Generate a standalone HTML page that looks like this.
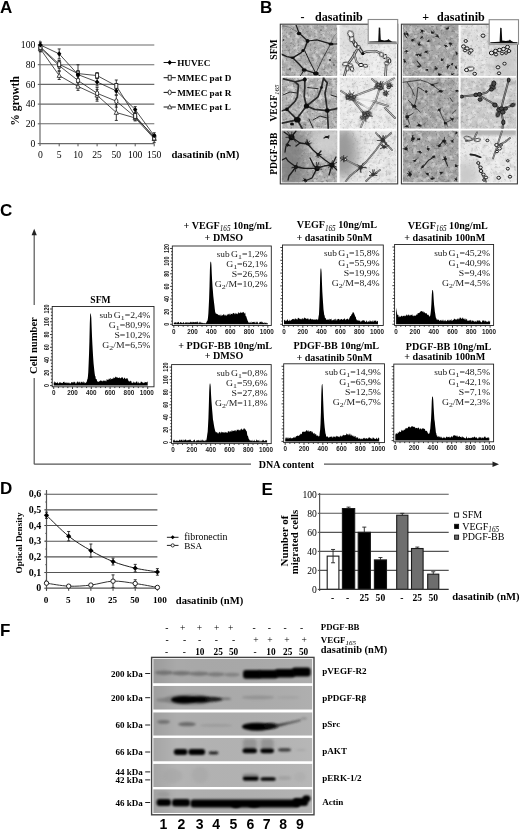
<!DOCTYPE html>
<html><head><meta charset="utf-8"><style>
html,body{margin:0;padding:0;background:#fff;}
body{width:520px;height:830px;overflow:hidden;font-family:"Liberation Serif",serif;}
svg{display:block;filter:blur(0.3px);}
</style></head><body>
<svg width="520" height="830" viewBox="0 0 520 830">
<rect width="520" height="830" fill="#fff"/>
<text x="0.00" y="12.50" font-family="Liberation Sans" font-size="17" font-weight="bold" text-anchor="start" fill="#000">A</text>
<line x1="40.00" y1="45.00" x2="154.30" y2="45.00" stroke="#6a6a6a" stroke-width="1.1"/>
<line x1="37.80" y1="45.00" x2="40.00" y2="45.00" stroke="#555" stroke-width="1"/>
<text x="35.40" y="48.30" font-family="Liberation Serif" font-size="9.7" text-anchor="end" fill="#000">100</text>
<line x1="40.00" y1="64.70" x2="154.30" y2="64.70" stroke="#6a6a6a" stroke-width="1.1"/>
<line x1="37.80" y1="64.70" x2="40.00" y2="64.70" stroke="#555" stroke-width="1"/>
<text x="35.40" y="68.00" font-family="Liberation Serif" font-size="9.7" text-anchor="end" fill="#000">80</text>
<line x1="40.00" y1="84.40" x2="154.30" y2="84.40" stroke="#6a6a6a" stroke-width="1.1"/>
<line x1="37.80" y1="84.40" x2="40.00" y2="84.40" stroke="#555" stroke-width="1"/>
<text x="35.40" y="87.70" font-family="Liberation Serif" font-size="9.7" text-anchor="end" fill="#000">60</text>
<line x1="40.00" y1="104.10" x2="154.30" y2="104.10" stroke="#6a6a6a" stroke-width="1.1"/>
<line x1="37.80" y1="104.10" x2="40.00" y2="104.10" stroke="#555" stroke-width="1"/>
<text x="35.40" y="107.40" font-family="Liberation Serif" font-size="9.7" text-anchor="end" fill="#000">40</text>
<line x1="40.00" y1="123.80" x2="154.30" y2="123.80" stroke="#6a6a6a" stroke-width="1.1"/>
<line x1="37.80" y1="123.80" x2="40.00" y2="123.80" stroke="#555" stroke-width="1"/>
<text x="35.40" y="127.10" font-family="Liberation Serif" font-size="9.7" text-anchor="end" fill="#000">20</text>
<line x1="37.80" y1="143.60" x2="40.00" y2="143.60" stroke="#555" stroke-width="1"/>
<text x="35.40" y="146.90" font-family="Liberation Serif" font-size="9.7" text-anchor="end" fill="#000">0</text>
<line x1="40.00" y1="40.50" x2="40.00" y2="146.00" stroke="#6a6a6a" stroke-width="1.2"/>
<line x1="40.00" y1="143.60" x2="154.30" y2="143.60" stroke="#6a6a6a" stroke-width="1.2"/>
<line x1="59.20" y1="143.60" x2="59.20" y2="146.30" stroke="#555" stroke-width="1"/>
<line x1="78.00" y1="143.60" x2="78.00" y2="146.30" stroke="#555" stroke-width="1"/>
<line x1="97.10" y1="143.60" x2="97.10" y2="146.30" stroke="#555" stroke-width="1"/>
<line x1="116.30" y1="143.60" x2="116.30" y2="146.30" stroke="#555" stroke-width="1"/>
<line x1="135.20" y1="143.60" x2="135.20" y2="146.30" stroke="#555" stroke-width="1"/>
<line x1="154.20" y1="143.60" x2="154.20" y2="146.30" stroke="#555" stroke-width="1"/>
<text x="40.40" y="158.40" font-family="Liberation Serif" font-size="9.7" text-anchor="middle" fill="#000">0</text>
<text x="59.20" y="158.40" font-family="Liberation Serif" font-size="9.7" text-anchor="middle" fill="#000">5</text>
<text x="78.00" y="158.40" font-family="Liberation Serif" font-size="9.7" text-anchor="middle" fill="#000">10</text>
<text x="97.10" y="158.40" font-family="Liberation Serif" font-size="9.7" text-anchor="middle" fill="#000">25</text>
<text x="116.30" y="158.40" font-family="Liberation Serif" font-size="9.7" text-anchor="middle" fill="#000">50</text>
<text x="135.20" y="158.40" font-family="Liberation Serif" font-size="9.7" text-anchor="middle" fill="#000">100</text>
<text x="154.20" y="158.40" font-family="Liberation Serif" font-size="9.7" text-anchor="middle" fill="#000">150</text>
<text x="171.40" y="158.30" font-family="Liberation Serif" font-size="10.7" font-weight="bold" text-anchor="start" fill="#000">dasatinib (nM)</text>
<text x="19.30" y="101.00" font-family="Liberation Serif" font-size="11.6" font-weight="bold" text-anchor="middle" fill="#000" transform="rotate(-90 19.3 101)">% growth</text>
<polyline points="40.40,48.94 59.20,75.57 78.00,86.41 97.10,95.29 116.30,112.54 135.20,117.96 154.20,138.67" fill="none" stroke="#222" stroke-width="0.8"/>
<polyline points="40.40,47.96 59.20,65.71 78.00,80.50 97.10,93.31 116.30,101.20 135.20,116.98 154.20,136.70" fill="none" stroke="#222" stroke-width="0.8"/>
<polyline points="40.40,46.97 59.20,64.23 78.00,73.59 97.10,75.57 116.30,85.92 135.20,115.99 154.20,137.68" fill="none" stroke="#222" stroke-width="0.8"/>
<polyline points="40.40,45.00 59.20,53.87 78.00,74.58 97.10,81.97 116.30,90.85 135.20,109.58 154.20,135.71" fill="none" stroke="#222" stroke-width="0.8"/>
<line x1="40.40" y1="45.99" x2="40.40" y2="51.90" stroke="#222" stroke-width="0.9"/>
<line x1="38.90" y1="45.99" x2="41.90" y2="45.99" stroke="#222" stroke-width="0.9"/>
<line x1="38.90" y1="51.90" x2="41.90" y2="51.90" stroke="#222" stroke-width="0.9"/>
<line x1="59.20" y1="71.62" x2="59.20" y2="79.51" stroke="#222" stroke-width="0.9"/>
<line x1="57.70" y1="71.62" x2="60.70" y2="71.62" stroke="#222" stroke-width="0.9"/>
<line x1="57.70" y1="79.51" x2="60.70" y2="79.51" stroke="#222" stroke-width="0.9"/>
<line x1="78.00" y1="82.47" x2="78.00" y2="90.36" stroke="#222" stroke-width="0.9"/>
<line x1="76.50" y1="82.47" x2="79.50" y2="82.47" stroke="#222" stroke-width="0.9"/>
<line x1="76.50" y1="90.36" x2="79.50" y2="90.36" stroke="#222" stroke-width="0.9"/>
<line x1="97.10" y1="89.37" x2="97.10" y2="101.20" stroke="#222" stroke-width="0.9"/>
<line x1="95.60" y1="89.37" x2="98.60" y2="89.37" stroke="#222" stroke-width="0.9"/>
<line x1="95.60" y1="101.20" x2="98.60" y2="101.20" stroke="#222" stroke-width="0.9"/>
<line x1="116.30" y1="104.65" x2="116.30" y2="120.43" stroke="#222" stroke-width="0.9"/>
<line x1="114.80" y1="104.65" x2="117.80" y2="104.65" stroke="#222" stroke-width="0.9"/>
<line x1="114.80" y1="120.43" x2="117.80" y2="120.43" stroke="#222" stroke-width="0.9"/>
<line x1="135.20" y1="115.01" x2="135.20" y2="120.92" stroke="#222" stroke-width="0.9"/>
<line x1="133.70" y1="115.01" x2="136.70" y2="115.01" stroke="#222" stroke-width="0.9"/>
<line x1="133.70" y1="120.92" x2="136.70" y2="120.92" stroke="#222" stroke-width="0.9"/>
<line x1="154.20" y1="134.73" x2="154.20" y2="142.61" stroke="#222" stroke-width="0.9"/>
<line x1="152.70" y1="134.73" x2="155.70" y2="134.73" stroke="#222" stroke-width="0.9"/>
<line x1="152.70" y1="142.61" x2="155.70" y2="142.61" stroke="#222" stroke-width="0.9"/>
<line x1="40.40" y1="45.00" x2="40.40" y2="50.92" stroke="#222" stroke-width="0.9"/>
<line x1="38.90" y1="45.00" x2="41.90" y2="45.00" stroke="#222" stroke-width="0.9"/>
<line x1="38.90" y1="50.92" x2="41.90" y2="50.92" stroke="#222" stroke-width="0.9"/>
<line x1="59.20" y1="60.78" x2="59.20" y2="70.64" stroke="#222" stroke-width="0.9"/>
<line x1="57.70" y1="60.78" x2="60.70" y2="60.78" stroke="#222" stroke-width="0.9"/>
<line x1="57.70" y1="70.64" x2="60.70" y2="70.64" stroke="#222" stroke-width="0.9"/>
<line x1="78.00" y1="74.58" x2="78.00" y2="86.41" stroke="#222" stroke-width="0.9"/>
<line x1="76.50" y1="74.58" x2="79.50" y2="74.58" stroke="#222" stroke-width="0.9"/>
<line x1="76.50" y1="86.41" x2="79.50" y2="86.41" stroke="#222" stroke-width="0.9"/>
<line x1="97.10" y1="87.40" x2="97.10" y2="99.23" stroke="#222" stroke-width="0.9"/>
<line x1="95.60" y1="87.40" x2="98.60" y2="87.40" stroke="#222" stroke-width="0.9"/>
<line x1="95.60" y1="99.23" x2="98.60" y2="99.23" stroke="#222" stroke-width="0.9"/>
<line x1="116.30" y1="95.29" x2="116.30" y2="107.12" stroke="#222" stroke-width="0.9"/>
<line x1="114.80" y1="95.29" x2="117.80" y2="95.29" stroke="#222" stroke-width="0.9"/>
<line x1="114.80" y1="107.12" x2="117.80" y2="107.12" stroke="#222" stroke-width="0.9"/>
<line x1="135.20" y1="114.02" x2="135.20" y2="119.94" stroke="#222" stroke-width="0.9"/>
<line x1="133.70" y1="114.02" x2="136.70" y2="114.02" stroke="#222" stroke-width="0.9"/>
<line x1="133.70" y1="119.94" x2="136.70" y2="119.94" stroke="#222" stroke-width="0.9"/>
<line x1="154.20" y1="134.73" x2="154.20" y2="138.67" stroke="#222" stroke-width="0.9"/>
<line x1="152.70" y1="134.73" x2="155.70" y2="134.73" stroke="#222" stroke-width="0.9"/>
<line x1="152.70" y1="138.67" x2="155.70" y2="138.67" stroke="#222" stroke-width="0.9"/>
<line x1="40.40" y1="43.03" x2="40.40" y2="50.92" stroke="#222" stroke-width="0.9"/>
<line x1="38.90" y1="43.03" x2="41.90" y2="43.03" stroke="#222" stroke-width="0.9"/>
<line x1="38.90" y1="50.92" x2="41.90" y2="50.92" stroke="#222" stroke-width="0.9"/>
<line x1="59.20" y1="60.28" x2="59.20" y2="68.17" stroke="#222" stroke-width="0.9"/>
<line x1="57.70" y1="60.28" x2="60.70" y2="60.28" stroke="#222" stroke-width="0.9"/>
<line x1="57.70" y1="68.17" x2="60.70" y2="68.17" stroke="#222" stroke-width="0.9"/>
<line x1="78.00" y1="64.72" x2="78.00" y2="82.47" stroke="#222" stroke-width="0.9"/>
<line x1="76.50" y1="64.72" x2="79.50" y2="64.72" stroke="#222" stroke-width="0.9"/>
<line x1="76.50" y1="82.47" x2="79.50" y2="82.47" stroke="#222" stroke-width="0.9"/>
<line x1="97.10" y1="72.61" x2="97.10" y2="78.52" stroke="#222" stroke-width="0.9"/>
<line x1="95.60" y1="72.61" x2="98.60" y2="72.61" stroke="#222" stroke-width="0.9"/>
<line x1="95.60" y1="78.52" x2="98.60" y2="78.52" stroke="#222" stroke-width="0.9"/>
<line x1="116.30" y1="80.00" x2="116.30" y2="91.83" stroke="#222" stroke-width="0.9"/>
<line x1="114.80" y1="80.00" x2="117.80" y2="80.00" stroke="#222" stroke-width="0.9"/>
<line x1="114.80" y1="91.83" x2="117.80" y2="91.83" stroke="#222" stroke-width="0.9"/>
<line x1="135.20" y1="113.03" x2="135.20" y2="118.95" stroke="#222" stroke-width="0.9"/>
<line x1="133.70" y1="113.03" x2="136.70" y2="113.03" stroke="#222" stroke-width="0.9"/>
<line x1="133.70" y1="118.95" x2="136.70" y2="118.95" stroke="#222" stroke-width="0.9"/>
<line x1="154.20" y1="134.73" x2="154.20" y2="140.64" stroke="#222" stroke-width="0.9"/>
<line x1="152.70" y1="134.73" x2="155.70" y2="134.73" stroke="#222" stroke-width="0.9"/>
<line x1="152.70" y1="140.64" x2="155.70" y2="140.64" stroke="#222" stroke-width="0.9"/>
<line x1="40.40" y1="42.04" x2="40.40" y2="47.96" stroke="#222" stroke-width="0.9"/>
<line x1="38.90" y1="42.04" x2="41.90" y2="42.04" stroke="#222" stroke-width="0.9"/>
<line x1="38.90" y1="47.96" x2="41.90" y2="47.96" stroke="#222" stroke-width="0.9"/>
<line x1="59.20" y1="48.94" x2="59.20" y2="58.80" stroke="#222" stroke-width="0.9"/>
<line x1="57.70" y1="48.94" x2="60.70" y2="48.94" stroke="#222" stroke-width="0.9"/>
<line x1="57.70" y1="58.80" x2="60.70" y2="58.80" stroke="#222" stroke-width="0.9"/>
<line x1="78.00" y1="70.64" x2="78.00" y2="78.52" stroke="#222" stroke-width="0.9"/>
<line x1="76.50" y1="70.64" x2="79.50" y2="70.64" stroke="#222" stroke-width="0.9"/>
<line x1="76.50" y1="78.52" x2="79.50" y2="78.52" stroke="#222" stroke-width="0.9"/>
<line x1="97.10" y1="78.03" x2="97.10" y2="85.92" stroke="#222" stroke-width="0.9"/>
<line x1="95.60" y1="78.03" x2="98.60" y2="78.03" stroke="#222" stroke-width="0.9"/>
<line x1="95.60" y1="85.92" x2="98.60" y2="85.92" stroke="#222" stroke-width="0.9"/>
<line x1="116.30" y1="86.90" x2="116.30" y2="94.79" stroke="#222" stroke-width="0.9"/>
<line x1="114.80" y1="86.90" x2="117.80" y2="86.90" stroke="#222" stroke-width="0.9"/>
<line x1="114.80" y1="94.79" x2="117.80" y2="94.79" stroke="#222" stroke-width="0.9"/>
<line x1="135.20" y1="106.62" x2="135.20" y2="112.54" stroke="#222" stroke-width="0.9"/>
<line x1="133.70" y1="106.62" x2="136.70" y2="106.62" stroke="#222" stroke-width="0.9"/>
<line x1="133.70" y1="112.54" x2="136.70" y2="112.54" stroke="#222" stroke-width="0.9"/>
<line x1="154.20" y1="132.75" x2="154.20" y2="138.67" stroke="#222" stroke-width="0.9"/>
<line x1="152.70" y1="132.75" x2="155.70" y2="132.75" stroke="#222" stroke-width="0.9"/>
<line x1="152.70" y1="138.67" x2="155.70" y2="138.67" stroke="#222" stroke-width="0.9"/>
<path d="M40.40 46.64 L42.50 50.74 L38.30 50.74Z" fill="#fff" stroke="#222" stroke-width="0.8"/>
<path d="M59.20 73.27 L61.30 77.37 L57.10 77.37Z" fill="#fff" stroke="#222" stroke-width="0.8"/>
<path d="M78.00 84.11 L80.10 88.21 L75.90 88.21Z" fill="#fff" stroke="#222" stroke-width="0.8"/>
<path d="M97.10 92.99 L99.20 97.09 L95.00 97.09Z" fill="#fff" stroke="#222" stroke-width="0.8"/>
<path d="M116.30 110.24 L118.40 114.34 L114.20 114.34Z" fill="#fff" stroke="#222" stroke-width="0.8"/>
<path d="M135.20 115.66 L137.30 119.76 L133.10 119.76Z" fill="#fff" stroke="#222" stroke-width="0.8"/>
<path d="M154.20 136.37 L156.30 140.47 L152.10 140.47Z" fill="#fff" stroke="#222" stroke-width="0.8"/>
<ellipse cx="40.40" cy="47.96" rx="1.6" ry="2.4" fill="#fff" stroke="#222" stroke-width="0.9"/>
<ellipse cx="59.20" cy="65.71" rx="1.6" ry="2.4" fill="#fff" stroke="#222" stroke-width="0.9"/>
<ellipse cx="78.00" cy="80.50" rx="1.6" ry="2.4" fill="#fff" stroke="#222" stroke-width="0.9"/>
<ellipse cx="97.10" cy="93.31" rx="1.6" ry="2.4" fill="#fff" stroke="#222" stroke-width="0.9"/>
<ellipse cx="116.30" cy="101.20" rx="1.6" ry="2.4" fill="#fff" stroke="#222" stroke-width="0.9"/>
<ellipse cx="135.20" cy="116.98" rx="1.6" ry="2.4" fill="#fff" stroke="#222" stroke-width="0.9"/>
<ellipse cx="154.20" cy="136.70" rx="1.6" ry="2.4" fill="#fff" stroke="#222" stroke-width="0.9"/>
<rect x="38.90" y="44.57" width="3.00" height="4.80" fill="#fff" stroke="#222" stroke-width="0.9"/>
<rect x="57.70" y="61.83" width="3.00" height="4.80" fill="#fff" stroke="#222" stroke-width="0.9"/>
<rect x="76.50" y="71.19" width="3.00" height="4.80" fill="#fff" stroke="#222" stroke-width="0.9"/>
<rect x="95.60" y="73.17" width="3.00" height="4.80" fill="#fff" stroke="#222" stroke-width="0.9"/>
<rect x="114.80" y="83.52" width="3.00" height="4.80" fill="#fff" stroke="#222" stroke-width="0.9"/>
<rect x="133.70" y="113.59" width="3.00" height="4.80" fill="#fff" stroke="#222" stroke-width="0.9"/>
<rect x="152.70" y="135.28" width="3.00" height="4.80" fill="#fff" stroke="#222" stroke-width="0.9"/>
<path d="M40.40 42.40 L42.60 45.00 L40.40 47.60 L38.20 45.00Z" fill="#000"/>
<path d="M59.20 51.27 L61.40 53.87 L59.20 56.47 L57.00 53.87Z" fill="#000"/>
<path d="M78.00 71.98 L80.20 74.58 L78.00 77.18 L75.80 74.58Z" fill="#000"/>
<path d="M97.10 79.38 L99.30 81.97 L97.10 84.57 L94.90 81.97Z" fill="#000"/>
<path d="M116.30 88.25 L118.50 90.85 L116.30 93.45 L114.10 90.85Z" fill="#000"/>
<path d="M135.20 106.98 L137.40 109.58 L135.20 112.18 L133.00 109.58Z" fill="#000"/>
<path d="M154.20 133.11 L156.40 135.71 L154.20 138.31 L152.00 135.71Z" fill="#000"/>
<line x1="163.60" y1="62.50" x2="175.80" y2="62.50" stroke="#111" stroke-width="1"/>
<path d="M169.70 59.90 L171.90 62.50 L169.70 65.10 L167.50 62.50Z" fill="#000"/>
<text x="177.20" y="65.60" font-family="Liberation Serif" font-size="9.2" font-weight="bold" text-anchor="start" fill="#000">HUVEC</text>
<line x1="163.60" y1="77.70" x2="175.80" y2="77.70" stroke="#111" stroke-width="1"/>
<rect x="168.20" y="75.30" width="3.00" height="4.80" fill="#fff" stroke="#222" stroke-width="0.9"/>
<text x="177.20" y="80.80" font-family="Liberation Serif" font-size="9.2" font-weight="bold" text-anchor="start" fill="#000">MMEC pat D</text>
<line x1="163.60" y1="92.40" x2="175.80" y2="92.40" stroke="#111" stroke-width="1"/>
<ellipse cx="169.70" cy="92.40" rx="1.6" ry="2.4" fill="#fff" stroke="#222" stroke-width="0.9"/>
<text x="177.20" y="95.50" font-family="Liberation Serif" font-size="9.2" font-weight="bold" text-anchor="start" fill="#000">MMEC pat R</text>
<line x1="163.60" y1="107.00" x2="175.80" y2="107.00" stroke="#111" stroke-width="1"/>
<path d="M169.70 104.70 L171.80 108.80 L167.60 108.80Z" fill="#fff" stroke="#222" stroke-width="0.8"/>
<text x="177.20" y="110.10" font-family="Liberation Serif" font-size="9.2" font-weight="bold" text-anchor="start" fill="#000">MMEC pat L</text>
<text x="260.00" y="12.70" font-family="Liberation Sans" font-size="17" font-weight="bold" text-anchor="start" fill="#000">B</text>
<text x="302.60" y="21.40" font-family="Liberation Serif" font-size="12" font-weight="bold" text-anchor="middle" fill="#000">-</text>
<text x="315.00" y="21.40" font-family="Liberation Serif" font-size="12.1" font-weight="bold" text-anchor="start" fill="#000">dasatinib</text>
<text x="425.60" y="21.40" font-family="Liberation Serif" font-size="12" font-weight="bold" text-anchor="middle" fill="#000">+</text>
<text x="437.00" y="21.40" font-family="Liberation Serif" font-size="12.1" font-weight="bold" text-anchor="start" fill="#000">dasatinib</text>
<text x="276.80" y="49.50" font-family="Liberation Serif" font-size="9.6" font-weight="bold" text-anchor="middle" fill="#000" transform="rotate(-90 276.8 49.5)">SFM</text>
<text x="276.80" y="103.00" font-family="Liberation Serif" font-size="9.6" font-weight="bold" text-anchor="middle" fill="#000" transform="rotate(-90 276.8 103)">VEGF<tspan font-size="7" dy="2" font-style="italic" font-weight="normal">165</tspan></text>
<text x="276.80" y="153.70" font-family="Liberation Serif" font-size="9.6" font-weight="bold" text-anchor="middle" fill="#000" transform="rotate(-90 276.8 153.7)">PDGF-BB</text>
<defs><filter id="bl1" x="-20%" y="-20%" width="140%" height="140%"><feGaussianBlur stdDeviation="0.6"/></filter><filter id="bl05" x="-20%" y="-20%" width="140%" height="140%"><feGaussianBlur stdDeviation="0.35"/></filter><filter id="bl2" x="-50%" y="-50%" width="200%" height="200%"><feGaussianBlur stdDeviation="1.2"/></filter><filter id="bl4" x="-50%" y="-50%" width="200%" height="200%"><feGaussianBlur stdDeviation="3"/></filter><filter id="bl6" x="-50%" y="-50%" width="200%" height="200%"><feGaussianBlur stdDeviation="6"/></filter><filter id="tdk0" x="0" y="0" width="100%" height="100%" color-interpolation-filters="sRGB"><feTurbulence type="fractalNoise" baseFrequency="0.42" numOctaves="2" seed="11"/><feColorMatrix type="matrix" values="0 0 0 0 0.15  0 0 0 0 0.15  0 0 0 0 0.15  -7 0 0 0 2.95"/></filter><filter id="tmd0" x="0" y="0" width="100%" height="100%" color-interpolation-filters="sRGB"><feTurbulence type="fractalNoise" baseFrequency="0.14" numOctaves="3" seed="31"/><feColorMatrix type="matrix" values="0 0 0 0 0.25  0 0 0 0 0.25  0 0 0 0 0.25  -3.2 0 0 0 1.55"/></filter><filter id="tlt0" x="0" y="0" width="100%" height="100%" color-interpolation-filters="sRGB"><feTurbulence type="fractalNoise" baseFrequency="0.22" numOctaves="3" seed="51"/><feColorMatrix type="matrix" values="0 0 0 0 1  0 0 0 0 1  0 0 0 0 1  3.2 0 0 0 -1.45"/></filter><filter id="tdk1" x="0" y="0" width="100%" height="100%" color-interpolation-filters="sRGB"><feTurbulence type="fractalNoise" baseFrequency="0.42" numOctaves="2" seed="12"/><feColorMatrix type="matrix" values="0 0 0 0 0.15  0 0 0 0 0.15  0 0 0 0 0.15  -7 0 0 0 2.95"/></filter><filter id="tmd1" x="0" y="0" width="100%" height="100%" color-interpolation-filters="sRGB"><feTurbulence type="fractalNoise" baseFrequency="0.14" numOctaves="3" seed="32"/><feColorMatrix type="matrix" values="0 0 0 0 0.25  0 0 0 0 0.25  0 0 0 0 0.25  -3.2 0 0 0 1.55"/></filter><filter id="tlt1" x="0" y="0" width="100%" height="100%" color-interpolation-filters="sRGB"><feTurbulence type="fractalNoise" baseFrequency="0.22" numOctaves="3" seed="52"/><feColorMatrix type="matrix" values="0 0 0 0 1  0 0 0 0 1  0 0 0 0 1  3.2 0 0 0 -1.45"/></filter><filter id="tdk2" x="0" y="0" width="100%" height="100%" color-interpolation-filters="sRGB"><feTurbulence type="fractalNoise" baseFrequency="0.42" numOctaves="2" seed="13"/><feColorMatrix type="matrix" values="0 0 0 0 0.15  0 0 0 0 0.15  0 0 0 0 0.15  -7 0 0 0 2.95"/></filter><filter id="tmd2" x="0" y="0" width="100%" height="100%" color-interpolation-filters="sRGB"><feTurbulence type="fractalNoise" baseFrequency="0.14" numOctaves="3" seed="33"/><feColorMatrix type="matrix" values="0 0 0 0 0.25  0 0 0 0 0.25  0 0 0 0 0.25  -3.2 0 0 0 1.55"/></filter><filter id="tlt2" x="0" y="0" width="100%" height="100%" color-interpolation-filters="sRGB"><feTurbulence type="fractalNoise" baseFrequency="0.22" numOctaves="3" seed="53"/><feColorMatrix type="matrix" values="0 0 0 0 1  0 0 0 0 1  0 0 0 0 1  3.2 0 0 0 -1.45"/></filter><filter id="tdk3" x="0" y="0" width="100%" height="100%" color-interpolation-filters="sRGB"><feTurbulence type="fractalNoise" baseFrequency="0.42" numOctaves="2" seed="14"/><feColorMatrix type="matrix" values="0 0 0 0 0.15  0 0 0 0 0.15  0 0 0 0 0.15  -7 0 0 0 2.95"/></filter><filter id="tmd3" x="0" y="0" width="100%" height="100%" color-interpolation-filters="sRGB"><feTurbulence type="fractalNoise" baseFrequency="0.14" numOctaves="3" seed="34"/><feColorMatrix type="matrix" values="0 0 0 0 0.25  0 0 0 0 0.25  0 0 0 0 0.25  -3.2 0 0 0 1.55"/></filter><filter id="tlt3" x="0" y="0" width="100%" height="100%" color-interpolation-filters="sRGB"><feTurbulence type="fractalNoise" baseFrequency="0.22" numOctaves="3" seed="54"/><feColorMatrix type="matrix" values="0 0 0 0 1  0 0 0 0 1  0 0 0 0 1  3.2 0 0 0 -1.45"/></filter><filter id="tdk4" x="0" y="0" width="100%" height="100%" color-interpolation-filters="sRGB"><feTurbulence type="fractalNoise" baseFrequency="0.42" numOctaves="2" seed="15"/><feColorMatrix type="matrix" values="0 0 0 0 0.15  0 0 0 0 0.15  0 0 0 0 0.15  -7 0 0 0 2.95"/></filter><filter id="tmd4" x="0" y="0" width="100%" height="100%" color-interpolation-filters="sRGB"><feTurbulence type="fractalNoise" baseFrequency="0.14" numOctaves="3" seed="35"/><feColorMatrix type="matrix" values="0 0 0 0 0.25  0 0 0 0 0.25  0 0 0 0 0.25  -3.2 0 0 0 1.55"/></filter><filter id="tlt4" x="0" y="0" width="100%" height="100%" color-interpolation-filters="sRGB"><feTurbulence type="fractalNoise" baseFrequency="0.22" numOctaves="3" seed="55"/><feColorMatrix type="matrix" values="0 0 0 0 1  0 0 0 0 1  0 0 0 0 1  3.2 0 0 0 -1.45"/></filter><filter id="tdk5" x="0" y="0" width="100%" height="100%" color-interpolation-filters="sRGB"><feTurbulence type="fractalNoise" baseFrequency="0.42" numOctaves="2" seed="16"/><feColorMatrix type="matrix" values="0 0 0 0 0.15  0 0 0 0 0.15  0 0 0 0 0.15  -7 0 0 0 2.95"/></filter><filter id="tmd5" x="0" y="0" width="100%" height="100%" color-interpolation-filters="sRGB"><feTurbulence type="fractalNoise" baseFrequency="0.14" numOctaves="3" seed="36"/><feColorMatrix type="matrix" values="0 0 0 0 0.25  0 0 0 0 0.25  0 0 0 0 0.25  -3.2 0 0 0 1.55"/></filter><filter id="tlt5" x="0" y="0" width="100%" height="100%" color-interpolation-filters="sRGB"><feTurbulence type="fractalNoise" baseFrequency="0.22" numOctaves="3" seed="56"/><feColorMatrix type="matrix" values="0 0 0 0 1  0 0 0 0 1  0 0 0 0 1  3.2 0 0 0 -1.45"/></filter><filter id="tdk6" x="0" y="0" width="100%" height="100%" color-interpolation-filters="sRGB"><feTurbulence type="fractalNoise" baseFrequency="0.42" numOctaves="2" seed="17"/><feColorMatrix type="matrix" values="0 0 0 0 0.15  0 0 0 0 0.15  0 0 0 0 0.15  -7 0 0 0 2.95"/></filter><filter id="tmd6" x="0" y="0" width="100%" height="100%" color-interpolation-filters="sRGB"><feTurbulence type="fractalNoise" baseFrequency="0.14" numOctaves="3" seed="37"/><feColorMatrix type="matrix" values="0 0 0 0 0.25  0 0 0 0 0.25  0 0 0 0 0.25  -3.2 0 0 0 1.55"/></filter><filter id="tlt6" x="0" y="0" width="100%" height="100%" color-interpolation-filters="sRGB"><feTurbulence type="fractalNoise" baseFrequency="0.22" numOctaves="3" seed="57"/><feColorMatrix type="matrix" values="0 0 0 0 1  0 0 0 0 1  0 0 0 0 1  3.2 0 0 0 -1.45"/></filter><filter id="tdk7" x="0" y="0" width="100%" height="100%" color-interpolation-filters="sRGB"><feTurbulence type="fractalNoise" baseFrequency="0.42" numOctaves="2" seed="18"/><feColorMatrix type="matrix" values="0 0 0 0 0.15  0 0 0 0 0.15  0 0 0 0 0.15  -7 0 0 0 2.95"/></filter><filter id="tmd7" x="0" y="0" width="100%" height="100%" color-interpolation-filters="sRGB"><feTurbulence type="fractalNoise" baseFrequency="0.14" numOctaves="3" seed="38"/><feColorMatrix type="matrix" values="0 0 0 0 0.25  0 0 0 0 0.25  0 0 0 0 0.25  -3.2 0 0 0 1.55"/></filter><filter id="tlt7" x="0" y="0" width="100%" height="100%" color-interpolation-filters="sRGB"><feTurbulence type="fractalNoise" baseFrequency="0.22" numOctaves="3" seed="58"/><feColorMatrix type="matrix" values="0 0 0 0 1  0 0 0 0 1  0 0 0 0 1  3.2 0 0 0 -1.45"/></filter><filter id="tdk8" x="0" y="0" width="100%" height="100%" color-interpolation-filters="sRGB"><feTurbulence type="fractalNoise" baseFrequency="0.42" numOctaves="2" seed="19"/><feColorMatrix type="matrix" values="0 0 0 0 0.15  0 0 0 0 0.15  0 0 0 0 0.15  -7 0 0 0 2.95"/></filter><filter id="tmd8" x="0" y="0" width="100%" height="100%" color-interpolation-filters="sRGB"><feTurbulence type="fractalNoise" baseFrequency="0.14" numOctaves="3" seed="39"/><feColorMatrix type="matrix" values="0 0 0 0 0.25  0 0 0 0 0.25  0 0 0 0 0.25  -3.2 0 0 0 1.55"/></filter><filter id="tlt8" x="0" y="0" width="100%" height="100%" color-interpolation-filters="sRGB"><feTurbulence type="fractalNoise" baseFrequency="0.22" numOctaves="3" seed="59"/><feColorMatrix type="matrix" values="0 0 0 0 1  0 0 0 0 1  0 0 0 0 1  3.2 0 0 0 -1.45"/></filter><filter id="tdk9" x="0" y="0" width="100%" height="100%" color-interpolation-filters="sRGB"><feTurbulence type="fractalNoise" baseFrequency="0.42" numOctaves="2" seed="20"/><feColorMatrix type="matrix" values="0 0 0 0 0.15  0 0 0 0 0.15  0 0 0 0 0.15  -7 0 0 0 2.95"/></filter><filter id="tmd9" x="0" y="0" width="100%" height="100%" color-interpolation-filters="sRGB"><feTurbulence type="fractalNoise" baseFrequency="0.14" numOctaves="3" seed="40"/><feColorMatrix type="matrix" values="0 0 0 0 0.25  0 0 0 0 0.25  0 0 0 0 0.25  -3.2 0 0 0 1.55"/></filter><filter id="tlt9" x="0" y="0" width="100%" height="100%" color-interpolation-filters="sRGB"><feTurbulence type="fractalNoise" baseFrequency="0.22" numOctaves="3" seed="60"/><feColorMatrix type="matrix" values="0 0 0 0 1  0 0 0 0 1  0 0 0 0 1  3.2 0 0 0 -1.45"/></filter><filter id="tdk10" x="0" y="0" width="100%" height="100%" color-interpolation-filters="sRGB"><feTurbulence type="fractalNoise" baseFrequency="0.42" numOctaves="2" seed="21"/><feColorMatrix type="matrix" values="0 0 0 0 0.15  0 0 0 0 0.15  0 0 0 0 0.15  -7 0 0 0 2.95"/></filter><filter id="tmd10" x="0" y="0" width="100%" height="100%" color-interpolation-filters="sRGB"><feTurbulence type="fractalNoise" baseFrequency="0.14" numOctaves="3" seed="41"/><feColorMatrix type="matrix" values="0 0 0 0 0.25  0 0 0 0 0.25  0 0 0 0 0.25  -3.2 0 0 0 1.55"/></filter><filter id="tlt10" x="0" y="0" width="100%" height="100%" color-interpolation-filters="sRGB"><feTurbulence type="fractalNoise" baseFrequency="0.22" numOctaves="3" seed="61"/><feColorMatrix type="matrix" values="0 0 0 0 1  0 0 0 0 1  0 0 0 0 1  3.2 0 0 0 -1.45"/></filter><filter id="tdk11" x="0" y="0" width="100%" height="100%" color-interpolation-filters="sRGB"><feTurbulence type="fractalNoise" baseFrequency="0.42" numOctaves="2" seed="22"/><feColorMatrix type="matrix" values="0 0 0 0 0.15  0 0 0 0 0.15  0 0 0 0 0.15  -7 0 0 0 2.95"/></filter><filter id="tmd11" x="0" y="0" width="100%" height="100%" color-interpolation-filters="sRGB"><feTurbulence type="fractalNoise" baseFrequency="0.14" numOctaves="3" seed="42"/><feColorMatrix type="matrix" values="0 0 0 0 0.25  0 0 0 0 0.25  0 0 0 0 0.25  -3.2 0 0 0 1.55"/></filter><filter id="tlt11" x="0" y="0" width="100%" height="100%" color-interpolation-filters="sRGB"><feTurbulence type="fractalNoise" baseFrequency="0.22" numOctaves="3" seed="62"/><feColorMatrix type="matrix" values="0 0 0 0 1  0 0 0 0 1  0 0 0 0 1  3.2 0 0 0 -1.45"/></filter></defs>
<rect x="280.30" y="24.20" width="117.40" height="159.70" fill="#fff" stroke="#3a3a3a" stroke-width="1.1"/>
<rect x="401.40" y="24.20" width="116.00" height="159.70" fill="#fff" stroke="#3a3a3a" stroke-width="1.1"/>
<clipPath id="c0"><rect x="281.7" y="25.0" width="55.60" height="51.00"/></clipPath>
<g clip-path="url(#c0)"><rect x="281.7" y="25.0" width="55.60" height="51.00" fill="#acacac"/><rect x="281.7" y="25.0" width="55.60" height="51.00" fill="#000" filter="url(#tmd0)" opacity="0.25"/><rect x="281.7" y="25.0" width="55.60" height="51.00" fill="#fff" filter="url(#tlt0)" opacity="0.45"/><rect x="281.7" y="25.0" width="55.60" height="51.00" fill="#000" filter="url(#tdk0)" opacity="0.2"/><path d="M296.1 25.0 L299.0 33.0 L307.7 41.0 L316.9 39.9 L330.7 43.9 L337.0 44.0" fill="none" stroke="#1e1e1e" stroke-width="1.2" stroke-linecap="round" stroke-linejoin="round" filter="url(#bl1)" opacity="1"/><path d="M307.7 41.0 L304.2 49.7 L301.3 52.6 L292.7 57.8 L286.9 56.6 L281.0 54.0" fill="none" stroke="#1e1e1e" stroke-width="1.4" stroke-linecap="round" stroke-linejoin="round" filter="url(#bl1)" opacity="1"/><path d="M292.7 57.8 L299.0 64.0 L304.2 69.9 L315.8 73.3" fill="none" stroke="#1e1e1e" stroke-width="1.4" stroke-linecap="round" stroke-linejoin="round" filter="url(#bl1)" opacity="1"/><path d="M304.8 50.8 L310.0 62.0 L315.8 73.3" fill="none" stroke="#1e1e1e" stroke-width="1.0" stroke-linecap="round" stroke-linejoin="round" filter="url(#bl1)" opacity="1"/><path d="M330.7 43.9 L323.0 58.0 L315.8 73.3" fill="none" stroke="#1e1e1e" stroke-width="0.7" stroke-linecap="round" stroke-linejoin="round" filter="url(#bl1)" opacity="1"/><path d="M304.2 69.9 L299.6 77.0" fill="none" stroke="#1e1e1e" stroke-width="0.9" stroke-linecap="round" stroke-linejoin="round" filter="url(#bl1)" opacity="1"/><path d="M299.0 33.0 L289.0 27.0 L283.0 26.0" fill="none" stroke="#1e1e1e" stroke-width="0.5" stroke-linecap="round" stroke-linejoin="round" filter="url(#bl1)" opacity="0.6"/><path d="M315.8 73.3 L322.0 77.0" fill="none" stroke="#1e1e1e" stroke-width="0.8" stroke-linecap="round" stroke-linejoin="round" filter="url(#bl1)" opacity="1"/><path d="M330.7 43.9 L334.0 36.0 L337.0 33.0" fill="none" stroke="#1e1e1e" stroke-width="0.5" stroke-linecap="round" stroke-linejoin="round" filter="url(#bl1)" opacity="0.5"/><ellipse cx="299.0" cy="33.5" rx="2.3" ry="1.7" fill="#111" filter="url(#bl1)" opacity="1"/><ellipse cx="307.5" cy="41.0" rx="2.0" ry="2.0" fill="#111" filter="url(#bl1)" opacity="1"/><ellipse cx="331.0" cy="44.0" rx="2.5" ry="1.6" fill="#111" filter="url(#bl1)" opacity="1"/><ellipse cx="292.7" cy="57.8" rx="1.8" ry="1.2" fill="#111" filter="url(#bl1)" opacity="1"/><ellipse cx="304.2" cy="70.0" rx="2.5" ry="1.8" fill="#111" filter="url(#bl1)" opacity="1"/><ellipse cx="315.8" cy="73.5" rx="2.8" ry="1.9" fill="#111" filter="url(#bl1)" opacity="1"/><ellipse cx="303.0" cy="50.5" rx="1.6" ry="1.6" fill="#111" filter="url(#bl1)" opacity="1"/><ellipse cx="283.5" cy="40.0" rx="0.8" ry="0.8" fill="#111" filter="url(#bl1)" opacity="1"/><ellipse cx="330.0" cy="60.0" rx="0.9" ry="0.9" fill="#111" filter="url(#bl1)" opacity="1"/><ellipse cx="290.0" cy="69.0" rx="0.7" ry="0.7" fill="#111" filter="url(#bl1)" opacity="1"/><ellipse cx="321.0" cy="30.0" rx="0.6" ry="0.6" fill="#111" filter="url(#bl1)" opacity="1"/><ellipse cx="334.0" cy="65.0" rx="0.7" ry="0.7" fill="#111" filter="url(#bl1)" opacity="1"/></g>
<clipPath id="c1"><rect x="339.6" y="25.0" width="56.80" height="51.00"/></clipPath>
<g clip-path="url(#c1)"><rect x="339.6" y="25.0" width="56.80" height="51.00" fill="#ececec"/><rect x="339.6" y="25.0" width="56.80" height="51.00" fill="#000" filter="url(#tmd1)" opacity="0.15"/><rect x="339.6" y="25.0" width="56.80" height="51.00" fill="#fff" filter="url(#tlt1)" opacity="0.45"/><rect x="339.6" y="25.0" width="56.80" height="51.00" fill="#000" filter="url(#tdk1)" opacity="0.12"/><rect x="339.6" y="25.0" width="30" height="30" fill="#c8c8c8" filter="url(#bl6)" opacity="0.5"/><path d="M350.7 34.0 L352.0 39.0 L355.3 44.8 L358.8 47.5 L362.8 53.4" fill="none" stroke="#2a2a2a" stroke-width="3.4" stroke-linecap="round" stroke-linejoin="round" opacity="0.9"/><path d="M350.7 34.0 L352.0 39.0 L355.3 44.8 L358.8 47.5 L362.8 53.4" fill="none" stroke="#dcdcdc" stroke-width="1.3" stroke-linecap="round" stroke-linejoin="round" opacity="0.85"/><path d="M362.8 53.4 L366.3 51.7 L376.0 51.1 L381.8 54.0" fill="none" stroke="#3a3a3a" stroke-width="2.4" stroke-linecap="round" stroke-linejoin="round" opacity="0.9"/><path d="M362.8 53.4 L366.3 51.7 L376.0 51.1 L381.8 54.0" fill="none" stroke="#e0e0e0" stroke-width="1.0" stroke-linecap="round" stroke-linejoin="round" opacity="0.85"/><path d="M386.4 62.0 L386.0 68.0 L385.3 77.0" fill="none" stroke="#3a3a3a" stroke-width="2.6" stroke-linecap="round" stroke-linejoin="round" opacity="0.9"/><path d="M386.4 62.0 L386.0 68.0 L385.3 77.0" fill="none" stroke="#e0e0e0" stroke-width="1.1" stroke-linecap="round" stroke-linejoin="round" opacity="0.85"/><path d="M356.5 50.5 L351.8 58.6 L348.4 63.2 L346.0 70.0 L344.0 77.0" fill="none" stroke="#3a3a3a" stroke-width="2.6" stroke-linecap="round" stroke-linejoin="round" opacity="0.9"/><path d="M356.5 50.5 L351.8 58.6 L348.4 63.2 L346.0 70.0 L344.0 77.0" fill="none" stroke="#d8d8d8" stroke-width="1.0" stroke-linecap="round" stroke-linejoin="round" opacity="0.85"/><path d="M354.0 53.0 L356.5 62.0 L360.0 65.0" fill="none" stroke="#444" stroke-width="2.2" stroke-linecap="round" stroke-linejoin="round" opacity="0.9"/><path d="M354.0 53.0 L356.5 62.0 L360.0 65.0" fill="none" stroke="#e0e0e0" stroke-width="0.9" stroke-linecap="round" stroke-linejoin="round" opacity="0.85"/><ellipse cx="350.7" cy="34.2" rx="2.6" ry="3.6" transform="rotate(-30 350.7 34.2)" fill="#f2f2f2" stroke="#1e1e1e" stroke-width="1.0" filter="url(#bl05)"/><ellipse cx="351.8" cy="39.2" rx="2.2" ry="2.6" transform="rotate(20 351.8 39.2)" fill="#f2f2f2" stroke="#1e1e1e" stroke-width="1.0" filter="url(#bl05)"/><ellipse cx="355.5" cy="44.5" rx="1.6" ry="2.4" transform="rotate(0 355.5 44.5)" fill="#f2f2f2" stroke="#1e1e1e" stroke-width="1.0" filter="url(#bl05)"/><ellipse cx="358.5" cy="47.5" rx="1.5" ry="2" transform="rotate(30 358.5 47.5)" fill="#f2f2f2" stroke="#1e1e1e" stroke-width="1.0" filter="url(#bl05)"/><ellipse cx="345.5" cy="64.0" rx="3" ry="1.8" transform="rotate(-10 345.5 64.0)" fill="#f2f2f2" stroke="#1e1e1e" stroke-width="1.0" filter="url(#bl05)"/><ellipse cx="350.5" cy="65.5" rx="2.6" ry="1.6" transform="rotate(30 350.5 65.5)" fill="#f2f2f2" stroke="#1e1e1e" stroke-width="1.0" filter="url(#bl05)"/><ellipse cx="347.5" cy="68.5" rx="1.6" ry="2.6" transform="rotate(10 347.5 68.5)" fill="#f2f2f2" stroke="#1e1e1e" stroke-width="1.0" filter="url(#bl05)"/><ellipse cx="352.0" cy="69.0" rx="1.6" ry="2.4" transform="rotate(-20 352.0 69.0)" fill="#f2f2f2" stroke="#1e1e1e" stroke-width="1.0" filter="url(#bl05)"/><ellipse cx="361.0" cy="65.0" rx="2.4" ry="1.6" transform="rotate(0 361.0 65.0)" fill="#f2f2f2" stroke="#1e1e1e" stroke-width="1.0" filter="url(#bl05)"/><ellipse cx="365.5" cy="65.8" rx="2.2" ry="1.5" transform="rotate(10 365.5 65.8)" fill="#f2f2f2" stroke="#1e1e1e" stroke-width="1.0" filter="url(#bl05)"/><ellipse cx="381.5" cy="54.5" rx="1.8" ry="2.4" transform="rotate(-20 381.5 54.5)" fill="#f2f2f2" stroke="#1e1e1e" stroke-width="1.0" filter="url(#bl05)"/><ellipse cx="385.0" cy="56.5" rx="1.6" ry="2.2" transform="rotate(20 385.0 56.5)" fill="#f2f2f2" stroke="#1e1e1e" stroke-width="1.0" filter="url(#bl05)"/><ellipse cx="388.5" cy="59.5" rx="1.5" ry="2.2" transform="rotate(-30 388.5 59.5)" fill="#f2f2f2" stroke="#1e1e1e" stroke-width="1.0" filter="url(#bl05)"/><ellipse cx="386.5" cy="63.5" rx="2.2" ry="1.4" transform="rotate(20 386.5 63.5)" fill="#f2f2f2" stroke="#1e1e1e" stroke-width="1.0" filter="url(#bl05)"/><ellipse cx="389.5" cy="61.0" rx="1.4" ry="2" transform="rotate(0 389.5 61.0)" fill="#f2f2f2" stroke="#1e1e1e" stroke-width="1.0" filter="url(#bl05)"/><ellipse cx="362.8" cy="53.4" rx="1.5" ry="1.5" fill="#111" filter="url(#bl1)" opacity="1"/></g>
<clipPath id="c2"><rect x="281.7" y="77.4" width="55.60" height="51.40"/></clipPath>
<g clip-path="url(#c2)"><rect x="281.7" y="77.4" width="55.60" height="51.40" fill="#b0b0b0"/><rect x="281.7" y="77.4" width="55.60" height="51.40" fill="#000" filter="url(#tmd2)" opacity="0.25"/><rect x="281.7" y="77.4" width="55.60" height="51.40" fill="#fff" filter="url(#tlt2)" opacity="0.5"/><rect x="281.7" y="77.4" width="55.60" height="51.40" fill="#000" filter="url(#tdk2)" opacity="0.22"/><path d="M283.5 78.9 L295.0 81.8 L304.8 79.5" fill="none" stroke="#2a2a2a" stroke-width="1.7" stroke-linecap="round" stroke-linejoin="round" filter="url(#bl1)" opacity="1"/><path d="M304.8 77.0 L304.8 87.5 L304.2 96.8 L306.5 106.0" fill="none" stroke="#2a2a2a" stroke-width="1.7" stroke-linecap="round" stroke-linejoin="round" filter="url(#bl1)" opacity="1"/><path d="M295.0 81.8 L298.5 85.2 L297.3 96.8 L295.0 101.4 L286.9 109.4 L281.0 111.0" fill="none" stroke="#2a2a2a" stroke-width="1.7" stroke-linecap="round" stroke-linejoin="round" filter="url(#bl1)" opacity="1"/><path d="M306.5 106.0 L298.5 116.4 L297.3 119.8" fill="none" stroke="#2a2a2a" stroke-width="1.7" stroke-linecap="round" stroke-linejoin="round" filter="url(#bl1)" opacity="1"/><path d="M306.5 106.0 L318.0 96.8 L321.5 87.5 L323.8 77.0" fill="none" stroke="#2a2a2a" stroke-width="1.7" stroke-linecap="round" stroke-linejoin="round" filter="url(#bl1)" opacity="1"/><path d="M323.8 78.9 L327.3 82.9 L325.0 93.3 L327.3 110.6" fill="none" stroke="#2a2a2a" stroke-width="1.7" stroke-linecap="round" stroke-linejoin="round" filter="url(#bl1)" opacity="1"/><path d="M327.3 110.6 L338.0 108.3" fill="none" stroke="#2a2a2a" stroke-width="1.7" stroke-linecap="round" stroke-linejoin="round" filter="url(#bl1)" opacity="1"/><path d="M327.3 110.6 L328.4 130.0" fill="none" stroke="#2a2a2a" stroke-width="1.7" stroke-linecap="round" stroke-linejoin="round" filter="url(#bl1)" opacity="1"/><path d="M306.5 106.0 L314.6 109.4 L327.3 110.6" fill="none" stroke="#2a2a2a" stroke-width="1.7" stroke-linecap="round" stroke-linejoin="round" filter="url(#bl1)" opacity="1"/><path d="M286.9 109.4 L297.3 119.8" fill="none" stroke="#2a2a2a" stroke-width="1.7" stroke-linecap="round" stroke-linejoin="round" filter="url(#bl1)" opacity="1"/><path d="M297.3 119.8 L281.0 123.3" fill="none" stroke="#2a2a2a" stroke-width="1.7" stroke-linecap="round" stroke-linejoin="round" filter="url(#bl1)" opacity="1"/><path d="M297.3 119.8 L303.0 130.0" fill="none" stroke="#2a2a2a" stroke-width="1.7" stroke-linecap="round" stroke-linejoin="round" filter="url(#bl1)" opacity="1"/><path d="M307.7 87.5 L318.0 88.7" fill="none" stroke="#2a2a2a" stroke-width="1.0" stroke-linecap="round" stroke-linejoin="round" filter="url(#bl1)" opacity="1"/><path d="M283.0 95.0 L290.0 92.0 L297.0 93.0" fill="none" stroke="#2a2a2a" stroke-width="1.0" stroke-linecap="round" stroke-linejoin="round" filter="url(#bl1)" opacity="1"/><path d="M313.0 120.0 L320.0 116.0 L327.0 118.0" fill="none" stroke="#2a2a2a" stroke-width="1.0" stroke-linecap="round" stroke-linejoin="round" filter="url(#bl1)" opacity="1"/><path d="M331.0 95.0 L337.0 97.0" fill="none" stroke="#2a2a2a" stroke-width="1.0" stroke-linecap="round" stroke-linejoin="round" filter="url(#bl1)" opacity="1"/><path d="M309.0 119.0 L313.0 128.0" fill="none" stroke="#2a2a2a" stroke-width="1.0" stroke-linecap="round" stroke-linejoin="round" filter="url(#bl1)" opacity="1"/><ellipse cx="304.8" cy="79.5" rx="2" ry="2" fill="#111" filter="url(#bl1)" opacity="1"/><ellipse cx="306.5" cy="106.0" rx="2.6" ry="2.6" fill="#111" filter="url(#bl1)" opacity="1"/><ellipse cx="297.3" cy="119.8" rx="3.4" ry="2.8" fill="#111" filter="url(#bl1)" opacity="1"/><ellipse cx="327.3" cy="110.6" rx="2.4" ry="2.4" fill="#111" filter="url(#bl1)" opacity="1"/><ellipse cx="286.9" cy="109.4" rx="1.8" ry="1.8" fill="#111" filter="url(#bl1)" opacity="1"/><ellipse cx="321.5" cy="87.5" rx="1.3" ry="1.3" fill="#111" filter="url(#bl1)" opacity="1"/><ellipse cx="292.0" cy="124.0" rx="2" ry="1.5" fill="#111" filter="url(#bl1)" opacity="1"/></g>
<clipPath id="c3"><rect x="339.6" y="77.4" width="56.80" height="51.40"/></clipPath>
<g clip-path="url(#c3)"><rect x="339.6" y="77.4" width="56.80" height="51.40" fill="#e8e8e8"/><rect x="339.6" y="77.4" width="56.80" height="51.40" fill="#000" filter="url(#tmd3)" opacity="0.15"/><rect x="339.6" y="77.4" width="56.80" height="51.40" fill="#fff" filter="url(#tlt3)" opacity="0.45"/><rect x="339.6" y="77.4" width="56.80" height="51.40" fill="#000" filter="url(#tdk3)" opacity="0.12"/><path d="M341.0 91.0 L350.8 97.4 L365.0 92.0 L380.3 86.3" fill="none" stroke="#555" stroke-width="2.0" stroke-linecap="round" stroke-linejoin="round" opacity="0.9"/><path d="M341.0 91.0 L350.8 97.4 L365.0 92.0 L380.3 86.3" fill="none" stroke="#d8d8d8" stroke-width="0.8" stroke-linecap="round" stroke-linejoin="round" opacity="0.85"/><path d="M350.8 97.4 L358.0 106.0 L365.5 115.8" fill="none" stroke="#555" stroke-width="2.0" stroke-linecap="round" stroke-linejoin="round" opacity="0.9"/><path d="M350.8 97.4 L358.0 106.0 L365.5 115.8" fill="none" stroke="#d8d8d8" stroke-width="0.8" stroke-linecap="round" stroke-linejoin="round" opacity="0.85"/><path d="M380.3 86.3 L376.0 100.0 L365.5 115.8" fill="none" stroke="#555" stroke-width="2.0" stroke-linecap="round" stroke-linejoin="round" opacity="0.9"/><path d="M380.3 86.3 L376.0 100.0 L365.5 115.8" fill="none" stroke="#d8d8d8" stroke-width="0.8" stroke-linecap="round" stroke-linejoin="round" opacity="0.85"/><path d="M350.8 97.4 L372.0 101.0 L388.0 106.0" fill="none" stroke="#555" stroke-width="2.0" stroke-linecap="round" stroke-linejoin="round" opacity="0.9"/><path d="M350.8 97.4 L372.0 101.0 L388.0 106.0" fill="none" stroke="#d8d8d8" stroke-width="0.8" stroke-linecap="round" stroke-linejoin="round" opacity="0.85"/><path d="M380.3 86.3 L372.0 79.0" fill="none" stroke="#555" stroke-width="2.0" stroke-linecap="round" stroke-linejoin="round" opacity="0.9"/><path d="M380.3 86.3 L372.0 79.0" fill="none" stroke="#d8d8d8" stroke-width="0.8" stroke-linecap="round" stroke-linejoin="round" opacity="0.85"/><path d="M380.3 86.3 L394.0 78.0" fill="none" stroke="#555" stroke-width="2.0" stroke-linecap="round" stroke-linejoin="round" opacity="0.9"/><path d="M380.3 86.3 L394.0 78.0" fill="none" stroke="#d8d8d8" stroke-width="0.8" stroke-linecap="round" stroke-linejoin="round" opacity="0.85"/><path d="M365.5 115.8 L361.0 127.0" fill="none" stroke="#555" stroke-width="2.0" stroke-linecap="round" stroke-linejoin="round" opacity="0.9"/><path d="M365.5 115.8 L361.0 127.0" fill="none" stroke="#d8d8d8" stroke-width="0.8" stroke-linecap="round" stroke-linejoin="round" opacity="0.85"/><path d="M385.0 108.0 L395.0 118.0" fill="none" stroke="#555" stroke-width="2.0" stroke-linecap="round" stroke-linejoin="round" opacity="0.9"/><path d="M385.0 108.0 L395.0 118.0" fill="none" stroke="#d8d8d8" stroke-width="0.8" stroke-linecap="round" stroke-linejoin="round" opacity="0.85"/><path d="M352.0 99.0 L370.0 109.0" fill="none" stroke="#555" stroke-width="2.0" stroke-linecap="round" stroke-linejoin="round" opacity="0.9"/><path d="M352.0 99.0 L370.0 109.0" fill="none" stroke="#d8d8d8" stroke-width="0.8" stroke-linecap="round" stroke-linejoin="round" opacity="0.85"/><path d="M356 97 L377 91 L368 111Z" fill="#f7f7f7" opacity="0.8" filter="url(#bl2)"/><ellipse cx="380.3" cy="86.3" rx="3.6" ry="3.6" fill="#6a6a6a" filter="url(#bl1)" opacity="1"/><path d="M380.3 86.3 L384.8 91.4 M380.3 86.3 L380.7 81.3 M380.3 86.3 L374.7 86.5 M380.3 86.3 L376.5 80.9 M380.3 86.3 L384.0 88.7 M380.3 86.3 L383.2 81.5 M380.3 86.3 L380.6 82.0 M380.3 86.3 L374.3 88.5 " stroke="#3a3a3a" stroke-width="0.8" fill="none" stroke-linecap="round" filter="url(#bl05)"/><ellipse cx="350.8" cy="97.4" rx="3.3600000000000003" ry="3.3600000000000003" fill="#6a6a6a" filter="url(#bl1)" opacity="1"/><path d="M350.8 97.4 L357.1 95.6 M350.8 97.4 L354.8 98.9 M350.8 97.4 L353.9 92.2 M350.8 97.4 L348.5 93.1 M350.8 97.4 L346.3 93.9 M350.8 97.4 L346.9 95.2 M350.8 97.4 L346.2 99.5 M350.8 97.4 L349.7 90.8 " stroke="#3a3a3a" stroke-width="0.8" fill="none" stroke-linecap="round" filter="url(#bl05)"/><ellipse cx="365.5" cy="115.8" rx="3.6799999999999997" ry="3.6799999999999997" fill="#6a6a6a" filter="url(#bl1)" opacity="1"/><path d="M365.5 115.8 L366.0 121.8 M365.5 115.8 L361.3 120.3 M365.5 115.8 L362.3 112.5 M365.5 115.8 L372.4 116.4 M365.5 115.8 L365.2 120.9 M365.5 115.8 L371.3 115.6 M365.5 115.8 L368.5 110.8 M365.5 115.8 L362.4 112.1 " stroke="#3a3a3a" stroke-width="0.8" fill="none" stroke-linecap="round" filter="url(#bl05)"/><ellipse cx="386.0" cy="93.0" rx="1.92" ry="1.92" fill="#6a6a6a" filter="url(#bl1)" opacity="1"/><path d="M386.0 93.0 L386.2 95.5 M386.0 93.0 L384.0 94.5 M386.0 93.0 L388.7 94.2 M386.0 93.0 L389.1 91.3 M386.0 93.0 L386.3 90.4 M386.0 93.0 L383.3 92.4 M386.0 93.0 L387.2 95.2 M386.0 93.0 L386.8 96.6 " stroke="#3a3a3a" stroke-width="0.8" fill="none" stroke-linecap="round" filter="url(#bl05)"/><ellipse cx="390.0" cy="86.0" rx="1.7600000000000002" ry="1.7600000000000002" fill="#6a6a6a" filter="url(#bl1)" opacity="1"/><path d="M390.0 86.0 L387.7 83.8 M390.0 86.0 L391.0 82.7 M390.0 86.0 L389.8 82.6 M390.0 86.0 L392.7 86.5 M390.0 86.0 L392.8 84.9 M390.0 86.0 L391.8 84.7 M390.0 86.0 L387.6 86.5 M390.0 86.0 L387.2 85.2 " stroke="#3a3a3a" stroke-width="0.8" fill="none" stroke-linecap="round" filter="url(#bl05)"/><ellipse cx="380.0" cy="85.5" rx="1.1969775887601188" ry="1.4332809249931706" transform="rotate(0.5791548673010993 380.0 85.5)" fill="#8a8a8a" stroke="#1e1e1e" stroke-width="0.8" filter="url(#bl05)"/><ellipse cx="380.3" cy="88.8" rx="1.1565702530281008" ry="1.277135234089143" transform="rotate(55.49850384152566 380.3 88.8)" fill="#8a8a8a" stroke="#1e1e1e" stroke-width="0.8" filter="url(#bl05)"/><ellipse cx="376.6" cy="85.5" rx="1.5924362746056229" ry="1.2260104602250128" transform="rotate(65.25588317239881 376.6 85.5)" fill="#8a8a8a" stroke="#1e1e1e" stroke-width="0.8" filter="url(#bl05)"/><ellipse cx="377.6" cy="84.6" rx="1.1776632695846103" ry="1.2531345258344913" transform="rotate(83.1446807771066 377.6 84.6)" fill="#8a8a8a" stroke="#1e1e1e" stroke-width="0.8" filter="url(#bl05)"/><ellipse cx="381.0" cy="88.1" rx="1.3685653913968538" ry="1.3730476084622143" transform="rotate(9.15024938215306 381.0 88.1)" fill="#8a8a8a" stroke="#1e1e1e" stroke-width="0.8" filter="url(#bl05)"/><ellipse cx="378.6" cy="87.4" rx="1.6079944465689135" ry="1.2108776975034776" transform="rotate(7.8941144759373465 378.6 87.4)" fill="#8a8a8a" stroke="#1e1e1e" stroke-width="0.8" filter="url(#bl05)"/><ellipse cx="378.4" cy="84.4" rx="1.2968290905591981" ry="1.4047553503632348" transform="rotate(17.953489898086076 378.4 84.4)" fill="#8a8a8a" stroke="#1e1e1e" stroke-width="0.8" filter="url(#bl05)"/><ellipse cx="353.9" cy="99.8" rx="1.1383525492777593" ry="1.1894082011498752" transform="rotate(44.25405630858878 353.9 99.8)" fill="#8a8a8a" stroke="#1e1e1e" stroke-width="0.8" filter="url(#bl05)"/><ellipse cx="347.0" cy="96.9" rx="1.734487438168467" ry="1.0560231356472245" transform="rotate(53.716107758497564 347.0 96.9)" fill="#8a8a8a" stroke="#1e1e1e" stroke-width="0.8" filter="url(#bl05)"/><ellipse cx="347.8" cy="97.9" rx="1.7267124145965091" ry="1.1015265968822565" transform="rotate(0.7427304262129186 347.8 97.9)" fill="#8a8a8a" stroke="#1e1e1e" stroke-width="0.8" filter="url(#bl05)"/><ellipse cx="347.5" cy="97.7" rx="1.11222538985731" ry="1.0424182808882674" transform="rotate(44.70674841391211 347.5 97.7)" fill="#8a8a8a" stroke="#1e1e1e" stroke-width="0.8" filter="url(#bl05)"/><ellipse cx="354.2" cy="96.9" rx="1.3786943751164908" ry="1.319358768928415" transform="rotate(8.407601886065967 354.2 96.9)" fill="#8a8a8a" stroke="#1e1e1e" stroke-width="0.8" filter="url(#bl05)"/><ellipse cx="351.4" cy="95.3" rx="1.5262218438367894" ry="1.4791629539474846" transform="rotate(4.875588300075417 351.4 95.3)" fill="#8a8a8a" stroke="#1e1e1e" stroke-width="0.8" filter="url(#bl05)"/><ellipse cx="351.2" cy="98.1" rx="1.2045131342232587" ry="1.1341552761826008" transform="rotate(89.5395515991401 351.2 98.1)" fill="#8a8a8a" stroke="#1e1e1e" stroke-width="0.8" filter="url(#bl05)"/><ellipse cx="369.7" cy="113.3" rx="1.5938277839247683" ry="1.4754613932450935" transform="rotate(21.31074886438678 369.7 113.3)" fill="#8a8a8a" stroke="#1e1e1e" stroke-width="0.8" filter="url(#bl05)"/><ellipse cx="366.4" cy="112.7" rx="1.3561628005800104" ry="1.337062371976893" transform="rotate(53.12331379108748 366.4 112.7)" fill="#8a8a8a" stroke="#1e1e1e" stroke-width="0.8" filter="url(#bl05)"/><ellipse cx="367.8" cy="113.0" rx="1.3430387063099156" ry="1.4320180299941767" transform="rotate(52.57258439735438 367.8 113.0)" fill="#8a8a8a" stroke="#1e1e1e" stroke-width="0.8" filter="url(#bl05)"/><ellipse cx="365.1" cy="115.1" rx="1.7902501625033636" ry="1.2872179625395659" transform="rotate(1.6529953785611762 365.1 115.1)" fill="#8a8a8a" stroke="#1e1e1e" stroke-width="0.8" filter="url(#bl05)"/><ellipse cx="368.0" cy="114.6" rx="1.4035007460280906" ry="1.1067136012826335" transform="rotate(39.96130223771452 368.0 114.6)" fill="#8a8a8a" stroke="#1e1e1e" stroke-width="0.8" filter="url(#bl05)"/><ellipse cx="364.0" cy="113.0" rx="1.5406571164684062" ry="1.0515347179677494" transform="rotate(70.56888971451471 364.0 113.0)" fill="#8a8a8a" stroke="#1e1e1e" stroke-width="0.8" filter="url(#bl05)"/><ellipse cx="361.5" cy="117.7" rx="1.6652848757806924" ry="1.2486653005558201" transform="rotate(63.85031200945728 361.5 117.7)" fill="#8a8a8a" stroke="#1e1e1e" stroke-width="0.8" filter="url(#bl05)"/><ellipse cx="385.0" cy="93.8" rx="1.3975049142054996" ry="1.115476660787221" transform="rotate(86.76672964145635 385.0 93.8)" fill="#8a8a8a" stroke="#1e1e1e" stroke-width="0.8" filter="url(#bl05)"/><ellipse cx="385.6" cy="92.6" rx="1.701931049617563" ry="1.184679989289998" transform="rotate(60.07548336779154 385.6 92.6)" fill="#8a8a8a" stroke="#1e1e1e" stroke-width="0.8" filter="url(#bl05)"/><ellipse cx="384.7" cy="94.1" rx="1.2812384398323449" ry="1.0252518763373462" transform="rotate(87.77330572055845 384.7 94.1)" fill="#8a8a8a" stroke="#1e1e1e" stroke-width="0.8" filter="url(#bl05)"/><ellipse cx="388.7" cy="87.4" rx="1.7903162686838479" ry="1.3032788230043624" transform="rotate(1.068726214724578 388.7 87.4)" fill="#8a8a8a" stroke="#1e1e1e" stroke-width="0.8" filter="url(#bl05)"/><ellipse cx="388.2" cy="85.1" rx="1.3722150519934835" ry="1.3057743385985268" transform="rotate(86.97899633557907 388.2 85.1)" fill="#8a8a8a" stroke="#1e1e1e" stroke-width="0.8" filter="url(#bl05)"/><ellipse cx="389.4" cy="84.9" rx="1.493352504032915" ry="1.0686498022145465" transform="rotate(7.792943546734002 389.4 84.9)" fill="#8a8a8a" stroke="#1e1e1e" stroke-width="0.8" filter="url(#bl05)"/></g>
<clipPath id="c4"><rect x="281.7" y="130.4" width="55.60" height="52.10"/></clipPath>
<g clip-path="url(#c4)"><rect x="281.7" y="130.4" width="55.60" height="52.10" fill="#a8a8a8"/><rect x="281.7" y="130.4" width="55.60" height="52.10" fill="#000" filter="url(#tmd4)" opacity="0.25"/><rect x="281.7" y="130.4" width="55.60" height="52.10" fill="#fff" filter="url(#tlt4)" opacity="0.45"/><rect x="281.7" y="130.4" width="55.60" height="52.10" fill="#000" filter="url(#tdk4)" opacity="0.2"/><rect x="276.7" y="130.4" width="28" height="56" fill="#7e7e7e" filter="url(#bl6)" opacity="0.85"/><rect x="311.3" y="126.4" width="30" height="30" fill="#d2d2d2" filter="url(#bl6)" opacity="0.9"/><path d="M284.0 132.0 L291.5 137.2 L300.0 143.0 L307.7 144.0 L313.0 150.0 L318.0 154.5 L325.0 160.0 L332.0 165.0" fill="none" stroke="#1c1c1c" stroke-width="1.3" stroke-linecap="round" stroke-linejoin="round" filter="url(#bl1)" opacity="1"/><path d="M291.5 137.2 L286.0 146.0 L285.0 152.0" fill="none" stroke="#1c1c1c" stroke-width="1.3" stroke-linecap="round" stroke-linejoin="round" filter="url(#bl1)" opacity="1"/><path d="M291.5 137.2 L296.0 131.0" fill="none" stroke="#1c1c1c" stroke-width="1.3" stroke-linecap="round" stroke-linejoin="round" filter="url(#bl1)" opacity="1"/><path d="M307.7 144.0 L307.0 140.0" fill="none" stroke="#1c1c1c" stroke-width="1.3" stroke-linecap="round" stroke-linejoin="round" filter="url(#bl1)" opacity="1"/><path d="M318.0 154.5 L321.0 151.0" fill="none" stroke="#1c1c1c" stroke-width="1.3" stroke-linecap="round" stroke-linejoin="round" filter="url(#bl1)" opacity="1"/><path d="M332.0 165.0 L336.0 157.0" fill="none" stroke="#1c1c1c" stroke-width="1.3" stroke-linecap="round" stroke-linejoin="round" filter="url(#bl1)" opacity="1"/><path d="M332.0 165.0 L337.0 170.0" fill="none" stroke="#1c1c1c" stroke-width="1.3" stroke-linecap="round" stroke-linejoin="round" filter="url(#bl1)" opacity="1"/><path d="M332.0 165.0 L329.0 175.0" fill="none" stroke="#1c1c1c" stroke-width="1.3" stroke-linecap="round" stroke-linejoin="round" filter="url(#bl1)" opacity="1"/><path d="M310.0 158.0 L314.0 166.0 L317.0 168.4 L324.0 166.0 L332.0 165.0" fill="none" stroke="#1c1c1c" stroke-width="1.3" stroke-linecap="round" stroke-linejoin="round" filter="url(#bl1)" opacity="1"/><path d="M296.0 167.0 L305.0 168.5 L317.0 168.4" fill="none" stroke="#1c1c1c" stroke-width="1.3" stroke-linecap="round" stroke-linejoin="round" filter="url(#bl1)" opacity="1"/><path d="M296.0 167.0 L289.0 176.0 L288.0 180.0" fill="none" stroke="#1c1c1c" stroke-width="1.3" stroke-linecap="round" stroke-linejoin="round" filter="url(#bl1)" opacity="1"/><path d="M317.0 168.4 L312.0 178.0 L305.0 181.0" fill="none" stroke="#1c1c1c" stroke-width="1.3" stroke-linecap="round" stroke-linejoin="round" filter="url(#bl1)" opacity="1"/><path d="M286.0 158.0 L288.0 161.0 L296.0 167.0" fill="none" stroke="#1c1c1c" stroke-width="1.3" stroke-linecap="round" stroke-linejoin="round" filter="url(#bl1)" opacity="1"/><path d="M300.0 143.0 L296.0 146.0" fill="none" stroke="#1c1c1c" stroke-width="1.3" stroke-linecap="round" stroke-linejoin="round" filter="url(#bl1)" opacity="1"/><path d="M324.0 138.0 L329.0 136.0" fill="none" stroke="#1c1c1c" stroke-width="1.3" stroke-linecap="round" stroke-linejoin="round" filter="url(#bl1)" opacity="1"/><path d="M282.0 160.0 L286.0 158.0" fill="none" stroke="#1c1c1c" stroke-width="1.3" stroke-linecap="round" stroke-linejoin="round" filter="url(#bl1)" opacity="1"/><ellipse cx="291.5" cy="137.2" rx="3" ry="3" fill="#111" filter="url(#bl1)" opacity="1"/><path d="M291.5 137.2 L296.0 142.3 M291.5 137.2 L291.9 132.2 M291.5 137.2 L285.9 137.4 M291.5 137.2 L287.7 131.8 M291.5 137.2 L295.2 139.6 M291.5 137.2 L294.4 132.4 " stroke="#1a1a1a" stroke-width="0.8" fill="none" stroke-linecap="round" filter="url(#bl05)"/><ellipse cx="307.7" cy="144.0" rx="1.6" ry="1.6" fill="#111" filter="url(#bl1)" opacity="1"/><path d="M307.7 144.0 L311.3 143.0 M307.7 144.0 L310.0 144.8 M307.7 144.0 L309.5 141.0 M307.7 144.0 L306.4 141.6 M307.7 144.0 L305.2 142.0 M307.7 144.0 L305.5 142.8 " stroke="#1a1a1a" stroke-width="0.8" fill="none" stroke-linecap="round" filter="url(#bl05)"/><ellipse cx="318.0" cy="154.5" rx="1.5" ry="1.5" fill="#111" filter="url(#bl1)" opacity="1"/><path d="M318.0 154.5 L318.2 157.4 M318.0 154.5 L315.9 156.7 M318.0 154.5 L316.4 152.9 M318.0 154.5 L321.4 154.8 M318.0 154.5 L317.9 157.0 M318.0 154.5 L320.8 154.4 " stroke="#1a1a1a" stroke-width="0.8" fill="none" stroke-linecap="round" filter="url(#bl05)"/><ellipse cx="332.0" cy="165.0" rx="2.6" ry="2.6" fill="#111" filter="url(#bl1)" opacity="1"/><path d="M332.0 165.0 L332.4 169.0 M332.0 165.0 L328.7 167.5 M332.0 165.0 L336.3 166.9 M332.0 165.0 L337.0 162.2 M332.0 165.0 L332.4 160.7 M332.0 165.0 L327.7 164.0 " stroke="#1a1a1a" stroke-width="0.8" fill="none" stroke-linecap="round" filter="url(#bl05)"/><ellipse cx="317.0" cy="168.4" rx="2.6" ry="2.6" fill="#111" filter="url(#bl1)" opacity="1"/><path d="M317.0 168.4 L313.0 164.5 M317.0 168.4 L318.7 162.5 M317.0 168.4 L316.6 162.4 M317.0 168.4 L321.8 169.3 M317.0 168.4 L322.0 166.5 M317.0 168.4 L320.3 166.1 " stroke="#1a1a1a" stroke-width="0.8" fill="none" stroke-linecap="round" filter="url(#bl05)"/><ellipse cx="296.0" cy="167.0" rx="2" ry="2" fill="#111" filter="url(#bl1)" opacity="1"/><path d="M296.0 167.0 L297.2 162.7 M296.0 167.0 L292.6 167.3 M296.0 167.0 L300.2 167.0 M296.0 167.0 L291.7 167.8 M296.0 167.0 L293.0 170.1 M296.0 167.0 L295.4 171.4 " stroke="#1a1a1a" stroke-width="0.8" fill="none" stroke-linecap="round" filter="url(#bl05)"/><ellipse cx="288.0" cy="145.0" rx="1.2" ry="1.2" fill="#111" filter="url(#bl1)" opacity="1"/><path d="M288.0 145.0 L287.1 146.7 M288.0 145.0 L286.9 143.5 M288.0 145.0 L285.9 144.5 M288.0 145.0 L290.2 145.8 M288.0 145.0 L290.2 145.5 M288.0 145.0 L289.7 145.8 " stroke="#1a1a1a" stroke-width="0.8" fill="none" stroke-linecap="round" filter="url(#bl05)"/><ellipse cx="305.0" cy="180.0" rx="1.2" ry="1.2" fill="#111" filter="url(#bl1)" opacity="1"/><path d="M305.0 180.0 L305.4 182.8 M305.0 180.0 L306.8 181.8 M305.0 180.0 L306.7 181.0 M305.0 180.0 L307.0 180.0 M305.0 180.0 L303.6 178.2 M305.0 180.0 L302.8 180.7 " stroke="#1a1a1a" stroke-width="0.8" fill="none" stroke-linecap="round" filter="url(#bl05)"/><ellipse cx="327.0" cy="137.0" rx="1" ry="1" fill="#111" filter="url(#bl1)" opacity="1"/><path d="M327.0 137.0 L325.2 137.4 M327.0 137.0 L328.5 138.7 M327.0 137.0 L328.9 137.1 M327.0 137.0 L328.2 136.1 M327.0 137.0 L325.1 136.3 M327.0 137.0 L328.7 137.5 " stroke="#1a1a1a" stroke-width="0.8" fill="none" stroke-linecap="round" filter="url(#bl05)"/></g>
<clipPath id="c5"><rect x="339.6" y="130.4" width="56.80" height="52.10"/></clipPath>
<g clip-path="url(#c5)"><rect x="339.6" y="130.4" width="56.80" height="52.10" fill="#e6e6e6"/><rect x="339.6" y="130.4" width="56.80" height="52.10" fill="#000" filter="url(#tmd5)" opacity="0.15"/><rect x="339.6" y="130.4" width="56.80" height="52.10" fill="#fff" filter="url(#tlt5)" opacity="0.45"/><rect x="339.6" y="130.4" width="56.80" height="52.10" fill="#000" filter="url(#tdk5)" opacity="0.12"/><ellipse cx="343.6" cy="152.4" rx="14" ry="26" fill="#9a9a9a" filter="url(#bl6)"/><path d="M382.8 140.3 L376.0 150.0 L366.0 162.0 L360.6 167.4" fill="none" stroke="#4a4a4a" stroke-width="1.8" stroke-linecap="round" stroke-linejoin="round" opacity="0.9"/><path d="M382.8 140.3 L376.0 150.0 L366.0 162.0 L360.6 167.4" fill="none" stroke="#d0d0d0" stroke-width="0.6" stroke-linecap="round" stroke-linejoin="round" opacity="0.85"/><path d="M343.4 158.8 L352.0 163.0 L360.6 167.4" fill="none" stroke="#4a4a4a" stroke-width="1.8" stroke-linecap="round" stroke-linejoin="round" opacity="0.9"/><path d="M343.4 158.8 L352.0 163.0 L360.6 167.4" fill="none" stroke="#d0d0d0" stroke-width="0.6" stroke-linecap="round" stroke-linejoin="round" opacity="0.85"/><path d="M360.6 167.4 L350.0 176.0 L346.0 181.0" fill="none" stroke="#4a4a4a" stroke-width="1.8" stroke-linecap="round" stroke-linejoin="round" opacity="0.9"/><path d="M360.6 167.4 L350.0 176.0 L346.0 181.0" fill="none" stroke="#d0d0d0" stroke-width="0.6" stroke-linecap="round" stroke-linejoin="round" opacity="0.85"/><path d="M382.8 140.3 L376.0 133.0" fill="none" stroke="#4a4a4a" stroke-width="1.8" stroke-linecap="round" stroke-linejoin="round" opacity="0.9"/><path d="M382.8 140.3 L376.0 133.0" fill="none" stroke="#d0d0d0" stroke-width="0.6" stroke-linecap="round" stroke-linejoin="round" opacity="0.85"/><path d="M382.8 140.3 L391.0 133.0" fill="none" stroke="#4a4a4a" stroke-width="1.8" stroke-linecap="round" stroke-linejoin="round" opacity="0.9"/><path d="M382.8 140.3 L391.0 133.0" fill="none" stroke="#d0d0d0" stroke-width="0.6" stroke-linecap="round" stroke-linejoin="round" opacity="0.85"/><path d="M382.8 140.3 L392.0 150.0" fill="none" stroke="#4a4a4a" stroke-width="1.8" stroke-linecap="round" stroke-linejoin="round" opacity="0.9"/><path d="M382.8 140.3 L392.0 150.0" fill="none" stroke="#d0d0d0" stroke-width="0.6" stroke-linecap="round" stroke-linejoin="round" opacity="0.85"/><path d="M373.0 174.8 L366.0 181.0" fill="none" stroke="#4a4a4a" stroke-width="1.8" stroke-linecap="round" stroke-linejoin="round" opacity="0.9"/><path d="M373.0 174.8 L366.0 181.0" fill="none" stroke="#d0d0d0" stroke-width="0.6" stroke-linecap="round" stroke-linejoin="round" opacity="0.85"/><path d="M373.0 174.8 L380.0 170.0" fill="none" stroke="#4a4a4a" stroke-width="1.8" stroke-linecap="round" stroke-linejoin="round" opacity="0.9"/><path d="M373.0 174.8 L380.0 170.0" fill="none" stroke="#d0d0d0" stroke-width="0.6" stroke-linecap="round" stroke-linejoin="round" opacity="0.85"/><ellipse cx="382.8" cy="140.3" rx="2.38" ry="2.38" fill="#3c3c3c" filter="url(#bl1)" opacity="1"/><path d="M382.8 140.3 L387.0 145.1 M382.8 140.3 L383.2 135.5 M382.8 140.3 L377.5 140.5 M382.8 140.3 L379.2 135.2 M382.8 140.3 L386.3 142.6 M382.8 140.3 L385.5 135.8 M382.8 140.3 L383.1 136.2 " stroke="#333" stroke-width="0.9" fill="none" stroke-linecap="round" filter="url(#bl05)"/><ellipse cx="384.0" cy="147.0" rx="1.8199999999999998" ry="1.8199999999999998" fill="#3c3c3c" filter="url(#bl1)" opacity="1"/><path d="M384.0 147.0 L388.9 145.6 M384.0 147.0 L387.1 148.1 M384.0 147.0 L386.4 143.0 M384.0 147.0 L382.2 143.7 M384.0 147.0 L380.6 144.3 M384.0 147.0 L381.0 145.3 M384.0 147.0 L380.4 148.7 " stroke="#333" stroke-width="0.9" fill="none" stroke-linecap="round" filter="url(#bl05)"/><ellipse cx="360.6" cy="167.4" rx="2.2399999999999998" ry="2.2399999999999998" fill="#3c3c3c" filter="url(#bl1)" opacity="1"/><path d="M360.6 167.4 L361.0 172.6 M360.6 167.4 L356.9 171.3 M360.6 167.4 L357.8 164.6 M360.6 167.4 L366.6 167.9 M360.6 167.4 L360.3 171.8 M360.6 167.4 L365.6 167.3 M360.6 167.4 L363.2 163.1 " stroke="#333" stroke-width="0.9" fill="none" stroke-linecap="round" filter="url(#bl05)"/><ellipse cx="343.4" cy="158.8" rx="1.68" ry="1.68" fill="#3c3c3c" filter="url(#bl1)" opacity="1"/><path d="M343.4 158.8 L343.7 161.9 M343.4 158.8 L340.9 160.7 M343.4 158.8 L346.7 160.3 M343.4 158.8 L347.2 156.6 M343.4 158.8 L343.7 155.5 M343.4 158.8 L340.1 158.0 M343.4 158.8 L344.8 161.5 " stroke="#333" stroke-width="0.9" fill="none" stroke-linecap="round" filter="url(#bl05)"/><ellipse cx="373.0" cy="174.8" rx="1.8199999999999998" ry="1.8199999999999998" fill="#3c3c3c" filter="url(#bl1)" opacity="1"/><path d="M373.0 174.8 L369.7 171.5 M373.0 174.8 L374.4 169.9 M373.0 174.8 L372.7 169.8 M373.0 174.8 L377.0 175.5 M373.0 174.8 L377.2 173.2 M373.0 174.8 L375.7 172.8 M373.0 174.8 L369.4 175.5 " stroke="#333" stroke-width="0.9" fill="none" stroke-linecap="round" filter="url(#bl05)"/><ellipse cx="342.0" cy="158.0" rx="1.3" ry="1.10" fill="#ddd" stroke="#222" stroke-width="0.9" filter="url(#bl05)"/><ellipse cx="345.5" cy="159.5" rx="1.2" ry="1.02" fill="#ddd" stroke="#222" stroke-width="0.9" filter="url(#bl05)"/></g>
<clipPath id="c6"><rect x="402.6" y="25.0" width="56.10" height="51.00"/></clipPath>
<g clip-path="url(#c6)"><rect x="402.6" y="25.0" width="56.10" height="51.00" fill="#a5a5a5"/><rect x="402.6" y="25.0" width="56.10" height="51.00" fill="#000" filter="url(#tmd6)" opacity="0.25"/><rect x="402.6" y="25.0" width="56.10" height="51.00" fill="#fff" filter="url(#tlt6)" opacity="0.4"/><rect x="402.6" y="25.0" width="56.10" height="51.00" fill="#000" filter="url(#tdk6)" opacity="0.2"/><ellipse cx="447.7" cy="28.6" rx="1.1737410169338212" ry="0.938992813547057" fill="#1e1e1e" filter="url(#bl05)" opacity="1"/><path d="M447.7 28.6 L448.9 26.8 M447.7 28.6 L446.2 29.3 M447.7 28.6 L445.9 28.4 M447.7 28.6 L448.0 26.9 " stroke="#1e1e1e" stroke-width="0.7" fill="none" stroke-linecap="round" filter="url(#bl05)"/><ellipse cx="437.5" cy="36.3" rx="1.2450721935564375" ry="0.99605775484515" fill="#1e1e1e" filter="url(#bl05)" opacity="1"/><path d="M437.5 36.3 L439.1 38.1 M437.5 36.3 L437.7 34.6 M437.5 36.3 L435.6 36.4 M437.5 36.3 L436.2 34.4 " stroke="#1e1e1e" stroke-width="0.7" fill="none" stroke-linecap="round" filter="url(#bl05)"/><ellipse cx="432.2" cy="32.7" rx="1.277116139339418" ry="1.0216929114715343" fill="#1e1e1e" filter="url(#bl05)" opacity="1"/><path d="M432.2 32.7 L434.6 32.0 M432.2 32.7 L433.7 33.3 M432.2 32.7 L433.4 30.8 M432.2 32.7 L431.3 31.1 " stroke="#1e1e1e" stroke-width="0.7" fill="none" stroke-linecap="round" filter="url(#bl05)"/><ellipse cx="422.1" cy="30.9" rx="1.3654701702662302" ry="1.0923761362129842" fill="#1e1e1e" filter="url(#bl05)" opacity="1"/><path d="M422.1 30.9 L422.2 33.2 M422.1 30.9 L420.5 32.6 M422.1 30.9 L420.8 29.7 M422.1 30.9 L424.6 31.2 " stroke="#1e1e1e" stroke-width="0.7" fill="none" stroke-linecap="round" filter="url(#bl05)"/><ellipse cx="412.5" cy="39.9" rx="1.2439391448439583" ry="0.9951513158751667" fill="#1e1e1e" filter="url(#bl05)" opacity="1"/><path d="M412.5 39.9 L412.7 41.5 M412.5 39.9 L411.2 40.9 M412.5 39.9 L414.2 40.6 M412.5 39.9 L414.5 38.7 " stroke="#1e1e1e" stroke-width="0.7" fill="none" stroke-linecap="round" filter="url(#bl05)"/><ellipse cx="419.1" cy="44.6" rx="1.3533949979992501" ry="1.0827159983994001" fill="#1e1e1e" filter="url(#bl05)" opacity="1"/><path d="M419.1 44.6 L417.3 43.0 M419.1 44.6 L419.8 42.1 M419.1 44.6 L418.9 42.0 M419.1 44.6 L421.2 45.0 " stroke="#1e1e1e" stroke-width="0.7" fill="none" stroke-linecap="round" filter="url(#bl05)"/><ellipse cx="428.6" cy="41.1" rx="0.8174031369701689" ry="0.6539225095761352" fill="#1e1e1e" filter="url(#bl05)" opacity="1"/><path d="M428.6 41.1 L429.0 39.6 M428.6 41.1 L427.5 41.2 M428.6 41.1 L430.0 41.1 M428.6 41.1 L427.2 41.3 " stroke="#1e1e1e" stroke-width="0.7" fill="none" stroke-linecap="round" filter="url(#bl05)"/><ellipse cx="445.9" cy="45.8" rx="1.079373592626863" ry="0.8634988741014905" fill="#1e1e1e" filter="url(#bl05)" opacity="1"/><path d="M445.9 45.8 L445.3 47.1 M445.9 45.8 L445.1 44.7 M445.9 45.8 L444.3 45.5 M445.9 45.8 L447.5 46.5 " stroke="#1e1e1e" stroke-width="0.7" fill="none" stroke-linecap="round" filter="url(#bl05)"/><ellipse cx="450.1" cy="43.5" rx="1.366014030198988" ry="1.0928112241591905" fill="#1e1e1e" filter="url(#bl05)" opacity="1"/><path d="M450.1 43.5 L450.5 46.1 M450.1 43.5 L451.7 45.2 M450.1 43.5 L451.7 44.4 M450.1 43.5 L451.9 43.4 " stroke="#1e1e1e" stroke-width="0.7" fill="none" stroke-linecap="round" filter="url(#bl05)"/><ellipse cx="426.2" cy="51.8" rx="1.1893847318821544" ry="0.9515077855057236" fill="#1e1e1e" filter="url(#bl05)" opacity="1"/><path d="M426.2 51.8 L424.5 52.2 M426.2 51.8 L427.7 53.5 M426.2 51.8 L428.1 51.9 M426.2 51.8 L427.4 50.9 " stroke="#1e1e1e" stroke-width="0.7" fill="none" stroke-linecap="round" filter="url(#bl05)"/><ellipse cx="420.3" cy="55.4" rx="1.3405402950503735" ry="1.072432236040299" fill="#1e1e1e" filter="url(#bl05)" opacity="1"/><path d="M420.3 55.4 L418.4 54.5 M420.3 55.4 L418.6 54.5 M420.3 55.4 L421.2 53.1 M420.3 55.4 L419.2 53.9 " stroke="#1e1e1e" stroke-width="0.7" fill="none" stroke-linecap="round" filter="url(#bl05)"/><ellipse cx="417.3" cy="54.8" rx="0.8679235787918866" ry="0.6943388630335093" fill="#1e1e1e" filter="url(#bl05)" opacity="1"/><path d="M417.3 54.8 L415.9 55.2 M417.3 54.8 L418.5 54.2 M417.3 54.8 L415.8 54.7 M417.3 54.8 L417.8 56.1 " stroke="#1e1e1e" stroke-width="0.7" fill="none" stroke-linecap="round" filter="url(#bl05)"/><ellipse cx="406.6" cy="51.2" rx="1.0814414286692982" ry="0.8651531429354385" fill="#1e1e1e" filter="url(#bl05)" opacity="1"/><path d="M406.6 51.2 L404.7 51.5 M406.6 51.2 L405.8 50.0 M406.6 51.2 L408.2 51.3 M406.6 51.2 L406.3 53.2 " stroke="#1e1e1e" stroke-width="0.7" fill="none" stroke-linecap="round" filter="url(#bl05)"/><ellipse cx="456.6" cy="53.0" rx="0.9479436995718982" ry="0.7583549596575185" fill="#1e1e1e" filter="url(#bl05)" opacity="1"/><path d="M456.6 53.0 L456.5 54.6 M456.6 53.0 L455.9 51.4 M456.6 53.0 L457.1 54.2 M456.6 53.0 L457.4 54.0 " stroke="#1e1e1e" stroke-width="0.7" fill="none" stroke-linecap="round" filter="url(#bl05)"/><ellipse cx="404.8" cy="61.3" rx="1.1262565155415583" ry="0.9010052124332466" fill="#1e1e1e" filter="url(#bl05)" opacity="1"/><path d="M404.8 61.3 L406.3 62.6 M404.8 61.3 L403.5 59.5 M404.8 61.3 L404.6 62.9 M404.8 61.3 L404.6 59.4 " stroke="#1e1e1e" stroke-width="0.7" fill="none" stroke-linecap="round" filter="url(#bl05)"/><ellipse cx="441.7" cy="60.1" rx="1.1443647127568604" ry="0.9154917702054883" fill="#1e1e1e" filter="url(#bl05)" opacity="1"/><path d="M441.7 60.1 L443.1 59.8 M441.7 60.1 L441.6 58.6 M441.7 60.1 L443.1 60.0 M441.7 60.1 L443.2 58.8 " stroke="#1e1e1e" stroke-width="0.7" fill="none" stroke-linecap="round" filter="url(#bl05)"/><ellipse cx="452.4" cy="63.7" rx="0.8078685137533413" ry="0.6462948110026732" fill="#1e1e1e" filter="url(#bl05)" opacity="1"/><path d="M452.4 63.7 L451.6 64.7 M452.4 63.7 L451.4 64.3 M452.4 63.7 L451.3 64.5 M452.4 63.7 L452.4 65.1 " stroke="#1e1e1e" stroke-width="0.7" fill="none" stroke-linecap="round" filter="url(#bl05)"/><ellipse cx="419.1" cy="66.7" rx="0.9300378802783089" ry="0.7440303042226472" fill="#1e1e1e" filter="url(#bl05)" opacity="1"/><path d="M419.1 66.7 L417.4 66.5 M419.1 66.7 L420.4 66.4 M419.1 66.7 L419.2 65.1 M419.1 66.7 L418.4 65.7 " stroke="#1e1e1e" stroke-width="0.7" fill="none" stroke-linecap="round" filter="url(#bl05)"/><ellipse cx="427.4" cy="69.7" rx="0.9676894196066662" ry="0.774151535685333" fill="#1e1e1e" filter="url(#bl05)" opacity="1"/><path d="M427.4 69.7 L428.1 71.2 M427.4 69.7 L426.7 70.8 M427.4 69.7 L425.9 69.8 M427.4 69.7 L425.9 69.9 " stroke="#1e1e1e" stroke-width="0.7" fill="none" stroke-linecap="round" filter="url(#bl05)"/><ellipse cx="436.4" cy="68.5" rx="1.349807223085131" ry="1.0798457784681048" fill="#1e1e1e" filter="url(#bl05)" opacity="1"/><path d="M436.4 68.5 L435.3 66.3 M436.4 68.5 L434.2 68.2 M436.4 68.5 L434.2 70.2 M436.4 68.5 L435.9 70.2 " stroke="#1e1e1e" stroke-width="0.7" fill="none" stroke-linecap="round" filter="url(#bl05)"/><ellipse cx="447.7" cy="66.7" rx="1.259435270977485" ry="1.007548216781988" fill="#1e1e1e" filter="url(#bl05)" opacity="1"/><path d="M447.7 66.7 L449.5 65.5 M447.7 66.7 L447.9 64.3 M447.7 66.7 L447.5 68.8 M447.7 66.7 L449.7 65.4 " stroke="#1e1e1e" stroke-width="0.7" fill="none" stroke-linecap="round" filter="url(#bl05)"/><ellipse cx="456.0" cy="67.3" rx="0.895762527414823" ry="0.7166100219318584" fill="#1e1e1e" filter="url(#bl05)" opacity="1"/><path d="M456.0 67.3 L456.8 68.6 M456.0 67.3 L455.1 66.2 M456.0 67.3 L456.4 68.9 M456.0 67.3 L456.5 65.9 " stroke="#1e1e1e" stroke-width="0.7" fill="none" stroke-linecap="round" filter="url(#bl05)"/><ellipse cx="439.3" cy="74.4" rx="1.2782881948587226" ry="1.0226305558869782" fill="#1e1e1e" filter="url(#bl05)" opacity="1"/><path d="M439.3 74.4 L441.0 74.0 M439.3 74.4 L441.9 74.8 M439.3 74.4 L440.0 76.0 M439.3 74.4 L438.2 72.9 " stroke="#1e1e1e" stroke-width="0.7" fill="none" stroke-linecap="round" filter="url(#bl05)"/><ellipse cx="452.4" cy="74.4" rx="0.8832604510393419" ry="0.7066083608314736" fill="#1e1e1e" filter="url(#bl05)" opacity="1"/><path d="M452.4 74.4 L454.0 73.7 M452.4 74.4 L453.3 73.7 M452.4 74.4 L451.3 73.7 M452.4 74.4 L451.3 74.2 " stroke="#1e1e1e" stroke-width="0.7" fill="none" stroke-linecap="round" filter="url(#bl05)"/><ellipse cx="407.2" cy="33.9" rx="1.1704715122796698" ry="0.936377209823736" fill="#1e1e1e" filter="url(#bl05)" opacity="1"/><path d="M407.2 33.9 L406.6 31.8 M407.2 33.9 L408.1 36.1 M407.2 33.9 L407.9 35.8 M407.2 33.9 L408.9 35.1 " stroke="#1e1e1e" stroke-width="0.7" fill="none" stroke-linecap="round" filter="url(#bl05)"/><ellipse cx="421.5" cy="37.5" rx="0.8760195395301619" ry="0.7008156316241295" fill="#1e1e1e" filter="url(#bl05)" opacity="1"/><path d="M421.5 37.5 L420.2 38.7 M421.5 37.5 L422.1 36.5 M421.5 37.5 L422.5 36.4 M421.5 37.5 L423.1 37.9 " stroke="#1e1e1e" stroke-width="0.7" fill="none" stroke-linecap="round" filter="url(#bl05)"/><ellipse cx="404.8" cy="33.9" rx="0.8010649173215209" ry="0.6408519338572167" fill="#1e1e1e" filter="url(#bl05)" opacity="1"/><path d="M404.8 33.9 L404.7 32.8 M404.8 33.9 L405.1 35.2 M404.8 33.9 L406.1 34.4 M404.8 33.9 L404.9 32.9 " stroke="#1e1e1e" stroke-width="0.7" fill="none" stroke-linecap="round" filter="url(#bl05)"/><path d="M417.0 61.0 L421.0 66.0" fill="none" stroke="#1e1e1e" stroke-width="1.1" stroke-linecap="round" stroke-linejoin="round" filter="url(#bl1)" opacity="1"/><path d="M404.0 34.0 L407.0 38.0" fill="none" stroke="#1e1e1e" stroke-width="0.9" stroke-linecap="round" stroke-linejoin="round" filter="url(#bl1)" opacity="1"/></g>
<clipPath id="c7"><rect x="460.4" y="25.0" width="56.00" height="51.00"/></clipPath>
<g clip-path="url(#c7)"><rect x="460.4" y="25.0" width="56.00" height="51.00" fill="#dedede"/><rect x="460.4" y="25.0" width="56.00" height="51.00" fill="#000" filter="url(#tmd7)" opacity="0.15"/><rect x="460.4" y="25.0" width="56.00" height="51.00" fill="#fff" filter="url(#tlt7)" opacity="0.45"/><rect x="460.4" y="25.0" width="56.00" height="51.00" fill="#000" filter="url(#tdk7)" opacity="0.12"/><rect x="494.4" y="45.0" width="24" height="40" fill="#c4c4c4" filter="url(#bl6)" opacity="0.8"/><ellipse cx="483.0" cy="35.7" rx="2.0" ry="1.70" fill="#e6e6e6" stroke="#1e1e1e" stroke-width="1.0" filter="url(#bl05)"/><ellipse cx="465.7" cy="41.0" rx="1.7" ry="1.44" fill="#e6e6e6" stroke="#1e1e1e" stroke-width="1.0" filter="url(#bl05)"/><ellipse cx="463.5" cy="46.5" rx="2" ry="1.70" fill="#e6e6e6" stroke="#1e1e1e" stroke-width="1.0" filter="url(#bl05)"/><ellipse cx="467.0" cy="48.5" rx="2" ry="1.70" fill="#e6e6e6" stroke="#1e1e1e" stroke-width="1.0" filter="url(#bl05)"/><ellipse cx="471.0" cy="50.5" rx="2.1" ry="1.78" fill="#e6e6e6" stroke="#1e1e1e" stroke-width="1.0" filter="url(#bl05)"/><ellipse cx="465.0" cy="50.5" rx="1.6" ry="1.36" fill="#e6e6e6" stroke="#1e1e1e" stroke-width="1.0" filter="url(#bl05)"/><ellipse cx="469.5" cy="53.0" rx="1.5" ry="1.27" fill="#e6e6e6" stroke="#1e1e1e" stroke-width="1.0" filter="url(#bl05)"/><ellipse cx="491.5" cy="53.0" rx="2.2" ry="1.87" fill="#e6e6e6" stroke="#1e1e1e" stroke-width="1.0" filter="url(#bl05)"/><ellipse cx="495.5" cy="51.0" rx="2" ry="1.70" fill="#e6e6e6" stroke="#1e1e1e" stroke-width="1.0" filter="url(#bl05)"/><ellipse cx="499.5" cy="50.0" rx="2" ry="1.70" fill="#e6e6e6" stroke="#1e1e1e" stroke-width="1.0" filter="url(#bl05)"/><ellipse cx="503.5" cy="49.0" rx="2" ry="1.70" fill="#e6e6e6" stroke="#1e1e1e" stroke-width="1.0" filter="url(#bl05)"/><ellipse cx="507.5" cy="47.0" rx="2" ry="1.70" fill="#e6e6e6" stroke="#1e1e1e" stroke-width="1.0" filter="url(#bl05)"/><ellipse cx="509.0" cy="51.0" rx="1.8" ry="1.53" fill="#e6e6e6" stroke="#1e1e1e" stroke-width="1.0" filter="url(#bl05)"/><ellipse cx="496.0" cy="54.5" rx="1.7" ry="1.44" fill="#e6e6e6" stroke="#1e1e1e" stroke-width="1.0" filter="url(#bl05)"/><ellipse cx="502.0" cy="53.5" rx="1.6" ry="1.36" fill="#e6e6e6" stroke="#1e1e1e" stroke-width="1.0" filter="url(#bl05)"/><ellipse cx="506.0" cy="53.0" rx="1.5" ry="1.27" fill="#e6e6e6" stroke="#1e1e1e" stroke-width="1.0" filter="url(#bl05)"/><ellipse cx="498.0" cy="67.3" rx="1.9" ry="1.61" fill="#e6e6e6" stroke="#1e1e1e" stroke-width="1.0" filter="url(#bl05)"/><ellipse cx="504.5" cy="63.7" rx="1.7" ry="1.44" fill="#e6e6e6" stroke="#1e1e1e" stroke-width="1.0" filter="url(#bl05)"/><ellipse cx="499.0" cy="73.3" rx="1.7" ry="1.44" fill="#e6e6e6" stroke="#1e1e1e" stroke-width="1.0" filter="url(#bl05)"/><ellipse cx="474.7" cy="73.8" rx="1.8" ry="1.53" fill="#e6e6e6" stroke="#1e1e1e" stroke-width="1.0" filter="url(#bl05)"/><ellipse cx="512.0" cy="40.0" rx="1.4" ry="1.19" fill="#e6e6e6" stroke="#1e1e1e" stroke-width="1.0" filter="url(#bl05)"/><ellipse cx="470.0" cy="69.0" rx="4.2" ry="2" transform="rotate(-10 470.0 69.0)" fill="#f2f2f2" stroke="#1e1e1e" stroke-width="1.0" filter="url(#bl05)"/><ellipse cx="466.5" cy="70.0" rx="2" ry="1.6" transform="rotate(0 466.5 70.0)" fill="#f2f2f2" stroke="#1e1e1e" stroke-width="1.0" filter="url(#bl05)"/></g>
<clipPath id="c8"><rect x="402.6" y="77.4" width="56.10" height="51.40"/></clipPath>
<g clip-path="url(#c8)"><rect x="402.6" y="77.4" width="56.10" height="51.40" fill="#a5a5a5"/><rect x="402.6" y="77.4" width="56.10" height="51.40" fill="#000" filter="url(#tmd8)" opacity="0.25"/><rect x="402.6" y="77.4" width="56.10" height="51.40" fill="#fff" filter="url(#tlt8)" opacity="0.4"/><rect x="402.6" y="77.4" width="56.10" height="51.40" fill="#000" filter="url(#tdk8)" opacity="0.2"/><path d="M402.4 82.3 L411.9 81.2 L420.3 80.0 L427.4 82.3 L432.2 84.7 L440.5 91.3" fill="none" stroke="#3a3a3a" stroke-width="0.9" stroke-linecap="round" stroke-linejoin="round" filter="url(#bl1)" opacity="1"/><path d="M432.2 84.7 L438.1 82.9" fill="none" stroke="#3a3a3a" stroke-width="0.9" stroke-linecap="round" stroke-linejoin="round" filter="url(#bl1)" opacity="1"/><path d="M423.8 90.7 L417.9 87.1 L416.7 97.8 L414.3 106.2 L408.3 100.2" fill="none" stroke="#3a3a3a" stroke-width="0.9" stroke-linecap="round" stroke-linejoin="round" filter="url(#bl1)" opacity="1"/><path d="M414.3 106.2 L420.3 112.1" fill="none" stroke="#3a3a3a" stroke-width="0.9" stroke-linecap="round" stroke-linejoin="round" filter="url(#bl1)" opacity="1"/><path d="M439.3 109.8 L441.7 115.7 L445.3 122.9 L447.7 126.4" fill="none" stroke="#3a3a3a" stroke-width="0.9" stroke-linecap="round" stroke-linejoin="round" filter="url(#bl1)" opacity="1"/><path d="M407.2 116.9 L409.5 124.1 L407.2 126.4" fill="none" stroke="#3a3a3a" stroke-width="0.9" stroke-linecap="round" stroke-linejoin="round" filter="url(#bl1)" opacity="1"/><path d="M407.2 116.9 L413.1 113.3" fill="none" stroke="#3a3a3a" stroke-width="0.9" stroke-linecap="round" stroke-linejoin="round" filter="url(#bl1)" opacity="1"/><path d="M450.1 97.8 L452.4 101.4" fill="none" stroke="#3a3a3a" stroke-width="0.9" stroke-linecap="round" stroke-linejoin="round" filter="url(#bl1)" opacity="1"/><path d="M452.4 113.3 L456.0 109.8" fill="none" stroke="#3a3a3a" stroke-width="0.9" stroke-linecap="round" stroke-linejoin="round" filter="url(#bl1)" opacity="1"/><path d="M445.3 122.9 L452.4 119.3" fill="none" stroke="#3a3a3a" stroke-width="0.9" stroke-linecap="round" stroke-linejoin="round" filter="url(#bl1)" opacity="1"/><path d="M407.2 82.3 L411.9 89.5 L414.3 95.5" fill="none" stroke="#3a3a3a" stroke-width="0.9" stroke-linecap="round" stroke-linejoin="round" filter="url(#bl1)" opacity="1"/><ellipse cx="440.5" cy="91.3" rx="1.6" ry="1.2800000000000002" fill="#1e1e1e" filter="url(#bl05)" opacity="1"/><path d="M440.5 91.3 L437.6 92.1 M440.5 91.3 L442.8 91.7 M440.5 91.3 L443.2 90.6 M440.5 91.3 L442.2 93.0 " stroke="#1e1e1e" stroke-width="0.7" fill="none" stroke-linecap="round" filter="url(#bl05)"/><ellipse cx="414.3" cy="106.2" rx="2.0" ry="1.6" fill="#1e1e1e" filter="url(#bl05)" opacity="1"/><path d="M414.3 106.2 L412.3 108.1 M414.3 106.2 L416.2 109.5 M414.3 106.2 L411.2 104.5 M414.3 106.2 L411.5 105.2 " stroke="#1e1e1e" stroke-width="0.7" fill="none" stroke-linecap="round" filter="url(#bl05)"/><ellipse cx="407.2" cy="116.9" rx="2.0" ry="1.6" fill="#1e1e1e" filter="url(#bl05)" opacity="1"/><path d="M407.2 116.9 L405.6 115.0 M407.2 116.9 L406.7 119.6 M407.2 116.9 L406.9 113.4 M407.2 116.9 L409.1 115.3 " stroke="#1e1e1e" stroke-width="0.7" fill="none" stroke-linecap="round" filter="url(#bl05)"/><ellipse cx="419.1" cy="125.3" rx="1.5" ry="1.2000000000000002" fill="#1e1e1e" filter="url(#bl05)" opacity="1"/><path d="M419.1 125.3 L421.6 125.9 M419.1 125.3 L420.5 127.1 M419.1 125.3 L417.8 122.8 M419.1 125.3 L416.8 125.9 " stroke="#1e1e1e" stroke-width="0.7" fill="none" stroke-linecap="round" filter="url(#bl05)"/><ellipse cx="439.3" cy="109.8" rx="1.4" ry="1.1199999999999999" fill="#1e1e1e" filter="url(#bl05)" opacity="1"/><path d="M439.3 109.8 L437.4 111.0 M439.3 109.8 L440.5 108.3 M439.3 109.8 L439.6 111.4 M439.3 109.8 L440.6 110.9 " stroke="#1e1e1e" stroke-width="0.7" fill="none" stroke-linecap="round" filter="url(#bl05)"/><ellipse cx="445.3" cy="122.9" rx="1.5" ry="1.2000000000000002" fill="#1e1e1e" filter="url(#bl05)" opacity="1"/><path d="M445.3 122.9 L445.0 125.2 M445.3 122.9 L447.2 124.0 M445.3 122.9 L446.9 123.7 M445.3 122.9 L444.9 124.8 " stroke="#1e1e1e" stroke-width="0.7" fill="none" stroke-linecap="round" filter="url(#bl05)"/><ellipse cx="452.4" cy="119.3" rx="1.2" ry="0.96" fill="#1e1e1e" filter="url(#bl05)" opacity="1"/><path d="M452.4 119.3 L453.8 118.1 M452.4 119.3 L450.5 118.1 M452.4 119.3 L452.7 121.2 M452.4 119.3 L450.4 118.1 " stroke="#1e1e1e" stroke-width="0.7" fill="none" stroke-linecap="round" filter="url(#bl05)"/><ellipse cx="457.2" cy="90.7" rx="1" ry="0.8" fill="#1e1e1e" filter="url(#bl05)" opacity="1"/><path d="M457.2 90.7 L456.3 91.9 M457.2 90.7 L455.8 91.1 M457.2 90.7 L455.7 90.6 M457.2 90.7 L458.7 91.1 " stroke="#1e1e1e" stroke-width="0.7" fill="none" stroke-linecap="round" filter="url(#bl05)"/><ellipse cx="426.2" cy="91.9" rx="1" ry="0.8" fill="#1e1e1e" filter="url(#bl05)" opacity="1"/><path d="M426.2 91.9 L425.0 91.5 M426.2 91.9 L425.9 90.5 M426.2 91.9 L427.5 91.4 M426.2 91.9 L426.3 90.5 " stroke="#1e1e1e" stroke-width="0.7" fill="none" stroke-linecap="round" filter="url(#bl05)"/><ellipse cx="432.2" cy="84.7" rx="1.2" ry="0.96" fill="#1e1e1e" filter="url(#bl05)" opacity="1"/><path d="M432.2 84.7 L433.9 85.5 M432.2 84.7 L433.8 86.1 M432.2 84.7 L430.7 84.6 M432.2 84.7 L434.2 85.3 " stroke="#1e1e1e" stroke-width="0.7" fill="none" stroke-linecap="round" filter="url(#bl05)"/><ellipse cx="407.2" cy="126.4" rx="1.2" ry="0.96" fill="#1e1e1e" filter="url(#bl05)" opacity="1"/><path d="M407.2 126.4 L405.5 126.5 M407.2 126.4 L406.1 125.2 M407.2 126.4 L404.8 126.8 M407.2 126.4 L408.7 127.3 " stroke="#1e1e1e" stroke-width="0.7" fill="none" stroke-linecap="round" filter="url(#bl05)"/></g>
<clipPath id="c9"><rect x="460.4" y="77.4" width="56.00" height="51.40"/></clipPath>
<g clip-path="url(#c9)"><rect x="460.4" y="77.4" width="56.00" height="51.40" fill="#cacaca"/><rect x="460.4" y="77.4" width="56.00" height="51.40" fill="#000" filter="url(#tmd9)" opacity="0.15"/><rect x="460.4" y="77.4" width="56.00" height="51.40" fill="#fff" filter="url(#tlt9)" opacity="0.45"/><rect x="460.4" y="77.4" width="56.00" height="51.40" fill="#000" filter="url(#tdk9)" opacity="0.12"/><path d="M458.0 97.2 L462.8 96.6 L471.1 95.5 L478.3 94.9" fill="none" stroke="#2e2e2e" stroke-width="2.0" stroke-linecap="round" stroke-linejoin="round" opacity="0.9"/><path d="M458.0 97.2 L462.8 96.6 L471.1 95.5 L478.3 94.9" fill="none" stroke="#b4b4b4" stroke-width="0.7" stroke-linecap="round" stroke-linejoin="round" opacity="0.85"/><path d="M478.3 94.9 L486.6 92.5 L492.6 87.1 L493.8 82.3" fill="none" stroke="#2e2e2e" stroke-width="2.0" stroke-linecap="round" stroke-linejoin="round" opacity="0.9"/><path d="M478.3 94.9 L486.6 92.5 L492.6 87.1 L493.8 82.3" fill="none" stroke="#b4b4b4" stroke-width="0.7" stroke-linecap="round" stroke-linejoin="round" opacity="0.85"/><path d="M478.3 94.9 L485.4 99.0 L493.8 103.8 L500.9 109.8" fill="none" stroke="#2e2e2e" stroke-width="2.0" stroke-linecap="round" stroke-linejoin="round" opacity="0.9"/><path d="M478.3 94.9 L485.4 99.0 L493.8 103.8 L500.9 109.8" fill="none" stroke="#b4b4b4" stroke-width="0.7" stroke-linecap="round" stroke-linejoin="round" opacity="0.85"/><path d="M500.9 109.8 L512.8 105.0" fill="none" stroke="#2e2e2e" stroke-width="2.0" stroke-linecap="round" stroke-linejoin="round" opacity="0.9"/><path d="M500.9 109.8 L512.8 105.0" fill="none" stroke="#b4b4b4" stroke-width="0.7" stroke-linecap="round" stroke-linejoin="round" opacity="0.85"/><path d="M500.9 109.8 L503.3 121.7 L502.1 132.4" fill="none" stroke="#2e2e2e" stroke-width="2.0" stroke-linecap="round" stroke-linejoin="round" opacity="0.9"/><path d="M500.9 109.8 L503.3 121.7 L502.1 132.4" fill="none" stroke="#b4b4b4" stroke-width="0.7" stroke-linecap="round" stroke-linejoin="round" opacity="0.85"/><path d="M500.9 109.8 L504.5 95.5 L508.7 80.0" fill="none" stroke="#2e2e2e" stroke-width="2.0" stroke-linecap="round" stroke-linejoin="round" opacity="0.9"/><path d="M500.9 109.8 L504.5 95.5 L508.7 80.0" fill="none" stroke="#b4b4b4" stroke-width="0.7" stroke-linecap="round" stroke-linejoin="round" opacity="0.85"/><path d="M500.9 109.8 L497.3 115.7" fill="none" stroke="#2e2e2e" stroke-width="2.0" stroke-linecap="round" stroke-linejoin="round" opacity="0.9"/><path d="M500.9 109.8 L497.3 115.7" fill="none" stroke="#b4b4b4" stroke-width="0.7" stroke-linecap="round" stroke-linejoin="round" opacity="0.85"/><ellipse cx="492.6" cy="87.1" rx="3" ry="2" transform="rotate(30 492.6 87.1)" fill="#4a4a4a" stroke="#1a1a1a" stroke-width="1.0" filter="url(#bl05)"/><ellipse cx="493.8" cy="83.5" rx="2" ry="2.6" transform="rotate(0 493.8 83.5)" fill="#4a4a4a" stroke="#1a1a1a" stroke-width="1.0" filter="url(#bl05)"/><ellipse cx="491.4" cy="89.5" rx="2" ry="1.6" transform="rotate(0 491.4 89.5)" fill="#4a4a4a" stroke="#1a1a1a" stroke-width="1.0" filter="url(#bl05)"/><ellipse cx="475.9" cy="94.9" rx="2" ry="1.8" transform="rotate(0 475.9 94.9)" fill="#4a4a4a" stroke="#1a1a1a" stroke-width="1.0" filter="url(#bl05)"/><ellipse cx="479.5" cy="94.3" rx="2.2" ry="1.8" transform="rotate(0 479.5 94.3)" fill="#4a4a4a" stroke="#1a1a1a" stroke-width="1.0" filter="url(#bl05)"/><ellipse cx="480.1" cy="99.6" rx="2" ry="1.7" transform="rotate(0 480.1 99.6)" fill="#4a4a4a" stroke="#1a1a1a" stroke-width="1.0" filter="url(#bl05)"/><ellipse cx="494.9" cy="105.0" rx="2.2" ry="2" transform="rotate(0 494.9 105.0)" fill="#4a4a4a" stroke="#1a1a1a" stroke-width="1.0" filter="url(#bl05)"/><ellipse cx="499.1" cy="109.8" rx="2.4" ry="2" transform="rotate(0 499.1 109.8)" fill="#4a4a4a" stroke="#1a1a1a" stroke-width="1.0" filter="url(#bl05)"/><ellipse cx="501.5" cy="108.6" rx="2.2" ry="1.8" transform="rotate(0 501.5 108.6)" fill="#4a4a4a" stroke="#1a1a1a" stroke-width="1.0" filter="url(#bl05)"/><ellipse cx="502.7" cy="112.1" rx="2.4" ry="2" transform="rotate(0 502.7 112.1)" fill="#4a4a4a" stroke="#1a1a1a" stroke-width="1.0" filter="url(#bl05)"/><ellipse cx="497.9" cy="114.5" rx="1.8" ry="2.6" transform="rotate(20 497.9 114.5)" fill="#4a4a4a" stroke="#1a1a1a" stroke-width="1.0" filter="url(#bl05)"/><ellipse cx="512.8" cy="105.0" rx="2.4" ry="1.6" transform="rotate(-20 512.8 105.0)" fill="#4a4a4a" stroke="#1a1a1a" stroke-width="1.0" filter="url(#bl05)"/><ellipse cx="503.3" cy="122.3" rx="1.6" ry="2.4" transform="rotate(0 503.3 122.3)" fill="#4a4a4a" stroke="#1a1a1a" stroke-width="1.0" filter="url(#bl05)"/><ellipse cx="508.7" cy="80.0" rx="1.4" ry="2" transform="rotate(0 508.7 80.0)" fill="#4a4a4a" stroke="#1a1a1a" stroke-width="1.0" filter="url(#bl05)"/><ellipse cx="461.6" cy="96.6" rx="2" ry="1.4" transform="rotate(0 461.6 96.6)" fill="#4a4a4a" stroke="#1a1a1a" stroke-width="1.0" filter="url(#bl05)"/><ellipse cx="505.7" cy="108.6" rx="1.8" ry="1.6" transform="rotate(0 505.7 108.6)" fill="#4a4a4a" stroke="#1a1a1a" stroke-width="1.0" filter="url(#bl05)"/></g>
<clipPath id="c10"><rect x="402.6" y="130.4" width="56.10" height="52.10"/></clipPath>
<g clip-path="url(#c10)"><rect x="402.6" y="130.4" width="56.10" height="52.10" fill="#a4a4a4"/><rect x="402.6" y="130.4" width="56.10" height="52.10" fill="#000" filter="url(#tmd10)" opacity="0.25"/><rect x="402.6" y="130.4" width="56.10" height="52.10" fill="#fff" filter="url(#tlt10)" opacity="0.4"/><rect x="402.6" y="130.4" width="56.10" height="52.10" fill="#000" filter="url(#tdk10)" opacity="0.2"/><path d="M422.6 167.3 L428.6 160.2 L434.6 156.6" fill="none" stroke="#2a2a2a" stroke-width="1.1" stroke-linecap="round" stroke-linejoin="round" filter="url(#bl1)" opacity="1"/><path d="M413.1 135.2 L411.9 139.9" fill="none" stroke="#2a2a2a" stroke-width="1.1" stroke-linecap="round" stroke-linejoin="round" filter="url(#bl1)" opacity="1"/><path d="M439.3 145.9 L442.9 141.1" fill="none" stroke="#2a2a2a" stroke-width="1.1" stroke-linecap="round" stroke-linejoin="round" filter="url(#bl1)" opacity="1"/><path d="M445.3 156.6 L445.3 160.2 L447.7 166.1" fill="none" stroke="#2a2a2a" stroke-width="1.1" stroke-linecap="round" stroke-linejoin="round" filter="url(#bl1)" opacity="1"/><path d="M409.5 172.1 L410.1 176.9" fill="none" stroke="#2a2a2a" stroke-width="1.1" stroke-linecap="round" stroke-linejoin="round" filter="url(#bl1)" opacity="1"/><ellipse cx="413.1" cy="138.7" rx="1.8" ry="1.4400000000000002" fill="#1e1e1e" filter="url(#bl05)" opacity="1"/><path d="M413.1 138.7 L412.7 141.6 M413.1 138.7 L412.2 135.3 M413.1 138.7 L411.1 140.9 M413.1 138.7 L411.0 140.8 " stroke="#1e1e1e" stroke-width="0.7" fill="none" stroke-linecap="round" filter="url(#bl05)"/><ellipse cx="419.1" cy="139.3" rx="1.1" ry="0.8800000000000001" fill="#1e1e1e" filter="url(#bl05)" opacity="1"/><path d="M419.1 139.3 L417.4 139.3 M419.1 139.3 L417.5 138.7 M419.1 139.3 L419.8 138.1 M419.1 139.3 L417.2 139.9 " stroke="#1e1e1e" stroke-width="0.7" fill="none" stroke-linecap="round" filter="url(#bl05)"/><ellipse cx="406.0" cy="148.9" rx="1.8" ry="1.4400000000000002" fill="#1e1e1e" filter="url(#bl05)" opacity="1"/><path d="M406.0 148.9 L407.7 151.1 M406.0 148.9 L402.4 148.7 M406.0 148.9 L407.2 145.8 M406.0 148.9 L404.9 146.7 " stroke="#1e1e1e" stroke-width="0.7" fill="none" stroke-linecap="round" filter="url(#bl05)"/><ellipse cx="419.7" cy="151.8" rx="1.2" ry="0.96" fill="#1e1e1e" filter="url(#bl05)" opacity="1"/><path d="M419.7 151.8 L417.4 151.9 M419.7 151.8 L421.2 152.8 M419.7 151.8 L421.6 152.5 M419.7 151.8 L420.3 153.4 " stroke="#1e1e1e" stroke-width="0.7" fill="none" stroke-linecap="round" filter="url(#bl05)"/><ellipse cx="428.0" cy="148.9" rx="1.2" ry="0.96" fill="#1e1e1e" filter="url(#bl05)" opacity="1"/><path d="M428.0 148.9 L427.7 146.6 M428.0 148.9 L429.4 149.2 M428.0 148.9 L429.8 148.8 M428.0 148.9 L428.6 150.7 " stroke="#1e1e1e" stroke-width="0.7" fill="none" stroke-linecap="round" filter="url(#bl05)"/><ellipse cx="444.1" cy="141.1" rx="2.0" ry="1.6" fill="#1e1e1e" filter="url(#bl05)" opacity="1"/><path d="M444.1 141.1 L445.2 144.3 M444.1 141.1 L447.1 143.5 M444.1 141.1 L445.2 144.0 M444.1 141.1 L444.6 137.3 " stroke="#1e1e1e" stroke-width="0.7" fill="none" stroke-linecap="round" filter="url(#bl05)"/><ellipse cx="439.3" cy="145.9" rx="1.3" ry="1.04" fill="#1e1e1e" filter="url(#bl05)" opacity="1"/><path d="M439.3 145.9 L439.7 144.3 M439.3 145.9 L440.3 144.3 M439.3 145.9 L441.0 146.0 M439.3 145.9 L437.1 145.8 " stroke="#1e1e1e" stroke-width="0.7" fill="none" stroke-linecap="round" filter="url(#bl05)"/><ellipse cx="452.4" cy="141.1" rx="1.1" ry="0.8800000000000001" fill="#1e1e1e" filter="url(#bl05)" opacity="1"/><path d="M452.4 141.1 L453.3 142.3 M452.4 141.1 L453.4 139.6 M452.4 141.1 L452.1 142.7 M452.4 141.1 L450.9 140.7 " stroke="#1e1e1e" stroke-width="0.7" fill="none" stroke-linecap="round" filter="url(#bl05)"/><ellipse cx="414.9" cy="160.8" rx="1.1" ry="0.8800000000000001" fill="#1e1e1e" filter="url(#bl05)" opacity="1"/><path d="M414.9 160.8 L413.7 161.7 M414.9 160.8 L416.4 159.7 M414.9 160.8 L413.0 160.5 M414.9 160.8 L416.1 159.2 " stroke="#1e1e1e" stroke-width="0.7" fill="none" stroke-linecap="round" filter="url(#bl05)"/><ellipse cx="433.4" cy="156.6" rx="1.2" ry="0.96" fill="#1e1e1e" filter="url(#bl05)" opacity="1"/><path d="M433.4 156.6 L435.1 157.6 M433.4 156.6 L434.9 156.6 M433.4 156.6 L434.3 155.3 M433.4 156.6 L431.4 157.8 " stroke="#1e1e1e" stroke-width="0.7" fill="none" stroke-linecap="round" filter="url(#bl05)"/><ellipse cx="445.3" cy="159.0" rx="1.6" ry="1.2800000000000002" fill="#1e1e1e" filter="url(#bl05)" opacity="1"/><path d="M445.3 159.0 L445.9 160.9 M445.3 159.0 L443.9 156.7 M445.3 159.0 L443.7 157.2 M445.3 159.0 L442.4 159.9 " stroke="#1e1e1e" stroke-width="0.7" fill="none" stroke-linecap="round" filter="url(#bl05)"/><ellipse cx="456.0" cy="166.1" rx="1.2" ry="0.96" fill="#1e1e1e" filter="url(#bl05)" opacity="1"/><path d="M456.0 166.1 L457.4 166.9 M456.0 166.1 L455.4 164.7 M456.0 166.1 L458.2 165.4 M456.0 166.1 L455.9 164.3 " stroke="#1e1e1e" stroke-width="0.7" fill="none" stroke-linecap="round" filter="url(#bl05)"/><ellipse cx="410.1" cy="174.5" rx="1.8" ry="1.4400000000000002" fill="#1e1e1e" filter="url(#bl05)" opacity="1"/><path d="M410.1 174.5 L407.5 175.9 M410.1 174.5 L407.3 173.4 M410.1 174.5 L411.2 171.1 M410.1 174.5 L408.6 171.5 " stroke="#1e1e1e" stroke-width="0.7" fill="none" stroke-linecap="round" filter="url(#bl05)"/><ellipse cx="427.4" cy="173.9" rx="1.3" ry="1.04" fill="#1e1e1e" filter="url(#bl05)" opacity="1"/><path d="M427.4 173.9 L429.2 172.8 M427.4 173.9 L425.6 173.1 M427.4 173.9 L428.9 175.2 M427.4 173.9 L428.2 175.4 " stroke="#1e1e1e" stroke-width="0.7" fill="none" stroke-linecap="round" filter="url(#bl05)"/><ellipse cx="441.1" cy="172.7" rx="1.2" ry="0.96" fill="#1e1e1e" filter="url(#bl05)" opacity="1"/><path d="M441.1 172.7 L439.6 172.2 M441.1 172.7 L440.8 174.5 M441.1 172.7 L443.0 172.9 M441.1 172.7 L442.9 172.1 " stroke="#1e1e1e" stroke-width="0.7" fill="none" stroke-linecap="round" filter="url(#bl05)"/><ellipse cx="432.2" cy="178.7" rx="1.3" ry="1.04" fill="#1e1e1e" filter="url(#bl05)" opacity="1"/><path d="M432.2 178.7 L432.3 176.6 M432.2 178.7 L434.3 178.6 M432.2 178.7 L433.7 178.0 M432.2 178.7 L430.5 178.7 " stroke="#1e1e1e" stroke-width="0.7" fill="none" stroke-linecap="round" filter="url(#bl05)"/><ellipse cx="422.6" cy="166.7" rx="1.2" ry="0.96" fill="#1e1e1e" filter="url(#bl05)" opacity="1"/><path d="M422.6 166.7 L421.1 168.4 M422.6 166.7 L421.3 167.7 M422.6 166.7 L423.5 164.8 M422.6 166.7 L422.2 165.4 " stroke="#1e1e1e" stroke-width="0.7" fill="none" stroke-linecap="round" filter="url(#bl05)"/><ellipse cx="456.0" cy="179.3" rx="1" ry="0.8" fill="#1e1e1e" filter="url(#bl05)" opacity="1"/><path d="M456.0 179.3 L456.6 181.0 M456.0 179.3 L454.7 180.6 M456.0 179.3 L456.5 177.7 M456.0 179.3 L454.9 178.8 " stroke="#1e1e1e" stroke-width="0.7" fill="none" stroke-linecap="round" filter="url(#bl05)"/><ellipse cx="456.6" cy="132.8" rx="1" ry="0.8" fill="#1e1e1e" filter="url(#bl05)" opacity="1"/><path d="M456.6 132.8 L455.5 134.2 M456.6 132.8 L455.9 133.8 M456.6 132.8 L454.9 133.1 M456.6 132.8 L456.1 131.6 " stroke="#1e1e1e" stroke-width="0.7" fill="none" stroke-linecap="round" filter="url(#bl05)"/></g>
<clipPath id="c11"><rect x="460.4" y="130.4" width="56.00" height="52.10"/></clipPath>
<g clip-path="url(#c11)"><rect x="460.4" y="130.4" width="56.00" height="52.10" fill="#e8e8e8"/><rect x="460.4" y="130.4" width="56.00" height="52.10" fill="#000" filter="url(#tmd11)" opacity="0.15"/><rect x="460.4" y="130.4" width="56.00" height="52.10" fill="#fff" filter="url(#tlt11)" opacity="0.45"/><rect x="460.4" y="130.4" width="56.00" height="52.10" fill="#000" filter="url(#tdk11)" opacity="0.12"/><rect x="460.4" y="127.4" width="56" height="8" fill="#b4b4b4" filter="url(#bl2)"/><ellipse cx="466.4" cy="174.5" rx="12" ry="14" fill="#c8c8c8" filter="url(#bl6)"/><path d="M477.0 132.4 L473.8 139.2 L466.0 141.0" fill="none" stroke="#3a3a3a" stroke-width="1.8" stroke-linecap="round" stroke-linejoin="round" opacity="0.9"/><path d="M477.0 132.4 L473.8 139.2 L466.0 141.0" fill="none" stroke="#d8d8d8" stroke-width="0.6" stroke-linecap="round" stroke-linejoin="round" opacity="0.85"/><path d="M502.0 131.0 L499.0 140.0 L496.5 148.3 L493.0 158.5" fill="none" stroke="#3a3a3a" stroke-width="1.8" stroke-linecap="round" stroke-linejoin="round" opacity="0.9"/><path d="M502.0 131.0 L499.0 140.0 L496.5 148.3 L493.0 158.5" fill="none" stroke="#d8d8d8" stroke-width="0.6" stroke-linecap="round" stroke-linejoin="round" opacity="0.85"/><path d="M496.5 146.0 L505.0 142.0 L510.0 138.0" fill="none" stroke="#3a3a3a" stroke-width="1.8" stroke-linecap="round" stroke-linejoin="round" opacity="0.9"/><path d="M496.5 146.0 L505.0 142.0 L510.0 138.0" fill="none" stroke="#d8d8d8" stroke-width="0.6" stroke-linecap="round" stroke-linejoin="round" opacity="0.85"/><path d="M478.3 163.0 L480.6 169.9 L482.8 175.5 L486.2 182.0" fill="none" stroke="#3a3a3a" stroke-width="1.8" stroke-linecap="round" stroke-linejoin="round" opacity="0.9"/><path d="M478.3 163.0 L480.6 169.9 L482.8 175.5 L486.2 182.0" fill="none" stroke="#d8d8d8" stroke-width="0.6" stroke-linecap="round" stroke-linejoin="round" opacity="0.85"/><path d="M470.4 154.5 L475.0 155.2 L480.6 157.4" fill="none" stroke="#222" stroke-width="1.8" stroke-linecap="round" stroke-linejoin="round" filter="url(#bl1)" opacity="1"/><ellipse cx="468.0" cy="138.5" rx="4" ry="1.8" transform="rotate(15 468.0 138.5)" fill="#f2f2f2" stroke="#1e1e1e" stroke-width="1.0" filter="url(#bl05)"/><ellipse cx="477.5" cy="140.0" rx="3" ry="1.5" transform="rotate(-10 477.5 140.0)" fill="#f2f2f2" stroke="#1e1e1e" stroke-width="1.0" filter="url(#bl05)"/><ellipse cx="487.4" cy="140.4" rx="1.5" ry="1.27" fill="#e6e6e6" stroke="#1e1e1e" stroke-width="1.0" filter="url(#bl05)"/><ellipse cx="496.5" cy="145.0" rx="1.8" ry="1.53" fill="#e6e6e6" stroke="#1e1e1e" stroke-width="1.0" filter="url(#bl05)"/><ellipse cx="499.5" cy="148.5" rx="1.9" ry="1.61" fill="#e6e6e6" stroke="#1e1e1e" stroke-width="1.0" filter="url(#bl05)"/><ellipse cx="497.0" cy="151.5" rx="1.5" ry="1.27" fill="#e6e6e6" stroke="#1e1e1e" stroke-width="1.0" filter="url(#bl05)"/><ellipse cx="501.0" cy="145.0" rx="1.4" ry="1.19" fill="#e6e6e6" stroke="#1e1e1e" stroke-width="1.0" filter="url(#bl05)"/><ellipse cx="478.3" cy="163.0" rx="1.6" ry="1.36" fill="#e6e6e6" stroke="#1e1e1e" stroke-width="1.0" filter="url(#bl05)"/><ellipse cx="480.6" cy="167.5" rx="1.7" ry="1.44" fill="#e6e6e6" stroke="#1e1e1e" stroke-width="1.0" filter="url(#bl05)"/><ellipse cx="481.0" cy="171.0" rx="1.8" ry="1.53" fill="#e6e6e6" stroke="#1e1e1e" stroke-width="1.0" filter="url(#bl05)"/><ellipse cx="483.5" cy="174.5" rx="1.6" ry="1.36" fill="#e6e6e6" stroke="#1e1e1e" stroke-width="1.0" filter="url(#bl05)"/><ellipse cx="486.0" cy="177.5" rx="1.7" ry="1.44" fill="#e6e6e6" stroke="#1e1e1e" stroke-width="1.0" filter="url(#bl05)"/><ellipse cx="484.0" cy="180.0" rx="1.4" ry="1.19" fill="#e6e6e6" stroke="#1e1e1e" stroke-width="1.0" filter="url(#bl05)"/><ellipse cx="507.8" cy="168.7" rx="1.6" ry="1.36" fill="#e6e6e6" stroke="#1e1e1e" stroke-width="1.0" filter="url(#bl05)"/><ellipse cx="510.0" cy="176.7" rx="1.7" ry="1.44" fill="#e6e6e6" stroke="#1e1e1e" stroke-width="1.0" filter="url(#bl05)"/><ellipse cx="498.7" cy="177.8" rx="1.8" ry="1.53" fill="#e6e6e6" stroke="#1e1e1e" stroke-width="1.0" filter="url(#bl05)"/><ellipse cx="507.8" cy="160.8" rx="1.3" ry="1.10" fill="#e6e6e6" stroke="#1e1e1e" stroke-width="1.0" filter="url(#bl05)"/></g>
<text x="0.00" y="215.80" font-family="Liberation Sans" font-size="17" font-weight="bold" text-anchor="start" fill="#000">C</text>
<line x1="34.20" y1="232.00" x2="34.20" y2="305.00" stroke="#555" stroke-width="1.2"/>
<line x1="34.20" y1="378.00" x2="34.20" y2="464.20" stroke="#555" stroke-width="1.2"/>
<path d="M34.2 228.8 L31.6 235.2 L36.8 235.2Z" fill="#222"/>
<text x="37.40" y="345.60" font-family="Liberation Serif" font-size="10.6" font-weight="bold" text-anchor="middle" fill="#000" transform="rotate(-90 37.4 345.6)">Cell number</text>
<line x1="34.20" y1="464.20" x2="251.00" y2="464.20" stroke="#555" stroke-width="1.2"/>
<line x1="324.00" y1="464.20" x2="494.50" y2="464.20" stroke="#555" stroke-width="1.2"/>
<path d="M499 464.2 L492.5 461.4 L492.5 467Z" fill="#222"/>
<text x="258.80" y="468.20" font-family="Liberation Serif" font-size="10" font-weight="bold" text-anchor="start" fill="#000">DNA content</text>
<rect x="52.20" y="306.50" width="101.80" height="80.30" fill="#fff" stroke="#222" stroke-width="0.9"/>
<path d="M53.70 385.60 L53.70 382.29 L54.08 383.17 L54.45 381.40 L54.83 381.50 L55.20 382.55 L55.58 382.10 L55.96 383.13 L56.33 383.11 L56.71 382.96 L57.08 382.03 L57.46 383.13 L57.84 381.39 L58.21 383.46 L58.59 383.18 L58.96 383.42 L59.34 381.85 L59.72 382.78 L60.09 382.54 L60.47 382.87 L60.84 382.16 L61.22 382.69 L61.60 383.14 L61.97 382.63 L62.35 382.92 L62.72 383.37 L63.10 381.73 L63.48 382.06 L63.85 382.09 L64.23 381.59 L64.60 382.71 L64.98 382.75 L65.36 382.65 L65.73 382.69 L66.11 382.08 L66.48 383.61 L66.86 382.55 L67.24 382.39 L67.61 382.83 L67.99 383.57 L68.36 382.00 L68.74 383.60 L69.12 382.32 L69.49 383.27 L69.87 383.54 L70.24 383.21 L70.62 383.47 L71.00 383.27 L71.37 382.05 L71.75 381.95 L72.12 382.79 L72.50 382.12 L72.88 382.53 L73.25 382.48 L73.63 381.61 L74.00 382.91 L74.38 381.62 L74.76 382.03 L75.13 382.05 L75.51 383.61 L75.88 383.43 L76.26 383.55 L76.64 382.83 L77.01 381.45 L77.39 381.61 L77.76 381.69 L78.14 383.35 L78.52 382.00 L78.89 381.84 L79.27 381.76 L79.64 381.80 L80.02 383.30 L80.40 383.21 L80.77 381.80 L81.15 381.92 L81.52 381.57 L81.90 382.59 L82.28 381.58 L82.65 383.30 L83.03 381.42 L83.40 381.58 L83.78 382.84 L84.16 383.45 L84.53 382.33 L84.91 381.99 L85.28 382.73 L85.66 383.34 L86.04 382.71 L86.41 381.20 L86.79 382.40 L87.16 379.51 L87.54 379.37 L87.92 376.51 L88.29 371.98 L88.67 362.89 L89.04 353.63 L89.42 340.93 L89.80 323.57 L90.17 314.85 L90.55 313.09 L90.92 314.56 L91.30 317.73 L91.68 327.91 L92.05 337.32 L92.43 344.97 L92.80 351.51 L93.18 358.10 L93.56 363.37 L93.93 366.78 L94.31 370.55 L94.68 373.40 L95.06 376.04 L95.44 376.29 L95.81 378.98 L96.19 378.93 L96.56 379.03 L96.94 380.56 L97.32 381.62 L97.69 381.41 L98.07 381.87 L98.44 381.75 L98.82 381.85 L99.20 381.35 L99.57 381.30 L99.95 381.12 L100.32 380.61 L100.70 380.56 L101.08 380.52 L101.45 381.24 L101.83 380.52 L102.20 380.75 L102.58 381.69 L102.96 380.69 L103.33 381.17 L103.71 380.30 L104.08 380.11 L104.46 381.19 L104.84 380.68 L105.21 380.57 L105.59 380.87 L105.96 381.38 L106.34 381.28 L106.72 379.03 L107.09 379.52 L107.47 380.12 L107.84 379.49 L108.22 380.30 L108.60 379.18 L108.97 378.52 L109.35 378.81 L109.72 379.40 L110.10 378.09 L110.48 378.11 L110.85 379.97 L111.23 379.04 L111.60 378.82 L111.98 379.11 L112.36 378.20 L112.73 379.17 L113.11 377.66 L113.48 377.30 L113.86 379.02 L114.24 377.47 L114.61 378.36 L114.99 377.41 L115.36 377.21 L115.74 376.49 L116.12 376.83 L116.49 377.84 L116.87 376.89 L117.24 378.20 L117.62 376.88 L118.00 377.55 L118.37 377.89 L118.75 377.96 L119.12 378.03 L119.50 376.72 L119.88 378.37 L120.25 378.10 L120.63 378.24 L121.00 378.38 L121.38 377.13 L121.76 377.53 L122.13 377.43 L122.51 376.97 L122.88 378.09 L123.26 379.12 L123.64 378.86 L124.01 378.20 L124.39 377.83 L124.76 377.46 L125.14 378.49 L125.52 379.23 L125.89 378.49 L126.27 377.81 L126.64 379.32 L127.02 378.08 L127.40 378.32 L127.77 379.30 L128.15 379.80 L128.52 380.94 L128.90 381.36 L129.28 381.90 L129.65 380.93 L130.03 380.98 L130.40 380.55 L130.78 381.61 L131.16 380.83 L131.53 382.28 L131.91 382.97 L132.28 383.19 L132.66 382.71 L133.04 382.19 L133.41 381.17 L133.79 382.78 L134.16 382.94 L134.54 381.84 L134.92 382.63 L135.29 382.25 L135.67 383.20 L136.04 381.60 L136.42 381.45 L136.80 381.84 L137.17 381.43 L137.55 382.82 L137.92 383.52 L138.30 382.90 L138.68 381.54 L139.05 382.53 L139.43 383.15 L139.80 383.26 L140.18 383.23 L140.56 382.60 L140.93 381.49 L141.31 381.59 L141.68 381.88 L142.06 381.88 L142.44 383.18 L142.81 381.83 L143.19 383.10 L143.56 382.41 L143.94 383.54 L144.32 381.57 L144.69 383.33 L145.07 382.26 L145.44 382.10 L145.82 382.14 L146.20 382.05 L146.57 382.77 L146.95 381.80 L147.32 381.46 L147.70 382.20 L147.70 385.60Z" fill="#000"/>
<line x1="50.00" y1="385.60" x2="52.20" y2="385.60" stroke="#111" stroke-width="0.8"/>
<line x1="50.90" y1="382.41" x2="52.20" y2="382.41" stroke="#111" stroke-width="0.8"/>
<line x1="50.90" y1="379.22" x2="52.20" y2="379.22" stroke="#111" stroke-width="0.8"/>
<line x1="50.90" y1="376.03" x2="52.20" y2="376.03" stroke="#111" stroke-width="0.8"/>
<line x1="50.00" y1="372.83" x2="52.20" y2="372.83" stroke="#111" stroke-width="0.8"/>
<line x1="50.90" y1="369.64" x2="52.20" y2="369.64" stroke="#111" stroke-width="0.8"/>
<line x1="50.90" y1="366.45" x2="52.20" y2="366.45" stroke="#111" stroke-width="0.8"/>
<line x1="50.90" y1="363.26" x2="52.20" y2="363.26" stroke="#111" stroke-width="0.8"/>
<line x1="50.00" y1="360.07" x2="52.20" y2="360.07" stroke="#111" stroke-width="0.8"/>
<line x1="50.90" y1="356.88" x2="52.20" y2="356.88" stroke="#111" stroke-width="0.8"/>
<line x1="50.90" y1="353.68" x2="52.20" y2="353.68" stroke="#111" stroke-width="0.8"/>
<line x1="50.90" y1="350.49" x2="52.20" y2="350.49" stroke="#111" stroke-width="0.8"/>
<line x1="50.00" y1="347.30" x2="52.20" y2="347.30" stroke="#111" stroke-width="0.8"/>
<line x1="50.90" y1="344.11" x2="52.20" y2="344.11" stroke="#111" stroke-width="0.8"/>
<line x1="50.90" y1="340.92" x2="52.20" y2="340.92" stroke="#111" stroke-width="0.8"/>
<line x1="50.90" y1="337.73" x2="52.20" y2="337.73" stroke="#111" stroke-width="0.8"/>
<line x1="50.00" y1="334.53" x2="52.20" y2="334.53" stroke="#111" stroke-width="0.8"/>
<line x1="50.90" y1="331.34" x2="52.20" y2="331.34" stroke="#111" stroke-width="0.8"/>
<line x1="50.90" y1="328.15" x2="52.20" y2="328.15" stroke="#111" stroke-width="0.8"/>
<line x1="50.90" y1="324.96" x2="52.20" y2="324.96" stroke="#111" stroke-width="0.8"/>
<line x1="50.00" y1="321.77" x2="52.20" y2="321.77" stroke="#111" stroke-width="0.8"/>
<line x1="50.90" y1="318.58" x2="52.20" y2="318.58" stroke="#111" stroke-width="0.8"/>
<line x1="50.90" y1="315.38" x2="52.20" y2="315.38" stroke="#111" stroke-width="0.8"/>
<line x1="50.90" y1="312.19" x2="52.20" y2="312.19" stroke="#111" stroke-width="0.8"/>
<line x1="50.00" y1="309.00" x2="52.20" y2="309.00" stroke="#111" stroke-width="0.8"/>
<line x1="53.70" y1="386.80" x2="53.70" y2="389.00" stroke="#111" stroke-width="0.8"/>
<line x1="58.40" y1="386.80" x2="58.40" y2="388.10" stroke="#111" stroke-width="0.8"/>
<line x1="63.10" y1="386.80" x2="63.10" y2="388.10" stroke="#111" stroke-width="0.8"/>
<line x1="67.80" y1="386.80" x2="67.80" y2="388.10" stroke="#111" stroke-width="0.8"/>
<line x1="72.50" y1="386.80" x2="72.50" y2="389.00" stroke="#111" stroke-width="0.8"/>
<line x1="77.20" y1="386.80" x2="77.20" y2="388.10" stroke="#111" stroke-width="0.8"/>
<line x1="81.90" y1="386.80" x2="81.90" y2="388.10" stroke="#111" stroke-width="0.8"/>
<line x1="86.60" y1="386.80" x2="86.60" y2="388.10" stroke="#111" stroke-width="0.8"/>
<line x1="91.30" y1="386.80" x2="91.30" y2="389.00" stroke="#111" stroke-width="0.8"/>
<line x1="96.00" y1="386.80" x2="96.00" y2="388.10" stroke="#111" stroke-width="0.8"/>
<line x1="100.70" y1="386.80" x2="100.70" y2="388.10" stroke="#111" stroke-width="0.8"/>
<line x1="105.40" y1="386.80" x2="105.40" y2="388.10" stroke="#111" stroke-width="0.8"/>
<line x1="110.10" y1="386.80" x2="110.10" y2="389.00" stroke="#111" stroke-width="0.8"/>
<line x1="114.80" y1="386.80" x2="114.80" y2="388.10" stroke="#111" stroke-width="0.8"/>
<line x1="119.50" y1="386.80" x2="119.50" y2="388.10" stroke="#111" stroke-width="0.8"/>
<line x1="124.20" y1="386.80" x2="124.20" y2="388.10" stroke="#111" stroke-width="0.8"/>
<line x1="128.90" y1="386.80" x2="128.90" y2="389.00" stroke="#111" stroke-width="0.8"/>
<line x1="133.60" y1="386.80" x2="133.60" y2="388.10" stroke="#111" stroke-width="0.8"/>
<line x1="138.30" y1="386.80" x2="138.30" y2="388.10" stroke="#111" stroke-width="0.8"/>
<line x1="143.00" y1="386.80" x2="143.00" y2="388.10" stroke="#111" stroke-width="0.8"/>
<line x1="147.70" y1="386.80" x2="147.70" y2="389.00" stroke="#111" stroke-width="0.8"/>
<text x="0" y="0" font-family="Liberation Sans" font-size="6.9" font-weight="bold" text-anchor="middle" fill="#222" transform="translate(53.70 395.10) scale(0.92 1)">0</text>
<text x="0" y="0" font-family="Liberation Sans" font-size="6.9" font-weight="bold" text-anchor="middle" fill="#222" transform="translate(72.50 395.10) scale(0.92 1)">200</text>
<text x="0" y="0" font-family="Liberation Sans" font-size="6.9" font-weight="bold" text-anchor="middle" fill="#222" transform="translate(91.30 395.10) scale(0.92 1)">400</text>
<text x="0" y="0" font-family="Liberation Sans" font-size="6.9" font-weight="bold" text-anchor="middle" fill="#222" transform="translate(110.10 395.10) scale(0.92 1)">600</text>
<text x="0" y="0" font-family="Liberation Sans" font-size="6.9" font-weight="bold" text-anchor="middle" fill="#222" transform="translate(128.90 395.10) scale(0.92 1)">800</text>
<text x="0" y="0" font-family="Liberation Sans" font-size="6.9" font-weight="bold" text-anchor="middle" fill="#222" transform="translate(146.70 395.10) scale(0.92 1)">1000</text>
<text x="0" y="0" font-family="Liberation Sans" font-size="6.8" font-weight="bold" text-anchor="middle" fill="#222" transform="translate(48.80 385.60) rotate(-90) scale(0.8 1)">0</text>
<text x="0" y="0" font-family="Liberation Sans" font-size="6.8" font-weight="bold" text-anchor="middle" fill="#222" transform="translate(48.80 372.83) rotate(-90) scale(0.8 1)">20</text>
<text x="0" y="0" font-family="Liberation Sans" font-size="6.8" font-weight="bold" text-anchor="middle" fill="#222" transform="translate(48.80 360.07) rotate(-90) scale(0.8 1)">40</text>
<text x="0" y="0" font-family="Liberation Sans" font-size="6.8" font-weight="bold" text-anchor="middle" fill="#222" transform="translate(48.80 347.30) rotate(-90) scale(0.8 1)">60</text>
<text x="0" y="0" font-family="Liberation Sans" font-size="6.8" font-weight="bold" text-anchor="middle" fill="#222" transform="translate(48.80 334.53) rotate(-90) scale(0.8 1)">80</text>
<text x="0" y="0" font-family="Liberation Sans" font-size="6.8" font-weight="bold" text-anchor="middle" fill="#222" transform="translate(48.80 321.77) rotate(-90) scale(0.8 1)">100</text>
<text x="0" y="0" font-family="Liberation Sans" font-size="6.8" font-weight="bold" text-anchor="middle" fill="#222" transform="translate(48.80 309.00) rotate(-90) scale(0.8 1)">120</text>
<text x="0" y="0" font-family="Liberation Serif" font-size="8.7" text-anchor="end" fill="#1a1a1a" transform="translate(150.40 317.70) scale(1.12 1)"><tspan font-size="8.3">sub</tspan><tspan dx="1.2">G</tspan><tspan font-size="7" dy="2">1</tspan><tspan dy="-2">=2,4%</tspan></text>
<text x="0" y="0" font-family="Liberation Serif" font-size="8.7" text-anchor="end" fill="#1a1a1a" transform="translate(150.40 327.65) scale(1.12 1)">G<tspan font-size="7" dy="2">1</tspan><tspan dy="-2">=80,9%</tspan></text>
<text x="0" y="0" font-family="Liberation Serif" font-size="8.7" text-anchor="end" fill="#1a1a1a" transform="translate(150.40 337.60) scale(1.12 1)">S=10,2%</text>
<text x="0" y="0" font-family="Liberation Serif" font-size="8.7" text-anchor="end" fill="#1a1a1a" transform="translate(150.40 347.55) scale(1.12 1)">G<tspan font-size="7" dy="2">2</tspan><tspan dy="-2">/M=6,5%</tspan></text>
<text x="100.50" y="302.60" font-family="Liberation Serif" font-size="9.6" font-weight="bold" text-anchor="middle" fill="#000">SFM</text>
<rect x="172.30" y="246.00" width="99.00" height="79.50" fill="#fff" stroke="#222" stroke-width="0.9"/>
<path d="M173.80 324.30 L173.80 323.39 L174.18 322.33 L174.55 323.35 L174.93 322.11 L175.30 322.35 L175.68 322.86 L176.06 322.33 L176.43 322.44 L176.81 323.63 L177.18 322.53 L177.56 322.32 L177.94 322.55 L178.31 321.73 L178.69 322.06 L179.06 322.87 L179.44 323.22 L179.82 323.44 L180.19 321.89 L180.57 322.16 L180.94 322.35 L181.32 322.73 L181.70 322.59 L182.07 323.23 L182.45 322.53 L182.82 323.40 L183.20 322.32 L183.58 322.30 L183.95 322.21 L184.33 323.17 L184.70 323.52 L185.08 322.97 L185.46 322.17 L185.83 322.57 L186.21 322.03 L186.58 322.75 L186.96 322.83 L187.34 321.67 L187.71 323.35 L188.09 323.26 L188.46 322.39 L188.84 322.30 L189.22 322.75 L189.59 322.46 L189.97 322.73 L190.34 322.21 L190.72 321.71 L191.10 321.86 L191.47 322.28 L191.85 322.66 L192.22 321.58 L192.60 322.71 L192.98 322.31 L193.35 321.76 L193.73 322.18 L194.10 322.84 L194.48 322.04 L194.86 322.37 L195.23 321.65 L195.61 322.31 L195.98 322.52 L196.36 321.52 L196.74 322.53 L197.11 322.83 L197.49 321.60 L197.86 321.58 L198.24 323.34 L198.62 323.57 L198.99 321.78 L199.37 321.72 L199.74 322.86 L200.12 323.15 L200.50 322.17 L200.87 321.59 L201.25 323.25 L201.62 322.71 L202.00 322.22 L202.38 323.23 L202.75 322.79 L203.13 323.40 L203.50 322.64 L203.88 323.20 L204.26 323.53 L204.63 322.82 L205.01 323.35 L205.38 323.39 L205.76 323.26 L206.14 322.54 L206.51 322.55 L206.89 321.18 L207.26 321.07 L207.64 319.94 L208.02 317.46 L208.39 313.04 L208.77 305.78 L209.14 297.95 L209.52 285.88 L209.90 269.96 L210.27 262.75 L210.65 261.73 L211.02 261.47 L211.40 264.70 L211.78 273.72 L212.15 280.87 L212.53 286.66 L212.90 291.08 L213.28 296.11 L213.66 299.24 L214.03 302.48 L214.41 305.55 L214.78 308.97 L215.16 311.88 L215.54 312.69 L215.91 313.85 L216.29 313.61 L216.66 314.00 L217.04 313.84 L217.42 314.55 L217.79 314.11 L218.17 314.93 L218.54 315.35 L218.92 314.55 L219.30 315.83 L219.67 314.68 L220.05 314.79 L220.42 314.45 L220.80 316.27 L221.18 315.95 L221.55 314.20 L221.93 316.01 L222.30 315.28 L222.68 314.90 L223.06 315.14 L223.43 314.21 L223.81 314.00 L224.18 315.36 L224.56 315.80 L224.94 313.99 L225.31 315.00 L225.69 315.43 L226.06 315.64 L226.44 315.89 L226.82 314.54 L227.19 315.19 L227.57 314.52 L227.94 313.63 L228.32 314.59 L228.70 313.47 L229.07 315.44 L229.45 313.82 L229.82 313.78 L230.20 313.26 L230.58 315.32 L230.95 314.19 L231.33 314.02 L231.70 313.87 L232.08 314.10 L232.46 314.50 L232.83 313.01 L233.21 313.00 L233.58 313.35 L233.96 312.70 L234.34 313.56 L234.71 314.57 L235.09 313.11 L235.46 314.39 L235.84 312.85 L236.22 313.02 L236.59 313.96 L236.97 314.01 L237.34 314.13 L237.72 313.81 L238.10 311.92 L238.47 313.55 L238.85 311.99 L239.22 313.62 L239.60 313.08 L239.98 312.70 L240.35 312.88 L240.73 311.43 L241.10 313.00 L241.48 312.37 L241.86 312.94 L242.23 313.10 L242.61 311.73 L242.98 312.50 L243.36 312.17 L243.74 311.78 L244.11 313.31 L244.49 313.69 L244.86 312.76 L245.24 312.81 L245.62 316.06 L245.99 316.34 L246.37 316.49 L246.74 318.19 L247.12 318.95 L247.50 320.84 L247.87 320.44 L248.25 322.92 L248.62 322.23 L249.00 321.54 L249.38 322.68 L249.75 322.63 L250.13 322.65 L250.50 322.83 L250.88 321.86 L251.26 321.51 L251.63 323.20 L252.01 322.99 L252.38 321.90 L252.76 322.04 L253.14 321.88 L253.51 322.18 L253.89 321.65 L254.26 321.81 L254.64 322.29 L255.02 323.09 L255.39 323.54 L255.77 321.78 L256.14 321.78 L256.52 321.70 L256.90 323.13 L257.27 322.05 L257.65 321.62 L258.02 323.26 L258.40 323.68 L258.78 323.34 L259.15 323.23 L259.53 322.19 L259.90 321.86 L260.28 321.87 L260.66 322.16 L261.03 321.51 L261.41 321.52 L261.78 322.73 L262.16 321.64 L262.54 322.10 L262.91 323.17 L263.29 322.40 L263.66 323.34 L264.04 322.82 L264.42 321.88 L264.79 323.71 L265.17 322.51 L265.54 322.74 L265.92 323.09 L266.30 323.58 L266.67 322.54 L267.05 322.97 L267.42 323.51 L267.80 322.82 L267.80 324.30Z" fill="#000"/>
<line x1="170.10" y1="324.30" x2="172.30" y2="324.30" stroke="#111" stroke-width="0.8"/>
<line x1="171.00" y1="321.14" x2="172.30" y2="321.14" stroke="#111" stroke-width="0.8"/>
<line x1="171.00" y1="317.98" x2="172.30" y2="317.98" stroke="#111" stroke-width="0.8"/>
<line x1="171.00" y1="314.82" x2="172.30" y2="314.82" stroke="#111" stroke-width="0.8"/>
<line x1="170.10" y1="311.67" x2="172.30" y2="311.67" stroke="#111" stroke-width="0.8"/>
<line x1="171.00" y1="308.51" x2="172.30" y2="308.51" stroke="#111" stroke-width="0.8"/>
<line x1="171.00" y1="305.35" x2="172.30" y2="305.35" stroke="#111" stroke-width="0.8"/>
<line x1="171.00" y1="302.19" x2="172.30" y2="302.19" stroke="#111" stroke-width="0.8"/>
<line x1="170.10" y1="299.03" x2="172.30" y2="299.03" stroke="#111" stroke-width="0.8"/>
<line x1="171.00" y1="295.88" x2="172.30" y2="295.88" stroke="#111" stroke-width="0.8"/>
<line x1="171.00" y1="292.72" x2="172.30" y2="292.72" stroke="#111" stroke-width="0.8"/>
<line x1="171.00" y1="289.56" x2="172.30" y2="289.56" stroke="#111" stroke-width="0.8"/>
<line x1="170.10" y1="286.40" x2="172.30" y2="286.40" stroke="#111" stroke-width="0.8"/>
<line x1="171.00" y1="283.24" x2="172.30" y2="283.24" stroke="#111" stroke-width="0.8"/>
<line x1="171.00" y1="280.08" x2="172.30" y2="280.08" stroke="#111" stroke-width="0.8"/>
<line x1="171.00" y1="276.93" x2="172.30" y2="276.93" stroke="#111" stroke-width="0.8"/>
<line x1="170.10" y1="273.77" x2="172.30" y2="273.77" stroke="#111" stroke-width="0.8"/>
<line x1="171.00" y1="270.61" x2="172.30" y2="270.61" stroke="#111" stroke-width="0.8"/>
<line x1="171.00" y1="267.45" x2="172.30" y2="267.45" stroke="#111" stroke-width="0.8"/>
<line x1="171.00" y1="264.29" x2="172.30" y2="264.29" stroke="#111" stroke-width="0.8"/>
<line x1="170.10" y1="261.13" x2="172.30" y2="261.13" stroke="#111" stroke-width="0.8"/>
<line x1="171.00" y1="257.98" x2="172.30" y2="257.98" stroke="#111" stroke-width="0.8"/>
<line x1="171.00" y1="254.82" x2="172.30" y2="254.82" stroke="#111" stroke-width="0.8"/>
<line x1="171.00" y1="251.66" x2="172.30" y2="251.66" stroke="#111" stroke-width="0.8"/>
<line x1="170.10" y1="248.50" x2="172.30" y2="248.50" stroke="#111" stroke-width="0.8"/>
<line x1="173.80" y1="325.50" x2="173.80" y2="327.70" stroke="#111" stroke-width="0.8"/>
<line x1="178.50" y1="325.50" x2="178.50" y2="326.80" stroke="#111" stroke-width="0.8"/>
<line x1="183.20" y1="325.50" x2="183.20" y2="326.80" stroke="#111" stroke-width="0.8"/>
<line x1="187.90" y1="325.50" x2="187.90" y2="326.80" stroke="#111" stroke-width="0.8"/>
<line x1="192.60" y1="325.50" x2="192.60" y2="327.70" stroke="#111" stroke-width="0.8"/>
<line x1="197.30" y1="325.50" x2="197.30" y2="326.80" stroke="#111" stroke-width="0.8"/>
<line x1="202.00" y1="325.50" x2="202.00" y2="326.80" stroke="#111" stroke-width="0.8"/>
<line x1="206.70" y1="325.50" x2="206.70" y2="326.80" stroke="#111" stroke-width="0.8"/>
<line x1="211.40" y1="325.50" x2="211.40" y2="327.70" stroke="#111" stroke-width="0.8"/>
<line x1="216.10" y1="325.50" x2="216.10" y2="326.80" stroke="#111" stroke-width="0.8"/>
<line x1="220.80" y1="325.50" x2="220.80" y2="326.80" stroke="#111" stroke-width="0.8"/>
<line x1="225.50" y1="325.50" x2="225.50" y2="326.80" stroke="#111" stroke-width="0.8"/>
<line x1="230.20" y1="325.50" x2="230.20" y2="327.70" stroke="#111" stroke-width="0.8"/>
<line x1="234.90" y1="325.50" x2="234.90" y2="326.80" stroke="#111" stroke-width="0.8"/>
<line x1="239.60" y1="325.50" x2="239.60" y2="326.80" stroke="#111" stroke-width="0.8"/>
<line x1="244.30" y1="325.50" x2="244.30" y2="326.80" stroke="#111" stroke-width="0.8"/>
<line x1="249.00" y1="325.50" x2="249.00" y2="327.70" stroke="#111" stroke-width="0.8"/>
<line x1="253.70" y1="325.50" x2="253.70" y2="326.80" stroke="#111" stroke-width="0.8"/>
<line x1="258.40" y1="325.50" x2="258.40" y2="326.80" stroke="#111" stroke-width="0.8"/>
<line x1="263.10" y1="325.50" x2="263.10" y2="326.80" stroke="#111" stroke-width="0.8"/>
<line x1="267.80" y1="325.50" x2="267.80" y2="327.70" stroke="#111" stroke-width="0.8"/>
<text x="0" y="0" font-family="Liberation Sans" font-size="6.9" font-weight="bold" text-anchor="middle" fill="#222" transform="translate(173.80 333.80) scale(0.92 1)">0</text>
<text x="0" y="0" font-family="Liberation Sans" font-size="6.9" font-weight="bold" text-anchor="middle" fill="#222" transform="translate(192.60 333.80) scale(0.92 1)">200</text>
<text x="0" y="0" font-family="Liberation Sans" font-size="6.9" font-weight="bold" text-anchor="middle" fill="#222" transform="translate(211.40 333.80) scale(0.92 1)">400</text>
<text x="0" y="0" font-family="Liberation Sans" font-size="6.9" font-weight="bold" text-anchor="middle" fill="#222" transform="translate(230.20 333.80) scale(0.92 1)">600</text>
<text x="0" y="0" font-family="Liberation Sans" font-size="6.9" font-weight="bold" text-anchor="middle" fill="#222" transform="translate(249.00 333.80) scale(0.92 1)">800</text>
<text x="0" y="0" font-family="Liberation Sans" font-size="6.9" font-weight="bold" text-anchor="middle" fill="#222" transform="translate(266.80 333.80) scale(0.92 1)">1000</text>
<text x="0" y="0" font-family="Liberation Sans" font-size="6.8" font-weight="bold" text-anchor="middle" fill="#222" transform="translate(168.90 324.30) rotate(-90) scale(0.8 1)">0</text>
<text x="0" y="0" font-family="Liberation Sans" font-size="6.8" font-weight="bold" text-anchor="middle" fill="#222" transform="translate(168.90 311.67) rotate(-90) scale(0.8 1)">20</text>
<text x="0" y="0" font-family="Liberation Sans" font-size="6.8" font-weight="bold" text-anchor="middle" fill="#222" transform="translate(168.90 299.03) rotate(-90) scale(0.8 1)">40</text>
<text x="0" y="0" font-family="Liberation Sans" font-size="6.8" font-weight="bold" text-anchor="middle" fill="#222" transform="translate(168.90 286.40) rotate(-90) scale(0.8 1)">60</text>
<text x="0" y="0" font-family="Liberation Sans" font-size="6.8" font-weight="bold" text-anchor="middle" fill="#222" transform="translate(168.90 273.77) rotate(-90) scale(0.8 1)">80</text>
<text x="0" y="0" font-family="Liberation Sans" font-size="6.8" font-weight="bold" text-anchor="middle" fill="#222" transform="translate(168.90 261.13) rotate(-90) scale(0.8 1)">100</text>
<text x="0" y="0" font-family="Liberation Sans" font-size="6.8" font-weight="bold" text-anchor="middle" fill="#222" transform="translate(168.90 248.50) rotate(-90) scale(0.8 1)">120</text>
<text x="0" y="0" font-family="Liberation Serif" font-size="8.7" text-anchor="end" fill="#1a1a1a" transform="translate(267.70 257.20) scale(1.12 1)"><tspan font-size="8.3">sub</tspan><tspan dx="1.2">G</tspan><tspan font-size="7" dy="2">1</tspan><tspan dy="-2">=1,2%</tspan></text>
<text x="0" y="0" font-family="Liberation Serif" font-size="8.7" text-anchor="end" fill="#1a1a1a" transform="translate(267.70 267.15) scale(1.12 1)">G<tspan font-size="7" dy="2">1</tspan><tspan dy="-2">=62,1%</tspan></text>
<text x="0" y="0" font-family="Liberation Serif" font-size="8.7" text-anchor="end" fill="#1a1a1a" transform="translate(267.70 277.10) scale(1.12 1)">S=26,5%</text>
<text x="0" y="0" font-family="Liberation Serif" font-size="8.7" text-anchor="end" fill="#1a1a1a" transform="translate(267.70 287.05) scale(1.12 1)">G<tspan font-size="7" dy="2">2</tspan><tspan dy="-2">/M=10,2%</tspan></text>
<rect x="282.50" y="245.00" width="100.80" height="80.50" fill="#fff" stroke="#222" stroke-width="0.9"/>
<path d="M284.00 324.30 L284.00 319.42 L284.38 320.59 L284.75 319.95 L285.13 319.87 L285.50 321.03 L285.88 321.31 L286.26 320.05 L286.63 321.12 L287.01 320.47 L287.38 319.26 L287.76 319.25 L288.14 320.94 L288.51 320.98 L288.89 320.61 L289.26 319.16 L289.64 320.96 L290.02 320.45 L290.39 320.67 L290.77 320.57 L291.14 319.61 L291.52 320.34 L291.90 319.77 L292.27 318.97 L292.65 318.94 L293.02 319.60 L293.40 318.70 L293.78 319.14 L294.15 318.50 L294.53 319.79 L294.90 319.46 L295.28 318.93 L295.66 318.04 L296.03 318.75 L296.41 319.04 L296.78 319.52 L297.16 319.41 L297.54 319.52 L297.91 317.71 L298.29 317.91 L298.66 317.86 L299.04 318.68 L299.42 318.24 L299.79 319.16 L300.17 318.72 L300.54 319.47 L300.92 318.82 L301.30 319.20 L301.67 319.54 L302.05 317.64 L302.42 319.53 L302.80 317.88 L303.18 318.15 L303.55 319.55 L303.93 318.65 L304.30 317.48 L304.68 317.52 L305.06 318.51 L305.43 318.05 L305.81 318.21 L306.18 319.20 L306.56 318.63 L306.94 318.55 L307.31 319.04 L307.69 318.10 L308.06 319.00 L308.44 318.33 L308.82 319.95 L309.19 319.11 L309.57 320.08 L309.94 318.73 L310.32 318.26 L310.70 319.06 L311.07 319.06 L311.45 318.97 L311.82 319.93 L312.20 319.62 L312.58 319.22 L312.95 319.12 L313.33 319.78 L313.70 319.61 L314.08 320.00 L314.46 319.54 L314.83 319.31 L315.21 320.16 L315.58 319.38 L315.96 319.05 L316.34 319.81 L316.71 318.80 L317.09 320.34 L317.46 318.84 L317.84 320.25 L318.22 319.07 L318.59 316.28 L318.97 314.48 L319.34 306.50 L319.72 295.42 L320.10 278.41 L320.47 269.70 L320.85 268.15 L321.22 268.80 L321.60 272.65 L321.98 283.55 L322.35 291.97 L322.73 297.89 L323.10 303.60 L323.48 309.16 L323.86 312.02 L324.23 314.91 L324.61 315.40 L324.98 317.98 L325.36 317.78 L325.74 318.25 L326.11 319.54 L326.49 319.89 L326.86 319.39 L327.24 319.74 L327.62 319.34 L327.99 319.99 L328.37 318.94 L328.74 319.82 L329.12 320.49 L329.50 319.03 L329.87 318.76 L330.25 319.26 L330.62 319.58 L331.00 318.83 L331.38 318.70 L331.75 320.83 L332.13 319.73 L332.50 320.81 L332.88 320.08 L333.26 320.29 L333.63 319.79 L334.01 319.29 L334.38 318.86 L334.76 320.24 L335.14 320.81 L335.51 318.53 L335.89 319.03 L336.26 319.56 L336.64 320.56 L337.02 320.69 L337.39 318.65 L337.77 319.58 L338.14 318.81 L338.52 318.97 L338.90 319.04 L339.27 318.91 L339.65 320.17 L340.02 320.18 L340.40 319.73 L340.78 318.96 L341.15 318.88 L341.53 318.96 L341.90 319.36 L342.28 319.58 L342.66 320.22 L343.03 319.12 L343.41 319.14 L343.78 319.45 L344.16 318.94 L344.54 318.35 L344.91 318.42 L345.29 320.33 L345.66 319.89 L346.04 319.12 L346.42 318.92 L346.79 319.81 L347.17 318.27 L347.54 319.27 L347.92 318.46 L348.30 319.95 L348.67 319.23 L349.05 319.56 L349.42 317.45 L349.80 317.63 L350.18 316.08 L350.55 316.18 L350.93 316.03 L351.30 315.09 L351.68 314.20 L352.06 313.86 L352.43 313.49 L352.81 311.91 L353.18 312.62 L353.56 312.53 L353.94 312.43 L354.31 314.15 L354.69 314.65 L355.06 315.89 L355.44 316.87 L355.82 317.02 L356.19 319.18 L356.57 319.22 L356.94 320.48 L357.32 319.67 L357.70 320.88 L358.07 319.60 L358.45 320.89 L358.82 320.60 L359.20 321.00 L359.58 320.36 L359.95 320.67 L360.33 320.82 L360.70 322.23 L361.08 321.98 L361.46 320.58 L361.83 321.37 L362.21 320.07 L362.58 320.85 L362.96 320.42 L363.34 320.60 L363.71 320.10 L364.09 320.80 L364.46 320.16 L364.84 321.34 L365.22 321.70 L365.59 322.06 L365.97 321.73 L366.34 320.26 L366.72 320.80 L367.10 322.22 L367.47 322.25 L367.85 321.25 L368.22 321.06 L368.60 321.48 L368.98 322.27 L369.35 321.71 L369.73 320.30 L370.10 320.64 L370.48 320.43 L370.86 321.69 L371.23 320.78 L371.61 321.86 L371.98 321.62 L372.36 320.11 L372.74 321.82 L373.11 321.64 L373.49 321.81 L373.86 320.32 L374.24 320.73 L374.62 320.95 L374.99 320.36 L375.37 321.25 L375.74 320.21 L376.12 320.53 L376.50 321.63 L376.87 321.77 L377.25 321.08 L377.62 321.29 L378.00 320.50 L378.00 324.30Z" fill="#000"/>
<line x1="280.30" y1="324.30" x2="282.50" y2="324.30" stroke="#111" stroke-width="0.8"/>
<line x1="281.20" y1="321.10" x2="282.50" y2="321.10" stroke="#111" stroke-width="0.8"/>
<line x1="281.20" y1="317.90" x2="282.50" y2="317.90" stroke="#111" stroke-width="0.8"/>
<line x1="281.20" y1="314.70" x2="282.50" y2="314.70" stroke="#111" stroke-width="0.8"/>
<line x1="280.30" y1="311.50" x2="282.50" y2="311.50" stroke="#111" stroke-width="0.8"/>
<line x1="281.20" y1="308.30" x2="282.50" y2="308.30" stroke="#111" stroke-width="0.8"/>
<line x1="281.20" y1="305.10" x2="282.50" y2="305.10" stroke="#111" stroke-width="0.8"/>
<line x1="281.20" y1="301.90" x2="282.50" y2="301.90" stroke="#111" stroke-width="0.8"/>
<line x1="280.30" y1="298.70" x2="282.50" y2="298.70" stroke="#111" stroke-width="0.8"/>
<line x1="281.20" y1="295.50" x2="282.50" y2="295.50" stroke="#111" stroke-width="0.8"/>
<line x1="281.20" y1="292.30" x2="282.50" y2="292.30" stroke="#111" stroke-width="0.8"/>
<line x1="281.20" y1="289.10" x2="282.50" y2="289.10" stroke="#111" stroke-width="0.8"/>
<line x1="280.30" y1="285.90" x2="282.50" y2="285.90" stroke="#111" stroke-width="0.8"/>
<line x1="281.20" y1="282.70" x2="282.50" y2="282.70" stroke="#111" stroke-width="0.8"/>
<line x1="281.20" y1="279.50" x2="282.50" y2="279.50" stroke="#111" stroke-width="0.8"/>
<line x1="281.20" y1="276.30" x2="282.50" y2="276.30" stroke="#111" stroke-width="0.8"/>
<line x1="280.30" y1="273.10" x2="282.50" y2="273.10" stroke="#111" stroke-width="0.8"/>
<line x1="281.20" y1="269.90" x2="282.50" y2="269.90" stroke="#111" stroke-width="0.8"/>
<line x1="281.20" y1="266.70" x2="282.50" y2="266.70" stroke="#111" stroke-width="0.8"/>
<line x1="281.20" y1="263.50" x2="282.50" y2="263.50" stroke="#111" stroke-width="0.8"/>
<line x1="280.30" y1="260.30" x2="282.50" y2="260.30" stroke="#111" stroke-width="0.8"/>
<line x1="281.20" y1="257.10" x2="282.50" y2="257.10" stroke="#111" stroke-width="0.8"/>
<line x1="281.20" y1="253.90" x2="282.50" y2="253.90" stroke="#111" stroke-width="0.8"/>
<line x1="281.20" y1="250.70" x2="282.50" y2="250.70" stroke="#111" stroke-width="0.8"/>
<line x1="280.30" y1="247.50" x2="282.50" y2="247.50" stroke="#111" stroke-width="0.8"/>
<line x1="284.00" y1="325.50" x2="284.00" y2="327.70" stroke="#111" stroke-width="0.8"/>
<line x1="288.70" y1="325.50" x2="288.70" y2="326.80" stroke="#111" stroke-width="0.8"/>
<line x1="293.40" y1="325.50" x2="293.40" y2="326.80" stroke="#111" stroke-width="0.8"/>
<line x1="298.10" y1="325.50" x2="298.10" y2="326.80" stroke="#111" stroke-width="0.8"/>
<line x1="302.80" y1="325.50" x2="302.80" y2="327.70" stroke="#111" stroke-width="0.8"/>
<line x1="307.50" y1="325.50" x2="307.50" y2="326.80" stroke="#111" stroke-width="0.8"/>
<line x1="312.20" y1="325.50" x2="312.20" y2="326.80" stroke="#111" stroke-width="0.8"/>
<line x1="316.90" y1="325.50" x2="316.90" y2="326.80" stroke="#111" stroke-width="0.8"/>
<line x1="321.60" y1="325.50" x2="321.60" y2="327.70" stroke="#111" stroke-width="0.8"/>
<line x1="326.30" y1="325.50" x2="326.30" y2="326.80" stroke="#111" stroke-width="0.8"/>
<line x1="331.00" y1="325.50" x2="331.00" y2="326.80" stroke="#111" stroke-width="0.8"/>
<line x1="335.70" y1="325.50" x2="335.70" y2="326.80" stroke="#111" stroke-width="0.8"/>
<line x1="340.40" y1="325.50" x2="340.40" y2="327.70" stroke="#111" stroke-width="0.8"/>
<line x1="345.10" y1="325.50" x2="345.10" y2="326.80" stroke="#111" stroke-width="0.8"/>
<line x1="349.80" y1="325.50" x2="349.80" y2="326.80" stroke="#111" stroke-width="0.8"/>
<line x1="354.50" y1="325.50" x2="354.50" y2="326.80" stroke="#111" stroke-width="0.8"/>
<line x1="359.20" y1="325.50" x2="359.20" y2="327.70" stroke="#111" stroke-width="0.8"/>
<line x1="363.90" y1="325.50" x2="363.90" y2="326.80" stroke="#111" stroke-width="0.8"/>
<line x1="368.60" y1="325.50" x2="368.60" y2="326.80" stroke="#111" stroke-width="0.8"/>
<line x1="373.30" y1="325.50" x2="373.30" y2="326.80" stroke="#111" stroke-width="0.8"/>
<line x1="378.00" y1="325.50" x2="378.00" y2="327.70" stroke="#111" stroke-width="0.8"/>
<text x="0" y="0" font-family="Liberation Sans" font-size="6.9" font-weight="bold" text-anchor="middle" fill="#222" transform="translate(284.00 333.80) scale(0.92 1)">0</text>
<text x="0" y="0" font-family="Liberation Sans" font-size="6.9" font-weight="bold" text-anchor="middle" fill="#222" transform="translate(302.80 333.80) scale(0.92 1)">200</text>
<text x="0" y="0" font-family="Liberation Sans" font-size="6.9" font-weight="bold" text-anchor="middle" fill="#222" transform="translate(321.60 333.80) scale(0.92 1)">400</text>
<text x="0" y="0" font-family="Liberation Sans" font-size="6.9" font-weight="bold" text-anchor="middle" fill="#222" transform="translate(340.40 333.80) scale(0.92 1)">600</text>
<text x="0" y="0" font-family="Liberation Sans" font-size="6.9" font-weight="bold" text-anchor="middle" fill="#222" transform="translate(359.20 333.80) scale(0.92 1)">800</text>
<text x="0" y="0" font-family="Liberation Sans" font-size="6.9" font-weight="bold" text-anchor="middle" fill="#222" transform="translate(377.00 333.80) scale(0.92 1)">1000</text>
<text x="0" y="0" font-family="Liberation Serif" font-size="8.7" text-anchor="end" fill="#1a1a1a" transform="translate(379.70 256.20) scale(1.12 1)"><tspan font-size="8.3">sub</tspan><tspan dx="1.2">G</tspan><tspan font-size="7" dy="2">1</tspan><tspan dy="-2">=15,8%</tspan></text>
<text x="0" y="0" font-family="Liberation Serif" font-size="8.7" text-anchor="end" fill="#1a1a1a" transform="translate(379.70 266.15) scale(1.12 1)">G<tspan font-size="7" dy="2">1</tspan><tspan dy="-2">=55,9%</tspan></text>
<text x="0" y="0" font-family="Liberation Serif" font-size="8.7" text-anchor="end" fill="#1a1a1a" transform="translate(379.70 276.10) scale(1.12 1)">S=19,9%</text>
<text x="0" y="0" font-family="Liberation Serif" font-size="8.7" text-anchor="end" fill="#1a1a1a" transform="translate(379.70 286.05) scale(1.12 1)">G<tspan font-size="7" dy="2">2</tspan><tspan dy="-2">/M=8,4%</tspan></text>
<rect x="394.60" y="244.50" width="99.00" height="81.00" fill="#fff" stroke="#222" stroke-width="0.9"/>
<path d="M396.10 324.30 L396.10 307.39 L396.48 309.86 L396.85 311.89 L397.23 314.32 L397.60 315.02 L397.98 314.80 L398.36 315.07 L398.73 317.23 L399.11 317.10 L399.48 315.54 L399.86 317.41 L400.24 316.18 L400.61 316.91 L400.99 316.13 L401.36 315.55 L401.74 316.12 L402.12 316.47 L402.49 316.54 L402.87 315.75 L403.24 315.63 L403.62 316.05 L404.00 315.82 L404.37 315.58 L404.75 316.15 L405.12 316.26 L405.50 315.29 L405.88 316.33 L406.25 315.13 L406.63 314.62 L407.00 314.53 L407.38 315.85 L407.76 315.46 L408.13 314.28 L408.51 315.61 L408.88 314.13 L409.26 315.98 L409.64 314.51 L410.01 316.39 L410.39 314.95 L410.76 314.65 L411.14 315.27 L411.52 315.08 L411.89 314.44 L412.27 314.25 L412.64 316.13 L413.02 315.32 L413.40 316.40 L413.77 315.57 L414.15 316.04 L414.52 315.93 L414.90 314.75 L415.28 315.89 L415.65 315.60 L416.03 315.78 L416.40 313.75 L416.78 314.89 L417.16 315.09 L417.53 313.60 L417.91 313.16 L418.28 313.14 L418.66 313.11 L419.04 312.92 L419.41 312.27 L419.79 313.01 L420.16 311.58 L420.54 311.75 L420.92 311.21 L421.29 311.01 L421.67 311.03 L422.04 311.70 L422.42 311.66 L422.80 311.18 L423.17 311.58 L423.55 312.94 L423.92 311.00 L424.30 312.82 L424.68 312.36 L425.05 312.66 L425.43 313.76 L425.80 312.93 L426.18 313.22 L426.56 313.05 L426.93 313.88 L427.31 314.96 L427.68 314.74 L428.06 314.20 L428.44 315.30 L428.81 315.12 L429.19 317.24 L429.56 315.63 L429.94 316.25 L430.32 315.15 L430.69 312.42 L431.07 308.92 L431.44 303.37 L431.82 294.59 L432.20 290.66 L432.57 290.06 L432.95 289.98 L433.32 293.36 L433.70 299.46 L434.08 304.69 L434.45 307.67 L434.83 311.62 L435.20 313.56 L435.58 316.28 L435.96 317.90 L436.33 318.31 L436.71 320.02 L437.08 318.63 L437.46 319.70 L437.84 320.29 L438.21 320.06 L438.59 319.22 L438.96 320.32 L439.34 320.59 L439.72 321.02 L440.09 320.65 L440.47 319.75 L440.84 320.13 L441.22 320.91 L441.60 319.47 L441.97 321.24 L442.35 320.72 L442.72 319.74 L443.10 319.41 L443.48 320.46 L443.85 321.49 L444.23 320.21 L444.60 320.51 L444.98 321.43 L445.36 320.67 L445.73 319.43 L446.11 321.38 L446.48 321.04 L446.86 321.05 L447.24 319.58 L447.61 320.70 L447.99 319.82 L448.36 319.82 L448.74 321.35 L449.12 320.34 L449.49 321.06 L449.87 319.47 L450.24 320.17 L450.62 320.42 L451.00 319.37 L451.37 319.31 L451.75 321.03 L452.12 320.92 L452.50 320.35 L452.88 320.32 L453.25 319.96 L453.63 319.92 L454.00 318.58 L454.38 319.19 L454.76 318.42 L455.13 319.12 L455.51 319.91 L455.88 319.05 L456.26 319.92 L456.64 318.88 L457.01 319.87 L457.39 318.01 L457.76 319.43 L458.14 317.99 L458.52 319.45 L458.89 319.36 L459.27 319.13 L459.64 317.65 L460.02 317.51 L460.40 317.58 L460.77 317.88 L461.15 318.80 L461.52 318.54 L461.90 319.00 L462.28 316.94 L462.65 318.85 L463.03 317.56 L463.40 319.33 L463.78 318.80 L464.16 318.21 L464.53 319.36 L464.91 319.80 L465.28 318.08 L465.66 319.68 L466.04 320.53 L466.41 319.10 L466.79 318.63 L467.16 319.83 L467.54 321.18 L467.92 320.44 L468.29 320.13 L468.67 321.10 L469.04 320.81 L469.42 320.15 L469.80 320.42 L470.17 320.09 L470.55 319.87 L470.92 320.92 L471.30 319.89 L471.68 321.92 L472.05 321.02 L472.43 320.67 L472.80 320.10 L473.18 321.18 L473.56 321.26 L473.93 320.22 L474.31 321.20 L474.68 322.16 L475.06 321.25 L475.44 321.67 L475.81 320.78 L476.19 320.41 L476.56 322.19 L476.94 321.57 L477.32 320.22 L477.69 320.43 L478.07 320.49 L478.44 321.40 L478.82 320.09 L479.20 320.34 L479.57 320.40 L479.95 321.04 L480.32 320.82 L480.70 322.00 L481.08 322.22 L481.45 322.27 L481.83 322.18 L482.20 321.12 L482.58 320.11 L482.96 320.97 L483.33 320.48 L483.71 320.55 L484.08 320.11 L484.46 321.66 L484.84 321.15 L485.21 320.16 L485.59 321.54 L485.96 320.68 L486.34 321.35 L486.72 321.95 L487.09 321.83 L487.47 321.47 L487.84 322.24 L488.22 320.26 L488.60 321.48 L488.97 321.74 L489.35 320.45 L489.72 322.29 L490.10 320.54 L490.10 324.30Z" fill="#000"/>
<line x1="392.40" y1="324.30" x2="394.60" y2="324.30" stroke="#111" stroke-width="0.8"/>
<line x1="393.30" y1="321.08" x2="394.60" y2="321.08" stroke="#111" stroke-width="0.8"/>
<line x1="393.30" y1="317.86" x2="394.60" y2="317.86" stroke="#111" stroke-width="0.8"/>
<line x1="393.30" y1="314.64" x2="394.60" y2="314.64" stroke="#111" stroke-width="0.8"/>
<line x1="392.40" y1="311.42" x2="394.60" y2="311.42" stroke="#111" stroke-width="0.8"/>
<line x1="393.30" y1="308.20" x2="394.60" y2="308.20" stroke="#111" stroke-width="0.8"/>
<line x1="393.30" y1="304.98" x2="394.60" y2="304.98" stroke="#111" stroke-width="0.8"/>
<line x1="393.30" y1="301.75" x2="394.60" y2="301.75" stroke="#111" stroke-width="0.8"/>
<line x1="392.40" y1="298.53" x2="394.60" y2="298.53" stroke="#111" stroke-width="0.8"/>
<line x1="393.30" y1="295.31" x2="394.60" y2="295.31" stroke="#111" stroke-width="0.8"/>
<line x1="393.30" y1="292.09" x2="394.60" y2="292.09" stroke="#111" stroke-width="0.8"/>
<line x1="393.30" y1="288.87" x2="394.60" y2="288.87" stroke="#111" stroke-width="0.8"/>
<line x1="392.40" y1="285.65" x2="394.60" y2="285.65" stroke="#111" stroke-width="0.8"/>
<line x1="393.30" y1="282.43" x2="394.60" y2="282.43" stroke="#111" stroke-width="0.8"/>
<line x1="393.30" y1="279.21" x2="394.60" y2="279.21" stroke="#111" stroke-width="0.8"/>
<line x1="393.30" y1="275.99" x2="394.60" y2="275.99" stroke="#111" stroke-width="0.8"/>
<line x1="392.40" y1="272.77" x2="394.60" y2="272.77" stroke="#111" stroke-width="0.8"/>
<line x1="393.30" y1="269.55" x2="394.60" y2="269.55" stroke="#111" stroke-width="0.8"/>
<line x1="393.30" y1="266.33" x2="394.60" y2="266.33" stroke="#111" stroke-width="0.8"/>
<line x1="393.30" y1="263.10" x2="394.60" y2="263.10" stroke="#111" stroke-width="0.8"/>
<line x1="392.40" y1="259.88" x2="394.60" y2="259.88" stroke="#111" stroke-width="0.8"/>
<line x1="393.30" y1="256.66" x2="394.60" y2="256.66" stroke="#111" stroke-width="0.8"/>
<line x1="393.30" y1="253.44" x2="394.60" y2="253.44" stroke="#111" stroke-width="0.8"/>
<line x1="393.30" y1="250.22" x2="394.60" y2="250.22" stroke="#111" stroke-width="0.8"/>
<line x1="392.40" y1="247.00" x2="394.60" y2="247.00" stroke="#111" stroke-width="0.8"/>
<line x1="396.10" y1="325.50" x2="396.10" y2="327.70" stroke="#111" stroke-width="0.8"/>
<line x1="400.80" y1="325.50" x2="400.80" y2="326.80" stroke="#111" stroke-width="0.8"/>
<line x1="405.50" y1="325.50" x2="405.50" y2="326.80" stroke="#111" stroke-width="0.8"/>
<line x1="410.20" y1="325.50" x2="410.20" y2="326.80" stroke="#111" stroke-width="0.8"/>
<line x1="414.90" y1="325.50" x2="414.90" y2="327.70" stroke="#111" stroke-width="0.8"/>
<line x1="419.60" y1="325.50" x2="419.60" y2="326.80" stroke="#111" stroke-width="0.8"/>
<line x1="424.30" y1="325.50" x2="424.30" y2="326.80" stroke="#111" stroke-width="0.8"/>
<line x1="429.00" y1="325.50" x2="429.00" y2="326.80" stroke="#111" stroke-width="0.8"/>
<line x1="433.70" y1="325.50" x2="433.70" y2="327.70" stroke="#111" stroke-width="0.8"/>
<line x1="438.40" y1="325.50" x2="438.40" y2="326.80" stroke="#111" stroke-width="0.8"/>
<line x1="443.10" y1="325.50" x2="443.10" y2="326.80" stroke="#111" stroke-width="0.8"/>
<line x1="447.80" y1="325.50" x2="447.80" y2="326.80" stroke="#111" stroke-width="0.8"/>
<line x1="452.50" y1="325.50" x2="452.50" y2="327.70" stroke="#111" stroke-width="0.8"/>
<line x1="457.20" y1="325.50" x2="457.20" y2="326.80" stroke="#111" stroke-width="0.8"/>
<line x1="461.90" y1="325.50" x2="461.90" y2="326.80" stroke="#111" stroke-width="0.8"/>
<line x1="466.60" y1="325.50" x2="466.60" y2="326.80" stroke="#111" stroke-width="0.8"/>
<line x1="471.30" y1="325.50" x2="471.30" y2="327.70" stroke="#111" stroke-width="0.8"/>
<line x1="476.00" y1="325.50" x2="476.00" y2="326.80" stroke="#111" stroke-width="0.8"/>
<line x1="480.70" y1="325.50" x2="480.70" y2="326.80" stroke="#111" stroke-width="0.8"/>
<line x1="485.40" y1="325.50" x2="485.40" y2="326.80" stroke="#111" stroke-width="0.8"/>
<line x1="490.10" y1="325.50" x2="490.10" y2="327.70" stroke="#111" stroke-width="0.8"/>
<text x="0" y="0" font-family="Liberation Sans" font-size="6.9" font-weight="bold" text-anchor="middle" fill="#222" transform="translate(396.10 333.80) scale(0.92 1)">0</text>
<text x="0" y="0" font-family="Liberation Sans" font-size="6.9" font-weight="bold" text-anchor="middle" fill="#222" transform="translate(414.90 333.80) scale(0.92 1)">200</text>
<text x="0" y="0" font-family="Liberation Sans" font-size="6.9" font-weight="bold" text-anchor="middle" fill="#222" transform="translate(433.70 333.80) scale(0.92 1)">400</text>
<text x="0" y="0" font-family="Liberation Sans" font-size="6.9" font-weight="bold" text-anchor="middle" fill="#222" transform="translate(452.50 333.80) scale(0.92 1)">600</text>
<text x="0" y="0" font-family="Liberation Sans" font-size="6.9" font-weight="bold" text-anchor="middle" fill="#222" transform="translate(471.30 333.80) scale(0.92 1)">800</text>
<text x="0" y="0" font-family="Liberation Sans" font-size="6.9" font-weight="bold" text-anchor="middle" fill="#222" transform="translate(489.10 333.80) scale(0.92 1)">1000</text>
<text x="0" y="0" font-family="Liberation Serif" font-size="8.7" text-anchor="end" fill="#1a1a1a" transform="translate(490.00 255.70) scale(1.12 1)"><tspan font-size="8.3">sub</tspan><tspan dx="1.2">G</tspan><tspan font-size="7" dy="2">1</tspan><tspan dy="-2">=45,2%</tspan></text>
<text x="0" y="0" font-family="Liberation Serif" font-size="8.7" text-anchor="end" fill="#1a1a1a" transform="translate(490.00 265.65) scale(1.12 1)">G<tspan font-size="7" dy="2">1</tspan><tspan dy="-2">=40,9%</tspan></text>
<text x="0" y="0" font-family="Liberation Serif" font-size="8.7" text-anchor="end" fill="#1a1a1a" transform="translate(490.00 275.60) scale(1.12 1)">S=9,4%</text>
<text x="0" y="0" font-family="Liberation Serif" font-size="8.7" text-anchor="end" fill="#1a1a1a" transform="translate(490.00 285.55) scale(1.12 1)">G<tspan font-size="7" dy="2">2</tspan><tspan dy="-2">/M=4,5%</tspan></text>
<rect x="171.60" y="364.60" width="99.60" height="79.00" fill="#fff" stroke="#222" stroke-width="0.9"/>
<path d="M173.10 442.40 L173.10 439.66 L173.48 440.86 L173.85 439.86 L174.23 439.50 L174.60 440.94 L174.98 439.91 L175.36 440.89 L175.73 441.28 L176.11 440.86 L176.48 439.95 L176.86 441.31 L177.24 440.16 L177.61 440.85 L177.99 441.27 L178.36 440.68 L178.74 440.77 L179.12 440.61 L179.49 439.66 L179.87 439.57 L180.24 441.13 L180.62 439.42 L181.00 440.26 L181.37 439.48 L181.75 439.80 L182.12 440.46 L182.50 441.08 L182.88 439.55 L183.25 439.39 L183.63 440.24 L184.00 441.38 L184.38 439.79 L184.76 439.92 L185.13 439.66 L185.51 439.44 L185.88 439.44 L186.26 439.98 L186.64 440.76 L187.01 440.44 L187.39 440.51 L187.76 439.93 L188.14 440.23 L188.52 439.78 L188.89 440.48 L189.27 440.31 L189.64 439.47 L190.02 439.86 L190.40 439.54 L190.77 440.07 L191.15 441.37 L191.52 440.70 L191.90 440.99 L192.28 441.05 L192.65 441.36 L193.03 441.40 L193.40 440.56 L193.78 439.88 L194.16 439.69 L194.53 439.46 L194.91 440.33 L195.28 441.61 L195.66 441.21 L196.04 441.52 L196.41 439.69 L196.79 440.92 L197.16 440.01 L197.54 440.63 L197.92 440.33 L198.29 439.72 L198.67 440.16 L199.04 441.48 L199.42 440.21 L199.80 440.84 L200.17 439.44 L200.55 441.04 L200.92 441.10 L201.30 439.56 L201.68 440.71 L202.05 441.46 L202.43 439.85 L202.80 439.57 L203.18 440.53 L203.56 441.26 L203.93 439.67 L204.31 440.84 L204.68 441.02 L205.06 441.43 L205.44 439.43 L205.81 440.69 L206.19 440.54 L206.56 439.22 L206.94 437.05 L207.32 433.95 L207.69 431.84 L208.07 425.10 L208.44 417.71 L208.82 405.87 L209.20 391.83 L209.57 384.91 L209.95 383.37 L210.32 383.83 L210.70 386.62 L211.08 394.98 L211.45 401.17 L211.83 405.87 L212.20 410.41 L212.58 414.76 L212.96 419.53 L213.33 421.20 L213.71 423.70 L214.08 425.90 L214.46 427.88 L214.84 429.38 L215.21 431.05 L215.59 431.71 L215.96 432.57 L216.34 431.86 L216.72 432.75 L217.09 431.82 L217.47 433.20 L217.84 433.17 L218.22 433.59 L218.60 433.16 L218.97 432.02 L219.35 431.91 L219.72 431.68 L220.10 433.65 L220.48 432.16 L220.85 432.41 L221.23 432.86 L221.60 431.50 L221.98 432.05 L222.36 432.85 L222.73 431.65 L223.11 432.49 L223.48 432.40 L223.86 432.34 L224.24 432.31 L224.61 433.29 L224.99 431.45 L225.36 432.58 L225.74 432.21 L226.12 432.78 L226.49 431.85 L226.87 432.93 L227.24 432.98 L227.62 432.52 L228.00 430.96 L228.37 431.36 L228.75 431.22 L229.12 432.59 L229.50 431.73 L229.88 431.03 L230.25 430.96 L230.63 431.57 L231.00 432.35 L231.38 431.61 L231.76 430.27 L232.13 430.34 L232.51 430.90 L232.88 431.43 L233.26 430.81 L233.64 430.80 L234.01 431.00 L234.39 430.05 L234.76 430.64 L235.14 431.62 L235.52 430.12 L235.89 430.13 L236.27 431.40 L236.64 430.38 L237.02 429.28 L237.40 429.95 L237.77 429.82 L238.15 430.18 L238.52 430.23 L238.90 428.88 L239.28 430.40 L239.65 429.90 L240.03 430.66 L240.40 429.63 L240.78 429.21 L241.16 429.07 L241.53 428.33 L241.91 429.87 L242.28 429.91 L242.66 429.49 L243.04 429.47 L243.41 428.10 L243.79 429.64 L244.16 429.02 L244.54 427.84 L244.92 429.25 L245.29 429.32 L245.67 429.75 L246.04 430.52 L246.42 431.36 L246.80 431.33 L247.17 434.59 L247.55 436.00 L247.92 435.80 L248.30 437.22 L248.68 438.83 L249.05 439.37 L249.43 439.82 L249.80 440.60 L250.18 440.38 L250.56 440.67 L250.93 440.20 L251.31 440.82 L251.68 440.28 L252.06 441.53 L252.44 439.40 L252.81 441.61 L253.19 440.58 L253.56 440.79 L253.94 441.35 L254.32 439.45 L254.69 440.63 L255.07 441.23 L255.44 440.91 L255.82 441.22 L256.20 440.41 L256.57 439.39 L256.95 439.47 L257.32 441.13 L257.70 440.04 L258.08 440.37 L258.45 439.92 L258.83 441.29 L259.20 441.54 L259.58 441.37 L259.96 439.60 L260.33 441.53 L260.71 441.55 L261.08 440.60 L261.46 441.51 L261.84 441.25 L262.21 439.49 L262.59 441.24 L262.96 439.93 L263.34 439.74 L263.72 440.62 L264.09 440.65 L264.47 441.17 L264.84 440.91 L265.22 440.44 L265.60 440.36 L265.97 440.44 L266.35 440.83 L266.72 439.64 L267.10 440.61 L267.10 442.40Z" fill="#000"/>
<line x1="169.40" y1="442.40" x2="171.60" y2="442.40" stroke="#111" stroke-width="0.8"/>
<line x1="170.30" y1="439.26" x2="171.60" y2="439.26" stroke="#111" stroke-width="0.8"/>
<line x1="170.30" y1="436.13" x2="171.60" y2="436.13" stroke="#111" stroke-width="0.8"/>
<line x1="170.30" y1="432.99" x2="171.60" y2="432.99" stroke="#111" stroke-width="0.8"/>
<line x1="169.40" y1="429.85" x2="171.60" y2="429.85" stroke="#111" stroke-width="0.8"/>
<line x1="170.30" y1="426.71" x2="171.60" y2="426.71" stroke="#111" stroke-width="0.8"/>
<line x1="170.30" y1="423.58" x2="171.60" y2="423.58" stroke="#111" stroke-width="0.8"/>
<line x1="170.30" y1="420.44" x2="171.60" y2="420.44" stroke="#111" stroke-width="0.8"/>
<line x1="169.40" y1="417.30" x2="171.60" y2="417.30" stroke="#111" stroke-width="0.8"/>
<line x1="170.30" y1="414.16" x2="171.60" y2="414.16" stroke="#111" stroke-width="0.8"/>
<line x1="170.30" y1="411.03" x2="171.60" y2="411.03" stroke="#111" stroke-width="0.8"/>
<line x1="170.30" y1="407.89" x2="171.60" y2="407.89" stroke="#111" stroke-width="0.8"/>
<line x1="169.40" y1="404.75" x2="171.60" y2="404.75" stroke="#111" stroke-width="0.8"/>
<line x1="170.30" y1="401.61" x2="171.60" y2="401.61" stroke="#111" stroke-width="0.8"/>
<line x1="170.30" y1="398.48" x2="171.60" y2="398.48" stroke="#111" stroke-width="0.8"/>
<line x1="170.30" y1="395.34" x2="171.60" y2="395.34" stroke="#111" stroke-width="0.8"/>
<line x1="169.40" y1="392.20" x2="171.60" y2="392.20" stroke="#111" stroke-width="0.8"/>
<line x1="170.30" y1="389.06" x2="171.60" y2="389.06" stroke="#111" stroke-width="0.8"/>
<line x1="170.30" y1="385.93" x2="171.60" y2="385.93" stroke="#111" stroke-width="0.8"/>
<line x1="170.30" y1="382.79" x2="171.60" y2="382.79" stroke="#111" stroke-width="0.8"/>
<line x1="169.40" y1="379.65" x2="171.60" y2="379.65" stroke="#111" stroke-width="0.8"/>
<line x1="170.30" y1="376.51" x2="171.60" y2="376.51" stroke="#111" stroke-width="0.8"/>
<line x1="170.30" y1="373.38" x2="171.60" y2="373.38" stroke="#111" stroke-width="0.8"/>
<line x1="170.30" y1="370.24" x2="171.60" y2="370.24" stroke="#111" stroke-width="0.8"/>
<line x1="169.40" y1="367.10" x2="171.60" y2="367.10" stroke="#111" stroke-width="0.8"/>
<line x1="173.10" y1="443.60" x2="173.10" y2="445.80" stroke="#111" stroke-width="0.8"/>
<line x1="177.80" y1="443.60" x2="177.80" y2="444.90" stroke="#111" stroke-width="0.8"/>
<line x1="182.50" y1="443.60" x2="182.50" y2="444.90" stroke="#111" stroke-width="0.8"/>
<line x1="187.20" y1="443.60" x2="187.20" y2="444.90" stroke="#111" stroke-width="0.8"/>
<line x1="191.90" y1="443.60" x2="191.90" y2="445.80" stroke="#111" stroke-width="0.8"/>
<line x1="196.60" y1="443.60" x2="196.60" y2="444.90" stroke="#111" stroke-width="0.8"/>
<line x1="201.30" y1="443.60" x2="201.30" y2="444.90" stroke="#111" stroke-width="0.8"/>
<line x1="206.00" y1="443.60" x2="206.00" y2="444.90" stroke="#111" stroke-width="0.8"/>
<line x1="210.70" y1="443.60" x2="210.70" y2="445.80" stroke="#111" stroke-width="0.8"/>
<line x1="215.40" y1="443.60" x2="215.40" y2="444.90" stroke="#111" stroke-width="0.8"/>
<line x1="220.10" y1="443.60" x2="220.10" y2="444.90" stroke="#111" stroke-width="0.8"/>
<line x1="224.80" y1="443.60" x2="224.80" y2="444.90" stroke="#111" stroke-width="0.8"/>
<line x1="229.50" y1="443.60" x2="229.50" y2="445.80" stroke="#111" stroke-width="0.8"/>
<line x1="234.20" y1="443.60" x2="234.20" y2="444.90" stroke="#111" stroke-width="0.8"/>
<line x1="238.90" y1="443.60" x2="238.90" y2="444.90" stroke="#111" stroke-width="0.8"/>
<line x1="243.60" y1="443.60" x2="243.60" y2="444.90" stroke="#111" stroke-width="0.8"/>
<line x1="248.30" y1="443.60" x2="248.30" y2="445.80" stroke="#111" stroke-width="0.8"/>
<line x1="253.00" y1="443.60" x2="253.00" y2="444.90" stroke="#111" stroke-width="0.8"/>
<line x1="257.70" y1="443.60" x2="257.70" y2="444.90" stroke="#111" stroke-width="0.8"/>
<line x1="262.40" y1="443.60" x2="262.40" y2="444.90" stroke="#111" stroke-width="0.8"/>
<line x1="267.10" y1="443.60" x2="267.10" y2="445.80" stroke="#111" stroke-width="0.8"/>
<text x="0" y="0" font-family="Liberation Sans" font-size="6.9" font-weight="bold" text-anchor="middle" fill="#222" transform="translate(173.10 451.90) scale(0.92 1)">0</text>
<text x="0" y="0" font-family="Liberation Sans" font-size="6.9" font-weight="bold" text-anchor="middle" fill="#222" transform="translate(191.90 451.90) scale(0.92 1)">200</text>
<text x="0" y="0" font-family="Liberation Sans" font-size="6.9" font-weight="bold" text-anchor="middle" fill="#222" transform="translate(210.70 451.90) scale(0.92 1)">400</text>
<text x="0" y="0" font-family="Liberation Sans" font-size="6.9" font-weight="bold" text-anchor="middle" fill="#222" transform="translate(229.50 451.90) scale(0.92 1)">600</text>
<text x="0" y="0" font-family="Liberation Sans" font-size="6.9" font-weight="bold" text-anchor="middle" fill="#222" transform="translate(248.30 451.90) scale(0.92 1)">800</text>
<text x="0" y="0" font-family="Liberation Sans" font-size="6.9" font-weight="bold" text-anchor="middle" fill="#222" transform="translate(266.10 451.90) scale(0.92 1)">1000</text>
<text x="0" y="0" font-family="Liberation Sans" font-size="6.8" font-weight="bold" text-anchor="middle" fill="#222" transform="translate(168.20 442.40) rotate(-90) scale(0.8 1)">0</text>
<text x="0" y="0" font-family="Liberation Sans" font-size="6.8" font-weight="bold" text-anchor="middle" fill="#222" transform="translate(168.20 429.85) rotate(-90) scale(0.8 1)">20</text>
<text x="0" y="0" font-family="Liberation Sans" font-size="6.8" font-weight="bold" text-anchor="middle" fill="#222" transform="translate(168.20 417.30) rotate(-90) scale(0.8 1)">40</text>
<text x="0" y="0" font-family="Liberation Sans" font-size="6.8" font-weight="bold" text-anchor="middle" fill="#222" transform="translate(168.20 404.75) rotate(-90) scale(0.8 1)">60</text>
<text x="0" y="0" font-family="Liberation Sans" font-size="6.8" font-weight="bold" text-anchor="middle" fill="#222" transform="translate(168.20 392.20) rotate(-90) scale(0.8 1)">80</text>
<text x="0" y="0" font-family="Liberation Sans" font-size="6.8" font-weight="bold" text-anchor="middle" fill="#222" transform="translate(168.20 379.65) rotate(-90) scale(0.8 1)">100</text>
<text x="0" y="0" font-family="Liberation Sans" font-size="6.8" font-weight="bold" text-anchor="middle" fill="#222" transform="translate(168.20 367.10) rotate(-90) scale(0.8 1)">120</text>
<text x="0" y="0" font-family="Liberation Serif" font-size="8.7" text-anchor="end" fill="#1a1a1a" transform="translate(267.60 375.80) scale(1.12 1)"><tspan font-size="8.3">sub</tspan><tspan dx="1.2">G</tspan><tspan font-size="7" dy="2">1</tspan><tspan dy="-2">=0,8%</tspan></text>
<text x="0" y="0" font-family="Liberation Serif" font-size="8.7" text-anchor="end" fill="#1a1a1a" transform="translate(267.60 385.75) scale(1.12 1)">G<tspan font-size="7" dy="2">1</tspan><tspan dy="-2">=59,6%</tspan></text>
<text x="0" y="0" font-family="Liberation Serif" font-size="8.7" text-anchor="end" fill="#1a1a1a" transform="translate(267.60 395.70) scale(1.12 1)">S=27,8%</text>
<text x="0" y="0" font-family="Liberation Serif" font-size="8.7" text-anchor="end" fill="#1a1a1a" transform="translate(267.60 405.65) scale(1.12 1)">G<tspan font-size="7" dy="2">2</tspan><tspan dy="-2">/M=11,8%</tspan></text>
<rect x="283.70" y="363.80" width="100.80" height="78.80" fill="#fff" stroke="#222" stroke-width="0.9"/>
<path d="M285.20 441.40 L285.20 437.81 L285.58 437.38 L285.95 439.36 L286.33 437.26 L286.70 437.52 L287.08 439.23 L287.46 437.52 L287.83 437.51 L288.21 438.88 L288.58 437.09 L288.96 438.43 L289.34 438.20 L289.71 437.70 L290.09 437.58 L290.46 437.41 L290.84 438.41 L291.22 437.89 L291.59 438.61 L291.97 438.23 L292.34 437.67 L292.72 438.52 L293.10 437.81 L293.47 436.66 L293.85 437.99 L294.22 437.29 L294.60 438.06 L294.98 436.35 L295.35 437.64 L295.73 437.30 L296.10 435.87 L296.48 436.38 L296.86 435.94 L297.23 435.62 L297.61 435.68 L297.98 435.63 L298.36 436.03 L298.74 435.83 L299.11 435.46 L299.49 435.14 L299.86 434.72 L300.24 433.20 L300.62 434.48 L300.99 434.43 L301.37 433.88 L301.74 433.94 L302.12 432.14 L302.50 431.63 L302.87 431.83 L303.25 431.19 L303.62 431.90 L304.00 431.93 L304.38 431.90 L304.75 431.13 L305.13 431.92 L305.50 431.15 L305.88 431.33 L306.26 430.61 L306.63 430.08 L307.01 430.51 L307.38 431.65 L307.76 430.61 L308.14 430.31 L308.51 430.78 L308.89 431.90 L309.26 431.91 L309.64 431.00 L310.02 430.71 L310.39 431.34 L310.77 430.96 L311.14 431.53 L311.52 431.09 L311.90 432.65 L312.27 431.47 L312.65 431.87 L313.02 433.52 L313.40 433.50 L313.78 433.58 L314.15 432.71 L314.53 433.28 L314.90 434.81 L315.28 433.55 L315.66 434.76 L316.03 433.74 L316.41 435.29 L316.78 435.91 L317.16 435.61 L317.54 435.52 L317.91 435.77 L318.29 435.66 L318.66 436.68 L319.04 436.14 L319.42 436.02 L319.79 432.21 L320.17 429.74 L320.54 423.49 L320.92 412.28 L321.30 394.51 L321.67 386.02 L322.05 383.94 L322.42 384.22 L322.80 389.37 L323.18 400.82 L323.55 409.96 L323.93 418.11 L324.30 422.93 L324.68 427.23 L325.06 430.36 L325.43 433.21 L325.81 434.13 L326.18 436.68 L326.56 436.87 L326.94 436.32 L327.31 436.55 L327.69 436.53 L328.06 437.04 L328.44 437.90 L328.82 437.32 L329.19 437.61 L329.57 436.57 L329.94 437.55 L330.32 436.37 L330.70 436.88 L331.07 437.21 L331.45 436.70 L331.82 436.08 L332.20 437.33 L332.58 437.94 L332.95 436.13 L333.33 437.41 L333.70 436.04 L334.08 436.97 L334.46 437.11 L334.83 436.12 L335.21 437.75 L335.58 436.04 L335.96 437.34 L336.34 436.20 L336.71 435.77 L337.09 436.01 L337.46 437.11 L337.84 435.65 L338.22 436.60 L338.59 437.08 L338.97 436.87 L339.34 437.44 L339.72 436.14 L340.10 436.47 L340.47 436.12 L340.85 435.28 L341.22 436.15 L341.60 436.97 L341.98 435.54 L342.35 436.54 L342.73 435.22 L343.10 435.17 L343.48 435.21 L343.86 434.55 L344.23 435.67 L344.61 434.90 L344.98 435.12 L345.36 435.02 L345.74 435.21 L346.11 435.00 L346.49 433.62 L346.86 433.40 L347.24 434.25 L347.62 433.91 L347.99 435.62 L348.37 434.89 L348.74 434.03 L349.12 433.62 L349.50 435.57 L349.87 433.51 L350.25 433.64 L350.62 435.73 L351.00 435.15 L351.38 434.14 L351.75 435.59 L352.13 436.17 L352.50 435.42 L352.88 435.52 L353.26 435.39 L353.63 436.83 L354.01 436.40 L354.38 437.29 L354.76 435.80 L355.14 436.05 L355.51 436.12 L355.89 438.11 L356.26 438.16 L356.64 436.85 L357.02 437.74 L357.39 436.99 L357.77 437.54 L358.14 439.00 L358.52 438.88 L358.90 437.56 L359.27 438.63 L359.65 438.39 L360.02 437.93 L360.40 439.23 L360.78 439.15 L361.15 438.29 L361.53 439.37 L361.90 438.64 L362.28 438.56 L362.66 439.22 L363.03 439.25 L363.41 437.73 L363.78 437.91 L364.16 438.35 L364.54 438.44 L364.91 437.40 L365.29 438.40 L365.66 439.06 L366.04 438.32 L366.42 438.36 L366.79 438.21 L367.17 438.68 L367.54 438.33 L367.92 439.37 L368.30 437.95 L368.67 437.46 L369.05 437.80 L369.42 437.57 L369.80 437.25 L370.18 438.35 L370.55 438.51 L370.93 437.79 L371.30 438.96 L371.68 438.77 L372.06 438.12 L372.43 439.38 L372.81 437.26 L373.18 437.36 L373.56 438.31 L373.94 438.06 L374.31 438.68 L374.69 438.43 L375.06 439.25 L375.44 438.67 L375.82 439.03 L376.19 438.55 L376.57 437.98 L376.94 437.52 L377.32 439.28 L377.70 439.16 L378.07 438.06 L378.45 437.35 L378.82 438.20 L379.20 438.29 L379.20 441.40Z" fill="#000"/>
<line x1="281.50" y1="441.40" x2="283.70" y2="441.40" stroke="#111" stroke-width="0.8"/>
<line x1="282.40" y1="438.27" x2="283.70" y2="438.27" stroke="#111" stroke-width="0.8"/>
<line x1="282.40" y1="435.14" x2="283.70" y2="435.14" stroke="#111" stroke-width="0.8"/>
<line x1="282.40" y1="432.01" x2="283.70" y2="432.01" stroke="#111" stroke-width="0.8"/>
<line x1="281.50" y1="428.88" x2="283.70" y2="428.88" stroke="#111" stroke-width="0.8"/>
<line x1="282.40" y1="425.75" x2="283.70" y2="425.75" stroke="#111" stroke-width="0.8"/>
<line x1="282.40" y1="422.63" x2="283.70" y2="422.63" stroke="#111" stroke-width="0.8"/>
<line x1="282.40" y1="419.50" x2="283.70" y2="419.50" stroke="#111" stroke-width="0.8"/>
<line x1="281.50" y1="416.37" x2="283.70" y2="416.37" stroke="#111" stroke-width="0.8"/>
<line x1="282.40" y1="413.24" x2="283.70" y2="413.24" stroke="#111" stroke-width="0.8"/>
<line x1="282.40" y1="410.11" x2="283.70" y2="410.11" stroke="#111" stroke-width="0.8"/>
<line x1="282.40" y1="406.98" x2="283.70" y2="406.98" stroke="#111" stroke-width="0.8"/>
<line x1="281.50" y1="403.85" x2="283.70" y2="403.85" stroke="#111" stroke-width="0.8"/>
<line x1="282.40" y1="400.72" x2="283.70" y2="400.72" stroke="#111" stroke-width="0.8"/>
<line x1="282.40" y1="397.59" x2="283.70" y2="397.59" stroke="#111" stroke-width="0.8"/>
<line x1="282.40" y1="394.46" x2="283.70" y2="394.46" stroke="#111" stroke-width="0.8"/>
<line x1="281.50" y1="391.33" x2="283.70" y2="391.33" stroke="#111" stroke-width="0.8"/>
<line x1="282.40" y1="388.20" x2="283.70" y2="388.20" stroke="#111" stroke-width="0.8"/>
<line x1="282.40" y1="385.08" x2="283.70" y2="385.08" stroke="#111" stroke-width="0.8"/>
<line x1="282.40" y1="381.95" x2="283.70" y2="381.95" stroke="#111" stroke-width="0.8"/>
<line x1="281.50" y1="378.82" x2="283.70" y2="378.82" stroke="#111" stroke-width="0.8"/>
<line x1="282.40" y1="375.69" x2="283.70" y2="375.69" stroke="#111" stroke-width="0.8"/>
<line x1="282.40" y1="372.56" x2="283.70" y2="372.56" stroke="#111" stroke-width="0.8"/>
<line x1="282.40" y1="369.43" x2="283.70" y2="369.43" stroke="#111" stroke-width="0.8"/>
<line x1="281.50" y1="366.30" x2="283.70" y2="366.30" stroke="#111" stroke-width="0.8"/>
<line x1="285.20" y1="442.60" x2="285.20" y2="444.80" stroke="#111" stroke-width="0.8"/>
<line x1="289.90" y1="442.60" x2="289.90" y2="443.90" stroke="#111" stroke-width="0.8"/>
<line x1="294.60" y1="442.60" x2="294.60" y2="443.90" stroke="#111" stroke-width="0.8"/>
<line x1="299.30" y1="442.60" x2="299.30" y2="443.90" stroke="#111" stroke-width="0.8"/>
<line x1="304.00" y1="442.60" x2="304.00" y2="444.80" stroke="#111" stroke-width="0.8"/>
<line x1="308.70" y1="442.60" x2="308.70" y2="443.90" stroke="#111" stroke-width="0.8"/>
<line x1="313.40" y1="442.60" x2="313.40" y2="443.90" stroke="#111" stroke-width="0.8"/>
<line x1="318.10" y1="442.60" x2="318.10" y2="443.90" stroke="#111" stroke-width="0.8"/>
<line x1="322.80" y1="442.60" x2="322.80" y2="444.80" stroke="#111" stroke-width="0.8"/>
<line x1="327.50" y1="442.60" x2="327.50" y2="443.90" stroke="#111" stroke-width="0.8"/>
<line x1="332.20" y1="442.60" x2="332.20" y2="443.90" stroke="#111" stroke-width="0.8"/>
<line x1="336.90" y1="442.60" x2="336.90" y2="443.90" stroke="#111" stroke-width="0.8"/>
<line x1="341.60" y1="442.60" x2="341.60" y2="444.80" stroke="#111" stroke-width="0.8"/>
<line x1="346.30" y1="442.60" x2="346.30" y2="443.90" stroke="#111" stroke-width="0.8"/>
<line x1="351.00" y1="442.60" x2="351.00" y2="443.90" stroke="#111" stroke-width="0.8"/>
<line x1="355.70" y1="442.60" x2="355.70" y2="443.90" stroke="#111" stroke-width="0.8"/>
<line x1="360.40" y1="442.60" x2="360.40" y2="444.80" stroke="#111" stroke-width="0.8"/>
<line x1="365.10" y1="442.60" x2="365.10" y2="443.90" stroke="#111" stroke-width="0.8"/>
<line x1="369.80" y1="442.60" x2="369.80" y2="443.90" stroke="#111" stroke-width="0.8"/>
<line x1="374.50" y1="442.60" x2="374.50" y2="443.90" stroke="#111" stroke-width="0.8"/>
<line x1="379.20" y1="442.60" x2="379.20" y2="444.80" stroke="#111" stroke-width="0.8"/>
<text x="0" y="0" font-family="Liberation Sans" font-size="6.9" font-weight="bold" text-anchor="middle" fill="#222" transform="translate(285.20 450.90) scale(0.92 1)">0</text>
<text x="0" y="0" font-family="Liberation Sans" font-size="6.9" font-weight="bold" text-anchor="middle" fill="#222" transform="translate(304.00 450.90) scale(0.92 1)">200</text>
<text x="0" y="0" font-family="Liberation Sans" font-size="6.9" font-weight="bold" text-anchor="middle" fill="#222" transform="translate(322.80 450.90) scale(0.92 1)">400</text>
<text x="0" y="0" font-family="Liberation Sans" font-size="6.9" font-weight="bold" text-anchor="middle" fill="#222" transform="translate(341.60 450.90) scale(0.92 1)">600</text>
<text x="0" y="0" font-family="Liberation Sans" font-size="6.9" font-weight="bold" text-anchor="middle" fill="#222" transform="translate(360.40 450.90) scale(0.92 1)">800</text>
<text x="0" y="0" font-family="Liberation Sans" font-size="6.9" font-weight="bold" text-anchor="middle" fill="#222" transform="translate(378.20 450.90) scale(0.92 1)">1000</text>
<text x="0" y="0" font-family="Liberation Serif" font-size="8.7" text-anchor="end" fill="#1a1a1a" transform="translate(380.90 375.00) scale(1.12 1)"><tspan font-size="8.3">sub</tspan><tspan dx="1.2">G</tspan><tspan font-size="7" dy="2">1</tspan><tspan dy="-2">=14,9%</tspan></text>
<text x="0" y="0" font-family="Liberation Serif" font-size="8.7" text-anchor="end" fill="#1a1a1a" transform="translate(380.90 384.95) scale(1.12 1)">G<tspan font-size="7" dy="2">1</tspan><tspan dy="-2">=65,9%</tspan></text>
<text x="0" y="0" font-family="Liberation Serif" font-size="8.7" text-anchor="end" fill="#1a1a1a" transform="translate(380.90 394.90) scale(1.12 1)">S=12,5%</text>
<text x="0" y="0" font-family="Liberation Serif" font-size="8.7" text-anchor="end" fill="#1a1a1a" transform="translate(380.90 404.85) scale(1.12 1)">G<tspan font-size="7" dy="2">2</tspan><tspan dy="-2">/M=6,7%</tspan></text>
<rect x="393.80" y="364.10" width="99.80" height="77.70" fill="#fff" stroke="#222" stroke-width="0.9"/>
<path d="M395.30 440.60 L395.30 434.97 L395.68 434.04 L396.05 432.99 L396.43 433.49 L396.80 433.68 L397.18 433.87 L397.56 434.04 L397.93 431.91 L398.31 432.24 L398.68 433.14 L399.06 432.15 L399.44 431.67 L399.81 431.01 L400.19 432.17 L400.56 431.87 L400.94 431.91 L401.32 430.79 L401.69 429.82 L402.07 430.01 L402.44 431.10 L402.82 430.36 L403.20 430.80 L403.57 430.39 L403.95 429.44 L404.32 429.99 L404.70 429.53 L405.08 429.39 L405.45 428.81 L405.83 427.67 L406.20 428.87 L406.58 427.87 L406.96 428.19 L407.33 428.29 L407.71 428.15 L408.08 426.96 L408.46 426.72 L408.84 426.87 L409.21 426.44 L409.59 426.73 L409.96 427.62 L410.34 427.73 L410.72 426.96 L411.09 426.85 L411.47 426.46 L411.84 426.20 L412.22 426.46 L412.60 426.10 L412.97 426.82 L413.35 426.86 L413.72 426.67 L414.10 427.41 L414.48 426.83 L414.85 426.75 L415.23 427.65 L415.60 428.13 L415.98 428.14 L416.36 427.73 L416.73 427.93 L417.11 428.19 L417.48 428.51 L417.86 427.82 L418.24 428.02 L418.61 427.53 L418.99 427.53 L419.36 429.70 L419.74 428.89 L420.12 428.17 L420.49 428.67 L420.87 428.53 L421.24 429.38 L421.62 429.15 L422.00 428.15 L422.37 428.65 L422.75 428.28 L423.12 428.31 L423.50 428.44 L423.88 428.73 L424.25 428.80 L424.63 429.06 L425.00 429.23 L425.38 430.64 L425.76 430.94 L426.13 431.17 L426.51 430.78 L426.88 430.64 L427.26 431.65 L427.64 432.50 L428.01 433.56 L428.39 433.65 L428.76 433.86 L429.14 433.47 L429.52 433.13 L429.89 430.85 L430.27 428.63 L430.64 423.40 L431.02 419.70 L431.40 412.02 L431.77 401.25 L432.15 396.80 L432.52 396.58 L432.90 397.12 L433.28 400.30 L433.65 407.47 L434.03 413.69 L434.40 419.44 L434.78 421.87 L435.16 425.73 L435.53 428.65 L435.91 432.51 L436.28 433.14 L436.66 435.66 L437.04 435.09 L437.41 437.13 L437.79 436.33 L438.16 437.60 L438.54 435.96 L438.92 436.22 L439.29 437.38 L439.67 436.34 L440.04 436.69 L440.42 438.07 L440.80 436.58 L441.17 436.57 L441.55 437.97 L441.92 437.07 L442.30 437.89 L442.68 438.52 L443.05 437.57 L443.43 438.30 L443.80 436.79 L444.18 437.06 L444.56 438.08 L444.93 437.72 L445.31 438.47 L445.68 437.82 L446.06 437.27 L446.44 436.76 L446.81 436.43 L447.19 437.19 L447.56 437.56 L447.94 436.58 L448.32 437.19 L448.69 436.65 L449.07 437.61 L449.44 436.37 L449.82 437.85 L450.20 437.33 L450.57 437.62 L450.95 437.20 L451.32 436.57 L451.70 435.76 L452.08 437.64 L452.45 436.33 L452.83 437.02 L453.20 435.57 L453.58 435.64 L453.96 435.04 L454.33 434.95 L454.71 435.58 L455.08 436.37 L455.46 435.30 L455.84 435.85 L456.21 436.25 L456.59 436.60 L456.96 434.87 L457.34 435.93 L457.72 436.64 L458.09 436.53 L458.47 436.80 L458.84 437.07 L459.22 435.63 L459.60 436.36 L459.97 436.84 L460.35 436.90 L460.72 437.12 L461.10 436.71 L461.48 436.69 L461.85 437.88 L462.23 437.21 L462.60 436.26 L462.98 436.70 L463.36 437.21 L463.73 437.53 L464.11 437.75 L464.48 438.18 L464.86 437.87 L465.24 438.31 L465.61 438.52 L465.99 438.35 L466.36 436.44 L466.74 436.52 L467.12 438.56 L467.49 437.88 L467.87 438.42 L468.24 437.90 L468.62 437.33 L469.00 438.15 L469.37 437.69 L469.75 438.29 L470.12 437.54 L470.50 438.35 L470.88 437.98 L471.25 437.77 L471.63 438.08 L472.00 437.60 L472.38 436.96 L472.76 437.72 L473.13 436.80 L473.51 438.31 L473.88 437.11 L474.26 436.85 L474.64 436.58 L475.01 437.16 L475.39 437.99 L475.76 437.16 L476.14 437.29 L476.52 437.80 L476.89 437.36 L477.27 438.59 L477.64 438.67 L478.02 438.28 L478.40 436.65 L478.77 438.64 L479.15 438.12 L479.52 436.99 L479.90 436.73 L480.28 437.76 L480.65 437.56 L481.03 436.67 L481.40 438.05 L481.78 438.45 L482.16 438.08 L482.53 437.08 L482.91 437.96 L483.28 437.41 L483.66 438.52 L484.04 436.85 L484.41 436.55 L484.79 436.69 L485.16 438.34 L485.54 436.55 L485.92 436.72 L486.29 438.19 L486.67 437.76 L487.04 438.34 L487.42 437.87 L487.80 436.99 L488.17 438.48 L488.55 437.23 L488.92 436.93 L489.30 438.57 L489.30 440.60Z" fill="#000"/>
<line x1="391.60" y1="440.60" x2="393.80" y2="440.60" stroke="#111" stroke-width="0.8"/>
<line x1="392.50" y1="437.52" x2="393.80" y2="437.52" stroke="#111" stroke-width="0.8"/>
<line x1="392.50" y1="434.43" x2="393.80" y2="434.43" stroke="#111" stroke-width="0.8"/>
<line x1="392.50" y1="431.35" x2="393.80" y2="431.35" stroke="#111" stroke-width="0.8"/>
<line x1="391.60" y1="428.27" x2="393.80" y2="428.27" stroke="#111" stroke-width="0.8"/>
<line x1="392.50" y1="425.18" x2="393.80" y2="425.18" stroke="#111" stroke-width="0.8"/>
<line x1="392.50" y1="422.10" x2="393.80" y2="422.10" stroke="#111" stroke-width="0.8"/>
<line x1="392.50" y1="419.02" x2="393.80" y2="419.02" stroke="#111" stroke-width="0.8"/>
<line x1="391.60" y1="415.93" x2="393.80" y2="415.93" stroke="#111" stroke-width="0.8"/>
<line x1="392.50" y1="412.85" x2="393.80" y2="412.85" stroke="#111" stroke-width="0.8"/>
<line x1="392.50" y1="409.77" x2="393.80" y2="409.77" stroke="#111" stroke-width="0.8"/>
<line x1="392.50" y1="406.68" x2="393.80" y2="406.68" stroke="#111" stroke-width="0.8"/>
<line x1="391.60" y1="403.60" x2="393.80" y2="403.60" stroke="#111" stroke-width="0.8"/>
<line x1="392.50" y1="400.52" x2="393.80" y2="400.52" stroke="#111" stroke-width="0.8"/>
<line x1="392.50" y1="397.43" x2="393.80" y2="397.43" stroke="#111" stroke-width="0.8"/>
<line x1="392.50" y1="394.35" x2="393.80" y2="394.35" stroke="#111" stroke-width="0.8"/>
<line x1="391.60" y1="391.27" x2="393.80" y2="391.27" stroke="#111" stroke-width="0.8"/>
<line x1="392.50" y1="388.18" x2="393.80" y2="388.18" stroke="#111" stroke-width="0.8"/>
<line x1="392.50" y1="385.10" x2="393.80" y2="385.10" stroke="#111" stroke-width="0.8"/>
<line x1="392.50" y1="382.02" x2="393.80" y2="382.02" stroke="#111" stroke-width="0.8"/>
<line x1="391.60" y1="378.93" x2="393.80" y2="378.93" stroke="#111" stroke-width="0.8"/>
<line x1="392.50" y1="375.85" x2="393.80" y2="375.85" stroke="#111" stroke-width="0.8"/>
<line x1="392.50" y1="372.77" x2="393.80" y2="372.77" stroke="#111" stroke-width="0.8"/>
<line x1="392.50" y1="369.68" x2="393.80" y2="369.68" stroke="#111" stroke-width="0.8"/>
<line x1="391.60" y1="366.60" x2="393.80" y2="366.60" stroke="#111" stroke-width="0.8"/>
<line x1="395.30" y1="441.80" x2="395.30" y2="444.00" stroke="#111" stroke-width="0.8"/>
<line x1="400.00" y1="441.80" x2="400.00" y2="443.10" stroke="#111" stroke-width="0.8"/>
<line x1="404.70" y1="441.80" x2="404.70" y2="443.10" stroke="#111" stroke-width="0.8"/>
<line x1="409.40" y1="441.80" x2="409.40" y2="443.10" stroke="#111" stroke-width="0.8"/>
<line x1="414.10" y1="441.80" x2="414.10" y2="444.00" stroke="#111" stroke-width="0.8"/>
<line x1="418.80" y1="441.80" x2="418.80" y2="443.10" stroke="#111" stroke-width="0.8"/>
<line x1="423.50" y1="441.80" x2="423.50" y2="443.10" stroke="#111" stroke-width="0.8"/>
<line x1="428.20" y1="441.80" x2="428.20" y2="443.10" stroke="#111" stroke-width="0.8"/>
<line x1="432.90" y1="441.80" x2="432.90" y2="444.00" stroke="#111" stroke-width="0.8"/>
<line x1="437.60" y1="441.80" x2="437.60" y2="443.10" stroke="#111" stroke-width="0.8"/>
<line x1="442.30" y1="441.80" x2="442.30" y2="443.10" stroke="#111" stroke-width="0.8"/>
<line x1="447.00" y1="441.80" x2="447.00" y2="443.10" stroke="#111" stroke-width="0.8"/>
<line x1="451.70" y1="441.80" x2="451.70" y2="444.00" stroke="#111" stroke-width="0.8"/>
<line x1="456.40" y1="441.80" x2="456.40" y2="443.10" stroke="#111" stroke-width="0.8"/>
<line x1="461.10" y1="441.80" x2="461.10" y2="443.10" stroke="#111" stroke-width="0.8"/>
<line x1="465.80" y1="441.80" x2="465.80" y2="443.10" stroke="#111" stroke-width="0.8"/>
<line x1="470.50" y1="441.80" x2="470.50" y2="444.00" stroke="#111" stroke-width="0.8"/>
<line x1="475.20" y1="441.80" x2="475.20" y2="443.10" stroke="#111" stroke-width="0.8"/>
<line x1="479.90" y1="441.80" x2="479.90" y2="443.10" stroke="#111" stroke-width="0.8"/>
<line x1="484.60" y1="441.80" x2="484.60" y2="443.10" stroke="#111" stroke-width="0.8"/>
<line x1="489.30" y1="441.80" x2="489.30" y2="444.00" stroke="#111" stroke-width="0.8"/>
<text x="0" y="0" font-family="Liberation Sans" font-size="6.9" font-weight="bold" text-anchor="middle" fill="#222" transform="translate(395.30 450.10) scale(0.92 1)">0</text>
<text x="0" y="0" font-family="Liberation Sans" font-size="6.9" font-weight="bold" text-anchor="middle" fill="#222" transform="translate(414.10 450.10) scale(0.92 1)">200</text>
<text x="0" y="0" font-family="Liberation Sans" font-size="6.9" font-weight="bold" text-anchor="middle" fill="#222" transform="translate(432.90 450.10) scale(0.92 1)">400</text>
<text x="0" y="0" font-family="Liberation Sans" font-size="6.9" font-weight="bold" text-anchor="middle" fill="#222" transform="translate(451.70 450.10) scale(0.92 1)">600</text>
<text x="0" y="0" font-family="Liberation Sans" font-size="6.9" font-weight="bold" text-anchor="middle" fill="#222" transform="translate(470.50 450.10) scale(0.92 1)">800</text>
<text x="0" y="0" font-family="Liberation Sans" font-size="6.9" font-weight="bold" text-anchor="middle" fill="#222" transform="translate(488.30 450.10) scale(0.92 1)">1000</text>
<text x="0" y="0" font-family="Liberation Serif" font-size="8.7" text-anchor="end" fill="#1a1a1a" transform="translate(490.00 375.30) scale(1.12 1)"><tspan font-size="8.3">sub</tspan><tspan dx="1.2">G</tspan><tspan font-size="7" dy="2">1</tspan><tspan dy="-2">=48,5%</tspan></text>
<text x="0" y="0" font-family="Liberation Serif" font-size="8.7" text-anchor="end" fill="#1a1a1a" transform="translate(490.00 385.25) scale(1.12 1)">G<tspan font-size="7" dy="2">1</tspan><tspan dy="-2">=42,1%</tspan></text>
<text x="0" y="0" font-family="Liberation Serif" font-size="8.7" text-anchor="end" fill="#1a1a1a" transform="translate(490.00 395.20) scale(1.12 1)">S=7,1%</text>
<text x="0" y="0" font-family="Liberation Serif" font-size="8.7" text-anchor="end" fill="#1a1a1a" transform="translate(490.00 405.15) scale(1.12 1)">G<tspan font-size="7" dy="2">2</tspan><tspan dy="-2">/M=2,3%</tspan></text>
<text x="227.70" y="228.70" font-family="Liberation Serif" font-size="10.1" font-weight="bold" text-anchor="middle" fill="#000">+ VEGF<tspan font-size="7.2" dy="2.2" font-style="italic" font-weight="normal">165</tspan><tspan dy="-2.2"> 10ng/mL</tspan></text>
<text x="223.90" y="240.60" font-family="Liberation Serif" font-size="10.1" font-weight="bold" text-anchor="middle" fill="#000">+ DMSO</text>
<text x="336.90" y="228.40" font-family="Liberation Serif" font-size="10.1" font-weight="bold" text-anchor="middle" fill="#000">VEGF<tspan font-size="7.2" dy="2.2" font-style="italic" font-weight="normal">165</tspan><tspan dy="-2.2"> 10ng/mL</tspan></text>
<text x="334.40" y="240.60" font-family="Liberation Serif" font-size="10.1" font-weight="bold" text-anchor="middle" fill="#000">+ dasatinib 50nM</text>
<text x="447.80" y="229.00" font-family="Liberation Serif" font-size="10.1" font-weight="bold" text-anchor="middle" fill="#000">VEGF<tspan font-size="7.2" dy="2.2" font-style="italic" font-weight="normal">165</tspan><tspan dy="-2.2"> 10ng/mL</tspan></text>
<text x="444.80" y="241.20" font-family="Liberation Serif" font-size="10.1" font-weight="bold" text-anchor="middle" fill="#000">+ dasatinib 100nM</text>
<text x="225.20" y="348.70" font-family="Liberation Serif" font-size="10.1" font-weight="bold" text-anchor="middle" fill="#000">+ PDGF-BB 10ng/mL</text>
<text x="224.00" y="359.30" font-family="Liberation Serif" font-size="10.1" font-weight="bold" text-anchor="middle" fill="#000">+ DMSO</text>
<text x="336.30" y="349.20" font-family="Liberation Serif" font-size="10.1" font-weight="bold" text-anchor="middle" fill="#000">PDGF-BB 10ng/mL</text>
<text x="334.40" y="360.50" font-family="Liberation Serif" font-size="10.1" font-weight="bold" text-anchor="middle" fill="#000">+ dasatinib 50nM</text>
<text x="448.60" y="349.60" font-family="Liberation Serif" font-size="10.1" font-weight="bold" text-anchor="middle" fill="#000">PDGF-BB 10ng/mL</text>
<text x="444.80" y="360.20" font-family="Liberation Serif" font-size="10.1" font-weight="bold" text-anchor="middle" fill="#000">+ dasatinib 100nM</text>
<rect x="368.20" y="19.50" width="29.50" height="24.10" fill="#fff" stroke="#8a8a8a" stroke-width="1.1"/>
<path d="M369.2 42.6 L369.2 41.6 L378.2 41.2 L378.8 27.5 L380.2 27.7 L380.8 39.8 L384.5 40.4 L387.5 40.0 L388.5 39.0 L389.7 40.2 L392.0 41.4 L396.7 41.7 L396.7 42.6Z" fill="#111" filter="url(#bl05)"/>
<rect x="489.20" y="19.70" width="29.30" height="24.50" fill="#fff" stroke="#8a8a8a" stroke-width="1.1"/>
<path d="M490.2 43.2 L490.2 42.2 L499.6 41.8 L500.2 27.7 L501.6 27.9 L502.2 40.4 L505.9 41.0 L508.9 40.6 L509.9 39.6 L511.1 40.8 L513.4 42.0 L517.5 42.3 L517.5 43.2Z" fill="#111" filter="url(#bl05)"/>
<text x="0.00" y="494.30" font-family="Liberation Sans" font-size="17" font-weight="bold" text-anchor="start" fill="#000">D</text>
<line x1="44.30" y1="588.20" x2="46.50" y2="588.20" stroke="#444" stroke-width="1"/>
<text x="0" y="0" font-family="Liberation Serif" font-size="9.3" font-weight="bold" text-anchor="end" fill="#000" transform="translate(41.20 591.40) scale(1.08 1)">0</text>
<line x1="46.50" y1="572.53" x2="157.40" y2="572.53" stroke="#555" stroke-width="1.1"/>
<line x1="44.30" y1="572.53" x2="46.50" y2="572.53" stroke="#444" stroke-width="1"/>
<text x="0" y="0" font-family="Liberation Serif" font-size="9.3" font-weight="bold" text-anchor="end" fill="#000" transform="translate(41.20 575.73) scale(1.08 1)">0,1</text>
<line x1="46.50" y1="556.86" x2="157.40" y2="556.86" stroke="#555" stroke-width="1.1"/>
<line x1="44.30" y1="556.86" x2="46.50" y2="556.86" stroke="#444" stroke-width="1"/>
<text x="0" y="0" font-family="Liberation Serif" font-size="9.3" font-weight="bold" text-anchor="end" fill="#000" transform="translate(41.20 560.06) scale(1.08 1)">0,2</text>
<line x1="46.50" y1="541.19" x2="157.40" y2="541.19" stroke="#555" stroke-width="1.1"/>
<line x1="44.30" y1="541.19" x2="46.50" y2="541.19" stroke="#444" stroke-width="1"/>
<text x="0" y="0" font-family="Liberation Serif" font-size="9.3" font-weight="bold" text-anchor="end" fill="#000" transform="translate(41.20 544.39) scale(1.08 1)">0,3</text>
<line x1="46.50" y1="525.52" x2="157.40" y2="525.52" stroke="#555" stroke-width="1.1"/>
<line x1="44.30" y1="525.52" x2="46.50" y2="525.52" stroke="#444" stroke-width="1"/>
<text x="0" y="0" font-family="Liberation Serif" font-size="9.3" font-weight="bold" text-anchor="end" fill="#000" transform="translate(41.20 528.72) scale(1.08 1)">0,4</text>
<line x1="46.50" y1="509.85" x2="157.40" y2="509.85" stroke="#555" stroke-width="1.1"/>
<line x1="44.30" y1="509.85" x2="46.50" y2="509.85" stroke="#444" stroke-width="1"/>
<text x="0" y="0" font-family="Liberation Serif" font-size="9.3" font-weight="bold" text-anchor="end" fill="#000" transform="translate(41.20 513.05) scale(1.08 1)">0,5</text>
<line x1="46.50" y1="494.18" x2="157.40" y2="494.18" stroke="#555" stroke-width="1.1"/>
<line x1="44.30" y1="494.18" x2="46.50" y2="494.18" stroke="#444" stroke-width="1"/>
<text x="0" y="0" font-family="Liberation Serif" font-size="9.3" font-weight="bold" text-anchor="end" fill="#000" transform="translate(41.20 497.38) scale(1.08 1)">0,6</text>
<line x1="45.20" y1="580.37" x2="46.50" y2="580.37" stroke="#444" stroke-width="0.8"/>
<line x1="45.20" y1="572.53" x2="46.50" y2="572.53" stroke="#444" stroke-width="0.8"/>
<line x1="45.20" y1="564.70" x2="46.50" y2="564.70" stroke="#444" stroke-width="0.8"/>
<line x1="45.20" y1="556.86" x2="46.50" y2="556.86" stroke="#444" stroke-width="0.8"/>
<line x1="45.20" y1="549.03" x2="46.50" y2="549.03" stroke="#444" stroke-width="0.8"/>
<line x1="45.20" y1="541.19" x2="46.50" y2="541.19" stroke="#444" stroke-width="0.8"/>
<line x1="45.20" y1="533.36" x2="46.50" y2="533.36" stroke="#444" stroke-width="0.8"/>
<line x1="45.20" y1="525.52" x2="46.50" y2="525.52" stroke="#444" stroke-width="0.8"/>
<line x1="45.20" y1="517.69" x2="46.50" y2="517.69" stroke="#444" stroke-width="0.8"/>
<line x1="45.20" y1="509.85" x2="46.50" y2="509.85" stroke="#444" stroke-width="0.8"/>
<line x1="45.20" y1="502.02" x2="46.50" y2="502.02" stroke="#444" stroke-width="0.8"/>
<line x1="46.50" y1="490.00" x2="46.50" y2="590.50" stroke="#555" stroke-width="1.2"/>
<line x1="46.50" y1="588.20" x2="157.40" y2="588.20" stroke="#555" stroke-width="1.2"/>
<line x1="46.50" y1="588.20" x2="46.50" y2="590.80" stroke="#444" stroke-width="1"/>
<line x1="68.68" y1="588.20" x2="68.68" y2="590.80" stroke="#444" stroke-width="1"/>
<line x1="90.86" y1="588.20" x2="90.86" y2="590.80" stroke="#444" stroke-width="1"/>
<line x1="113.04" y1="588.20" x2="113.04" y2="590.80" stroke="#444" stroke-width="1"/>
<line x1="135.22" y1="588.20" x2="135.22" y2="590.80" stroke="#444" stroke-width="1"/>
<line x1="157.40" y1="588.20" x2="157.40" y2="590.80" stroke="#444" stroke-width="1"/>
<text x="46.00" y="602.70" font-family="Liberation Serif" font-size="9.2" font-weight="bold" text-anchor="middle" fill="#000">0</text>
<text x="68.18" y="602.70" font-family="Liberation Serif" font-size="9.2" font-weight="bold" text-anchor="middle" fill="#000">5</text>
<text x="90.36" y="602.70" font-family="Liberation Serif" font-size="9.2" font-weight="bold" text-anchor="middle" fill="#000">10</text>
<text x="112.54" y="602.70" font-family="Liberation Serif" font-size="9.2" font-weight="bold" text-anchor="middle" fill="#000">25</text>
<text x="134.72" y="602.70" font-family="Liberation Serif" font-size="9.2" font-weight="bold" text-anchor="middle" fill="#000">50</text>
<text x="159.90" y="602.70" font-family="Liberation Serif" font-size="9.2" font-weight="bold" text-anchor="middle" fill="#000">100</text>
<text x="175.80" y="604.30" font-family="Liberation Serif" font-size="10.6" font-weight="bold" text-anchor="start" fill="#000">dasatinib (nM)</text>
<text x="22.00" y="543.00" font-family="Liberation Serif" font-size="9.2" font-weight="bold" text-anchor="middle" fill="#000" transform="rotate(-90 22 543)">Optical Density</text>
<path d="M46.50 515.33 C50.20 518.81 61.29 530.30 68.68 536.18 C76.07 542.05 83.47 546.36 90.86 550.59 C98.25 554.82 105.65 558.64 113.04 561.56 C120.43 564.49 127.83 566.42 135.22 568.14 C142.61 569.87 153.70 571.28 157.40 571.90" fill="none" stroke="#222" stroke-width="1"/>
<path d="M46.50 583.19 C50.20 583.68 61.29 585.85 68.68 586.16 C76.07 586.48 83.47 585.90 90.86 585.07 C98.25 584.23 105.65 581.41 113.04 581.15 C120.43 580.89 127.83 582.45 135.22 583.50 C142.61 584.54 153.70 586.76 157.40 587.42" fill="none" stroke="#333" stroke-width="1"/>
<line x1="46.50" y1="512.20" x2="46.50" y2="518.47" stroke="#222" stroke-width="0.9"/>
<line x1="45.00" y1="512.20" x2="48.00" y2="512.20" stroke="#222" stroke-width="0.9"/>
<line x1="45.00" y1="518.47" x2="48.00" y2="518.47" stroke="#222" stroke-width="0.9"/>
<line x1="68.68" y1="531.47" x2="68.68" y2="540.88" stroke="#222" stroke-width="0.9"/>
<line x1="67.18" y1="531.47" x2="70.18" y2="531.47" stroke="#222" stroke-width="0.9"/>
<line x1="67.18" y1="540.88" x2="70.18" y2="540.88" stroke="#222" stroke-width="0.9"/>
<line x1="90.86" y1="544.01" x2="90.86" y2="557.17" stroke="#222" stroke-width="0.9"/>
<line x1="89.36" y1="544.01" x2="92.36" y2="544.01" stroke="#222" stroke-width="0.9"/>
<line x1="89.36" y1="557.17" x2="92.36" y2="557.17" stroke="#222" stroke-width="0.9"/>
<line x1="113.04" y1="558.11" x2="113.04" y2="565.01" stroke="#222" stroke-width="0.9"/>
<line x1="111.54" y1="558.11" x2="114.54" y2="558.11" stroke="#222" stroke-width="0.9"/>
<line x1="111.54" y1="565.01" x2="114.54" y2="565.01" stroke="#222" stroke-width="0.9"/>
<line x1="135.22" y1="564.38" x2="135.22" y2="571.90" stroke="#222" stroke-width="0.9"/>
<line x1="133.72" y1="564.38" x2="136.72" y2="564.38" stroke="#222" stroke-width="0.9"/>
<line x1="133.72" y1="571.90" x2="136.72" y2="571.90" stroke="#222" stroke-width="0.9"/>
<line x1="157.40" y1="568.61" x2="157.40" y2="575.19" stroke="#222" stroke-width="0.9"/>
<line x1="155.90" y1="568.61" x2="158.90" y2="568.61" stroke="#222" stroke-width="0.9"/>
<line x1="155.90" y1="575.19" x2="158.90" y2="575.19" stroke="#222" stroke-width="0.9"/>
<line x1="46.50" y1="582.25" x2="46.50" y2="584.13" stroke="#222" stroke-width="0.9"/>
<line x1="45.00" y1="582.25" x2="48.00" y2="582.25" stroke="#222" stroke-width="0.9"/>
<line x1="45.00" y1="584.13" x2="48.00" y2="584.13" stroke="#222" stroke-width="0.9"/>
<line x1="68.68" y1="585.38" x2="68.68" y2="586.95" stroke="#222" stroke-width="0.9"/>
<line x1="67.18" y1="585.38" x2="70.18" y2="585.38" stroke="#222" stroke-width="0.9"/>
<line x1="67.18" y1="586.95" x2="70.18" y2="586.95" stroke="#222" stroke-width="0.9"/>
<line x1="90.86" y1="584.13" x2="90.86" y2="586.01" stroke="#222" stroke-width="0.9"/>
<line x1="89.36" y1="584.13" x2="92.36" y2="584.13" stroke="#222" stroke-width="0.9"/>
<line x1="89.36" y1="586.01" x2="92.36" y2="586.01" stroke="#222" stroke-width="0.9"/>
<line x1="113.04" y1="574.88" x2="113.04" y2="587.42" stroke="#222" stroke-width="0.9"/>
<line x1="111.54" y1="574.88" x2="114.54" y2="574.88" stroke="#222" stroke-width="0.9"/>
<line x1="111.54" y1="587.42" x2="114.54" y2="587.42" stroke="#222" stroke-width="0.9"/>
<line x1="135.22" y1="579.74" x2="135.22" y2="587.26" stroke="#222" stroke-width="0.9"/>
<line x1="133.72" y1="579.74" x2="136.72" y2="579.74" stroke="#222" stroke-width="0.9"/>
<line x1="133.72" y1="587.26" x2="136.72" y2="587.26" stroke="#222" stroke-width="0.9"/>
<line x1="157.40" y1="586.79" x2="157.40" y2="588.04" stroke="#222" stroke-width="0.9"/>
<line x1="155.90" y1="586.79" x2="158.90" y2="586.79" stroke="#222" stroke-width="0.9"/>
<line x1="155.90" y1="588.04" x2="158.90" y2="588.04" stroke="#222" stroke-width="0.9"/>
<path d="M46.50 512.73 L49.10 515.33 L46.50 517.93 L43.90 515.33Z" fill="#000"/>
<path d="M68.68 533.58 L71.28 536.18 L68.68 538.78 L66.08 536.18Z" fill="#000"/>
<path d="M90.86 547.99 L93.46 550.59 L90.86 553.19 L88.26 550.59Z" fill="#000"/>
<path d="M113.04 558.96 L115.64 561.56 L113.04 564.16 L110.44 561.56Z" fill="#000"/>
<path d="M135.22 565.54 L137.82 568.14 L135.22 570.74 L132.62 568.14Z" fill="#000"/>
<path d="M157.40 569.30 L160.00 571.90 L157.40 574.50 L154.80 571.90Z" fill="#000"/>
<circle cx="46.50" cy="583.19" r="2.2" fill="#fff" stroke="#222" stroke-width="1"/>
<circle cx="68.68" cy="586.16" r="2.2" fill="#fff" stroke="#222" stroke-width="1"/>
<circle cx="90.86" cy="585.07" r="2.2" fill="#fff" stroke="#222" stroke-width="1"/>
<circle cx="113.04" cy="581.15" r="2.2" fill="#fff" stroke="#222" stroke-width="1"/>
<circle cx="135.22" cy="583.50" r="2.2" fill="#fff" stroke="#222" stroke-width="1"/>
<circle cx="157.40" cy="587.42" r="2.2" fill="#fff" stroke="#222" stroke-width="1"/>
<line x1="166.90" y1="537.30" x2="178.50" y2="537.30" stroke="#222" stroke-width="1"/>
<path d="M172.70 535.30 L174.70 537.30 L172.70 539.30 L170.70 537.30Z" fill="#000"/>
<text x="184.20" y="540.40" font-family="Liberation Serif" font-size="9.9" text-anchor="start" fill="#000">fibronectin</text>
<line x1="166.90" y1="545.40" x2="178.50" y2="545.40" stroke="#222" stroke-width="1"/>
<circle cx="172.7" cy="545.4" r="1.6" fill="#fff" stroke="#222" stroke-width="0.9"/>
<text x="184.20" y="548.60" font-family="Liberation Serif" font-size="9.2" text-anchor="start" fill="#000">BSA</text>
<text x="261.60" y="494.50" font-family="Liberation Sans" font-size="17" font-weight="bold" text-anchor="start" fill="#000">E</text>
<line x1="317.80" y1="589.40" x2="319.60" y2="589.40" stroke="#444" stroke-width="1"/>
<text x="316.80" y="592.70" font-family="Liberation Serif" font-size="9.6" text-anchor="end" fill="#000">0</text>
<line x1="319.60" y1="570.38" x2="448.70" y2="570.38" stroke="#555" stroke-width="1.1"/>
<line x1="317.80" y1="570.38" x2="319.60" y2="570.38" stroke="#444" stroke-width="1"/>
<text x="316.80" y="573.68" font-family="Liberation Serif" font-size="9.6" text-anchor="end" fill="#000">20</text>
<line x1="319.60" y1="551.36" x2="448.70" y2="551.36" stroke="#555" stroke-width="1.1"/>
<line x1="317.80" y1="551.36" x2="319.60" y2="551.36" stroke="#444" stroke-width="1"/>
<text x="316.80" y="554.66" font-family="Liberation Serif" font-size="9.6" text-anchor="end" fill="#000">40</text>
<line x1="319.60" y1="532.34" x2="448.70" y2="532.34" stroke="#555" stroke-width="1.1"/>
<line x1="317.80" y1="532.34" x2="319.60" y2="532.34" stroke="#444" stroke-width="1"/>
<text x="316.80" y="535.64" font-family="Liberation Serif" font-size="9.6" text-anchor="end" fill="#000">60</text>
<line x1="319.60" y1="513.32" x2="448.70" y2="513.32" stroke="#555" stroke-width="1.1"/>
<line x1="317.80" y1="513.32" x2="319.60" y2="513.32" stroke="#444" stroke-width="1"/>
<text x="316.80" y="516.62" font-family="Liberation Serif" font-size="9.6" text-anchor="end" fill="#000">80</text>
<line x1="319.60" y1="494.30" x2="448.70" y2="494.30" stroke="#555" stroke-width="1.1"/>
<line x1="317.80" y1="494.30" x2="319.60" y2="494.30" stroke="#444" stroke-width="1"/>
<text x="316.80" y="497.60" font-family="Liberation Serif" font-size="9.6" text-anchor="end" fill="#000">100</text>
<line x1="319.60" y1="493.00" x2="319.60" y2="591.00" stroke="#555" stroke-width="1.2"/>
<rect x="327.20" y="556.12" width="11.70" height="33.28" fill="#fff" stroke="#1a1a1a" stroke-width="1.1"/>
<line x1="333.05" y1="549.46" x2="333.05" y2="562.77" stroke="#222" stroke-width="0.9"/>
<line x1="331.05" y1="549.46" x2="335.05" y2="549.46" stroke="#222" stroke-width="0.9"/>
<line x1="331.05" y1="562.77" x2="335.05" y2="562.77" stroke="#222" stroke-width="0.9"/>
<rect x="342.40" y="508.56" width="12.30" height="80.83" fill="#000" stroke="#1a1a1a" stroke-width="1.1"/>
<line x1="348.55" y1="507.14" x2="348.55" y2="508.56" stroke="#222" stroke-width="0.9"/>
<line x1="346.55" y1="507.14" x2="350.55" y2="507.14" stroke="#222" stroke-width="0.9"/>
<rect x="358.20" y="532.34" width="12.20" height="57.06" fill="#000" stroke="#1a1a1a" stroke-width="1.1"/>
<line x1="364.30" y1="527.11" x2="364.30" y2="532.34" stroke="#222" stroke-width="0.9"/>
<line x1="362.30" y1="527.11" x2="366.30" y2="527.11" stroke="#222" stroke-width="0.9"/>
<rect x="374.40" y="559.92" width="12.10" height="29.48" fill="#000" stroke="#1a1a1a" stroke-width="1.1"/>
<line x1="380.45" y1="557.54" x2="380.45" y2="559.92" stroke="#222" stroke-width="0.9"/>
<line x1="378.45" y1="557.54" x2="382.45" y2="557.54" stroke="#222" stroke-width="0.9"/>
<rect x="396.70" y="515.22" width="11.20" height="74.18" fill="#6e6e6e" stroke="#1a1a1a" stroke-width="1.1"/>
<line x1="402.30" y1="513.32" x2="402.30" y2="515.22" stroke="#222" stroke-width="0.9"/>
<line x1="400.30" y1="513.32" x2="404.30" y2="513.32" stroke="#222" stroke-width="0.9"/>
<rect x="411.50" y="548.51" width="11.60" height="40.89" fill="#6e6e6e" stroke="#1a1a1a" stroke-width="1.1"/>
<line x1="417.30" y1="547.08" x2="417.30" y2="548.51" stroke="#222" stroke-width="0.9"/>
<line x1="415.30" y1="547.08" x2="419.30" y2="547.08" stroke="#222" stroke-width="0.9"/>
<rect x="427.70" y="574.18" width="11.10" height="15.22" fill="#6e6e6e" stroke="#1a1a1a" stroke-width="1.1"/>
<line x1="433.25" y1="571.81" x2="433.25" y2="574.18" stroke="#222" stroke-width="0.9"/>
<line x1="431.25" y1="571.81" x2="435.25" y2="571.81" stroke="#222" stroke-width="0.9"/>
<line x1="319.60" y1="589.40" x2="448.70" y2="589.40" stroke="#333" stroke-width="1.2"/>
<text x="332.60" y="601.00" font-family="Liberation Serif" font-size="9.6" font-weight="bold" text-anchor="middle" fill="#000">-</text>
<text x="347.50" y="601.00" font-family="Liberation Serif" font-size="9.6" font-weight="bold" text-anchor="middle" fill="#000">-</text>
<text x="364.20" y="601.00" font-family="Liberation Serif" font-size="9.6" font-weight="bold" text-anchor="middle" fill="#000">25</text>
<text x="380.40" y="601.00" font-family="Liberation Serif" font-size="9.6" font-weight="bold" text-anchor="middle" fill="#000">50</text>
<text x="401.80" y="601.00" font-family="Liberation Serif" font-size="9.6" font-weight="bold" text-anchor="middle" fill="#000">-</text>
<text x="417.30" y="601.00" font-family="Liberation Serif" font-size="9.6" font-weight="bold" text-anchor="middle" fill="#000">25</text>
<text x="433.20" y="601.00" font-family="Liberation Serif" font-size="9.6" font-weight="bold" text-anchor="middle" fill="#000">50</text>
<text x="452.20" y="600.20" font-family="Liberation Serif" font-size="10.6" font-weight="bold" text-anchor="start" fill="#000">dasatinib (nM)</text>
<rect x="454.60" y="512.90" width="4.00" height="4.20" fill="#fff" stroke="#111" stroke-width="0.9"/>
<text x="462.20" y="518.20" font-family="Liberation Serif" font-size="10" text-anchor="start" fill="#000">SFM</text>
<rect x="454.60" y="524.30" width="4.00" height="4.20" fill="#000" stroke="#111" stroke-width="0.9"/>
<text x="462.20" y="529.60" font-family="Liberation Serif" font-size="10" text-anchor="start" fill="#000">VEGF<tspan font-size="7.2" dy="2" font-style="italic">165</tspan></text>
<rect x="454.60" y="535.10" width="4.00" height="4.20" fill="#6e6e6e" stroke="#111" stroke-width="0.9"/>
<text x="462.20" y="540.40" font-family="Liberation Serif" font-size="10" text-anchor="start" fill="#000">PDGF-BB</text>
<text x="287.60" y="541.00" font-family="Liberation Serif" font-size="11" font-weight="bold" text-anchor="middle" fill="#000" transform="rotate(-90 287.6 541)">Number of</text>
<text x="297.80" y="542.00" font-family="Liberation Serif" font-size="10.8" font-weight="bold" text-anchor="middle" fill="#000" transform="rotate(-90 297.8 542)">migrated cells</text>
<text x="0.00" y="636.10" font-family="Liberation Sans" font-size="17" font-weight="bold" text-anchor="start" fill="#000">F</text>
<text x="166.90" y="630.60" font-family="Liberation Serif" font-size="9.5" text-anchor="middle" fill="#000">-</text>
<text x="182.80" y="630.80" font-family="Liberation Serif" font-size="9.5" text-anchor="middle" fill="#000">+</text>
<text x="199.50" y="630.80" font-family="Liberation Serif" font-size="9.5" text-anchor="middle" fill="#000">+</text>
<text x="216.60" y="630.80" font-family="Liberation Serif" font-size="9.5" text-anchor="middle" fill="#000">+</text>
<text x="230.60" y="630.80" font-family="Liberation Serif" font-size="9.5" text-anchor="middle" fill="#000">+</text>
<text x="254.00" y="630.60" font-family="Liberation Serif" font-size="9.5" text-anchor="middle" fill="#000">-</text>
<text x="269.30" y="630.60" font-family="Liberation Serif" font-size="9.5" text-anchor="middle" fill="#000">-</text>
<text x="285.20" y="630.60" font-family="Liberation Serif" font-size="9.5" text-anchor="middle" fill="#000">-</text>
<text x="301.70" y="630.60" font-family="Liberation Serif" font-size="9.5" text-anchor="middle" fill="#000">-</text>
<text x="167.00" y="642.80" font-family="Liberation Serif" font-size="9.5" text-anchor="middle" fill="#000">-</text>
<text x="184.50" y="642.80" font-family="Liberation Serif" font-size="9.5" text-anchor="middle" fill="#000">-</text>
<text x="199.70" y="642.80" font-family="Liberation Serif" font-size="9.5" text-anchor="middle" fill="#000">-</text>
<text x="216.30" y="642.80" font-family="Liberation Serif" font-size="9.5" text-anchor="middle" fill="#000">-</text>
<text x="233.50" y="642.80" font-family="Liberation Serif" font-size="9.5" text-anchor="middle" fill="#000">-</text>
<text x="256.00" y="643.20" font-family="Liberation Serif" font-size="9.5" text-anchor="middle" fill="#000">+</text>
<text x="270.00" y="643.20" font-family="Liberation Serif" font-size="9.5" text-anchor="middle" fill="#000">+</text>
<text x="287.00" y="643.20" font-family="Liberation Serif" font-size="9.5" text-anchor="middle" fill="#000">+</text>
<text x="304.20" y="643.20" font-family="Liberation Serif" font-size="9.5" text-anchor="middle" fill="#000">+</text>
<text x="166.60" y="654.60" font-family="Liberation Serif" font-size="9.3" text-anchor="middle" fill="#000">-</text>
<text x="184.30" y="654.60" font-family="Liberation Serif" font-size="9.3" text-anchor="middle" fill="#000">-</text>
<text x="199.80" y="654.60" font-family="Liberation Serif" font-size="9.3" font-weight="bold" text-anchor="middle" fill="#000">10</text>
<text x="218.20" y="654.60" font-family="Liberation Serif" font-size="9.3" font-weight="bold" text-anchor="middle" fill="#000">25</text>
<text x="233.60" y="654.60" font-family="Liberation Serif" font-size="9.3" font-weight="bold" text-anchor="middle" fill="#000">50</text>
<text x="255.00" y="654.60" font-family="Liberation Serif" font-size="9.3" text-anchor="middle" fill="#000">-</text>
<text x="270.90" y="654.60" font-family="Liberation Serif" font-size="9.3" font-weight="bold" text-anchor="middle" fill="#000">10</text>
<text x="287.70" y="654.60" font-family="Liberation Serif" font-size="9.3" font-weight="bold" text-anchor="middle" fill="#000">25</text>
<text x="303.60" y="654.60" font-family="Liberation Serif" font-size="9.3" font-weight="bold" text-anchor="middle" fill="#000">50</text>
<text x="320.80" y="630.30" font-family="Liberation Serif" font-size="8.8" font-weight="bold" text-anchor="start" fill="#000">PDGF-BB</text>
<text x="320.80" y="643.00" font-family="Liberation Serif" font-size="8.9" font-weight="bold" text-anchor="start" fill="#000">VEGF<tspan font-size="7" dy="2" font-style="italic" font-weight="normal">165</tspan></text>
<text x="320.80" y="653.30" font-family="Liberation Serif" font-size="10.45" font-weight="bold" text-anchor="start" fill="#000">dasatinib (nM)</text>
<rect x="151.60" y="657.40" width="162.40" height="157.40" fill="#fff" stroke="#444" stroke-width="1.4"/>
<defs><filter id="bb" x="-30%" y="-100%" width="160%" height="300%"><feGaussianBlur stdDeviation="1.3 0.8"/></filter><filter id="bb2" x="-30%" y="-100%" width="160%" height="300%"><feGaussianBlur stdDeviation="1.6 1.3"/></filter><linearGradient id="pg" x1="0" x2="1" y1="0" y2="0"><stop offset="0" stop-color="#000" stop-opacity="0.08"/><stop offset="0.15" stop-color="#000" stop-opacity="0"/><stop offset="1" stop-color="#fff" stop-opacity="0.05"/></linearGradient></defs>
<clipPath id="bp0"><rect x="153.2" y="659.0" width="159.2" height="24.40"/></clipPath>
<clipPath id="bp1"><rect x="153.2" y="685.8" width="159.2" height="23.90"/></clipPath>
<clipPath id="bp2"><rect x="153.2" y="712.3" width="159.2" height="23.40"/></clipPath>
<clipPath id="bp3"><rect x="153.2" y="737.8" width="159.2" height="23.70"/></clipPath>
<clipPath id="bp4"><rect x="153.2" y="763.7" width="159.2" height="23.40"/></clipPath>
<clipPath id="bp5"><rect x="153.2" y="789.2" width="159.2" height="23.80"/></clipPath>
<g clip-path="url(#bp0)"><rect x="153.2" y="659.0" width="159.2" height="24.40" fill="#a9a9a9"/><rect x="153.2" y="659.0" width="159.2" height="24.40" fill="url(#pg)"/><ellipse cx="164.0" cy="672.7" rx="9.0" ry="2.3" fill="#6e6e6e" opacity="0.9" filter="url(#bb)"/><ellipse cx="181.5" cy="673.2" rx="9.5" ry="2.3" fill="#6e6e6e" opacity="0.9" filter="url(#bb)"/><ellipse cx="199.0" cy="673.7" rx="9.5" ry="2.3" fill="#727272" opacity="0.9" filter="url(#bb)"/><ellipse cx="216.0" cy="674.3" rx="9.0" ry="2.1" fill="#767676" opacity="0.9" filter="url(#bb)"/><ellipse cx="232.0" cy="674.6" rx="8.0" ry="1.9" fill="#7e7e7e" opacity="0.9" filter="url(#bb)"/><rect x="243.0" y="670.1" width="18.0" height="8.6" rx="3" ry="3.0" fill="#000" opacity="1" filter="url(#bb)"/><rect x="258.0" y="670.0" width="20.0" height="8.4" rx="3" ry="3.0" fill="#000" opacity="1" filter="url(#bb)"/><rect x="275.0" y="669.0" width="20.0" height="8.6" rx="3" ry="3.0" fill="#000" opacity="1" filter="url(#bb)"/><rect x="292.0" y="667.6" width="18.6" height="9.0" rx="3" ry="3.0" fill="#000" opacity="1" filter="url(#bb)"/></g>
<g clip-path="url(#bp1)"><rect x="153.2" y="685.8" width="159.2" height="23.90" fill="#ababab"/><rect x="153.2" y="685.8" width="159.2" height="23.90" fill="url(#pg)"/><ellipse cx="190.0" cy="699.6" rx="26.0" ry="5.5" fill="#7a7a7a" opacity="0.8" filter="url(#bb2)"/><ellipse cx="163.0" cy="700.0" rx="7.0" ry="2.0" fill="#7e7e7e" opacity="0.8" filter="url(#bb)"/><ellipse cx="184.0" cy="699.8" rx="13.0" ry="3.8" fill="#000" opacity="1" filter="url(#bb)"/><ellipse cx="200.0" cy="699.5" rx="11.0" ry="3.2" fill="#000" opacity="1" filter="url(#bb)"/><ellipse cx="214.0" cy="699.2" rx="9.0" ry="2.2" fill="#1e1e1e" opacity="1" filter="url(#bb)"/><ellipse cx="226.0" cy="698.8" rx="5.0" ry="1.2" fill="#6a6a6a" opacity="0.8" filter="url(#bb)"/><ellipse cx="258.0" cy="697.4" rx="16.0" ry="1.9" fill="#8e8e8e" opacity="0.8" filter="url(#bb)"/><ellipse cx="288.0" cy="697.4" rx="12.0" ry="1.4" fill="#9c9c9c" opacity="0.6" filter="url(#bb)"/></g>
<g clip-path="url(#bp2)"><rect x="153.2" y="712.3" width="159.2" height="23.40" fill="#adadad"/><rect x="153.2" y="712.3" width="159.2" height="23.40" fill="url(#pg)"/><ellipse cx="163.5" cy="721.8" rx="6.5" ry="1.9" fill="#707070" opacity="1" filter="url(#bb)"/><ellipse cx="187.0" cy="724.2" rx="9.0" ry="2.1" fill="#6c6c6c" opacity="1" filter="url(#bb)"/><ellipse cx="216.0" cy="725.4" rx="16.0" ry="1.2" fill="#949494" opacity="0.8" filter="url(#bb)"/><ellipse cx="257.0" cy="726.7" rx="15.0" ry="4.0" fill="#000" opacity="1" filter="url(#bb)"/><ellipse cx="271.0" cy="726.0" rx="7.0" ry="3.0" fill="#0a0a0a" opacity="1" filter="url(#bb)"/><path d="M276 724.6 L283 723.2 L290 721.9 L297 720.4 L301 719.6 L301 720.6 L297 721.8 L290 723.4 L283 725.4 L276 727.2Z" fill="#333" filter="url(#bb)"/><ellipse cx="304.0" cy="718.5" rx="3.0" ry="0.9" fill="#777" opacity="0.7" filter="url(#bb)"/></g>
<g clip-path="url(#bp3)"><rect x="153.2" y="737.8" width="159.2" height="23.70" fill="#b3b3b3"/><rect x="153.2" y="737.8" width="159.2" height="23.70" fill="url(#pg)"/><rect x="243.0" y="739.0" width="13.5" height="10.0" rx="3" ry="3.0" fill="#8a8a8a" opacity="0.75" filter="url(#bb2)"/><rect x="261.0" y="739.0" width="12.5" height="10.0" rx="3" ry="3.0" fill="#8a8a8a" opacity="0.75" filter="url(#bb2)"/><rect x="173.8" y="748.9" width="13.7" height="6.2" rx="3" ry="3.0" fill="#000" opacity="1" filter="url(#bb)"/><rect x="188.3" y="749.1" width="16.9" height="6.0" rx="3" ry="3.0" fill="#000" opacity="1" filter="url(#bb)"/><rect x="208.5" y="751.6" width="10.0" height="2.8" rx="3" ry="1.4" fill="#1e1e1e" opacity="1" filter="url(#bb)"/><rect x="242.5" y="748.3" width="14.5" height="5.0" rx="3" ry="2.5" fill="#000" opacity="1" filter="url(#bb)"/><rect x="260.3" y="748.4" width="13.7" height="4.8" rx="3" ry="2.4" fill="#000" opacity="1" filter="url(#bb)"/><rect x="278.0" y="748.2" width="13.0" height="3.2" rx="3" ry="1.6" fill="#3a3a3a" opacity="1" filter="url(#bb)"/><rect x="296.0" y="749.2" width="10.0" height="1.6" rx="3" ry="0.8" fill="#9a9a9a" opacity="0.6" filter="url(#bb)"/></g>
<g clip-path="url(#bp4)"><rect x="153.2" y="763.7" width="159.2" height="23.40" fill="#b3b3b3"/><rect x="153.2" y="763.7" width="159.2" height="23.40" fill="url(#pg)"/><rect x="242.8" y="776.1" width="15.8" height="4.6" rx="3" ry="2.3" fill="#000" opacity="1" filter="url(#bb)"/><rect x="260.4" y="777.2" width="15.4" height="3.6" rx="3" ry="1.8" fill="#000" opacity="1" filter="url(#bb)"/><rect x="278.0" y="776.0" width="13.0" height="4.0" rx="3" ry="2.0" fill="#9c9c9c" opacity="0.7" filter="url(#bb2)"/><rect x="243.0" y="773.5" width="15.0" height="3.0" rx="3" ry="1.5" fill="#7a7a7a" opacity="0.7" filter="url(#bb2)"/><ellipse cx="172.0" cy="776.0" rx="10.0" ry="7.0" fill="#a6a6a6" opacity="0.6" filter="url(#bb2)"/><ellipse cx="200.0" cy="775.0" rx="8.0" ry="8.0" fill="#a4a4a4" opacity="0.5" filter="url(#bb2)"/><ellipse cx="300.0" cy="777.0" rx="6.0" ry="5.0" fill="#aaaaaa" opacity="0.5" filter="url(#bb2)"/></g>
<g clip-path="url(#bp5)"><rect x="153.2" y="789.2" width="159.2" height="23.80" fill="#b0b0b0"/><rect x="153.2" y="789.2" width="159.2" height="23.80" fill="url(#pg)"/><ellipse cx="163.6" cy="794.5" rx="6.0" ry="3.0" fill="#969696" opacity="0.7" filter="url(#bb2)"/><rect x="156.5" y="798.9" width="14.5" height="7.0" rx="3" ry="3.0" fill="#000" opacity="1" filter="url(#bb)"/><rect x="172.0" y="798.9" width="18.0" height="7.6" rx="3" ry="3.0" fill="#000" opacity="1" filter="url(#bb)"/><rect x="190.5" y="799.5" width="109.5" height="8.0" rx="3" ry="3.0" fill="#000" opacity="1" filter="url(#bb)"/><rect x="293.0" y="798.0" width="15.0" height="8.0" rx="3" ry="3.0" fill="#000" opacity="1" filter="url(#bb)"/><ellipse cx="306.5" cy="798.6" rx="4.0" ry="3.4" fill="#000" opacity="1" filter="url(#bb)"/><ellipse cx="236.0" cy="805.0" rx="5.0" ry="3.0" fill="#000" opacity="1" filter="url(#bb)"/><ellipse cx="254.0" cy="805.0" rx="6.0" ry="2.5" fill="#000" opacity="1" filter="url(#bb)"/></g>
<text x="142.80" y="676.50" font-family="Liberation Serif" font-size="9" font-weight="bold" text-anchor="end" fill="#000">200 kDa</text>
<line x1="145.20" y1="673.50" x2="150.20" y2="673.50" stroke="#222" stroke-width="1"/>
<text x="142.80" y="700.70" font-family="Liberation Serif" font-size="9" font-weight="bold" text-anchor="end" fill="#000">200 kDa</text>
<line x1="145.20" y1="697.70" x2="150.20" y2="697.70" stroke="#222" stroke-width="1"/>
<text x="142.80" y="728.00" font-family="Liberation Serif" font-size="9" font-weight="bold" text-anchor="end" fill="#000">60 kDa</text>
<line x1="145.20" y1="725.00" x2="150.20" y2="725.00" stroke="#222" stroke-width="1"/>
<text x="142.80" y="755.00" font-family="Liberation Serif" font-size="9" font-weight="bold" text-anchor="end" fill="#000">66 kDa</text>
<line x1="145.20" y1="752.00" x2="150.20" y2="752.00" stroke="#222" stroke-width="1"/>
<text x="142.80" y="774.90" font-family="Liberation Serif" font-size="9" font-weight="bold" text-anchor="end" fill="#000">44 kDa</text>
<line x1="145.20" y1="771.90" x2="150.20" y2="771.90" stroke="#222" stroke-width="1"/>
<text x="142.80" y="782.90" font-family="Liberation Serif" font-size="9" font-weight="bold" text-anchor="end" fill="#000">42 kDa</text>
<line x1="145.20" y1="779.90" x2="150.20" y2="779.90" stroke="#222" stroke-width="1"/>
<text x="142.80" y="805.50" font-family="Liberation Serif" font-size="9" font-weight="bold" text-anchor="end" fill="#000">46 kDa</text>
<line x1="145.20" y1="802.50" x2="150.20" y2="802.50" stroke="#222" stroke-width="1"/>
<text x="322.20" y="674.40" font-family="Liberation Serif" font-size="9.1" font-weight="bold" text-anchor="start" fill="#000">pVEGF-R2</text>
<text x="322.20" y="701.30" font-family="Liberation Serif" font-size="9.1" font-weight="bold" text-anchor="start" fill="#000">pPDGF-R&#946;</text>
<text x="322.20" y="726.50" font-family="Liberation Serif" font-size="9.1" font-weight="bold" text-anchor="start" fill="#000">pSrc</text>
<text x="322.20" y="753.50" font-family="Liberation Serif" font-size="9.1" font-weight="bold" text-anchor="start" fill="#000">pAKT</text>
<text x="322.20" y="781.10" font-family="Liberation Serif" font-size="9.1" font-weight="bold" text-anchor="start" fill="#000">pERK-1/2</text>
<text x="322.20" y="804.70" font-family="Liberation Serif" font-size="9.1" font-weight="bold" text-anchor="start" fill="#000">Actin</text>
<text x="163.50" y="828.90" font-family="Liberation Sans" font-size="14" font-weight="bold" text-anchor="middle" fill="#000">1</text>
<text x="181.50" y="828.90" font-family="Liberation Sans" font-size="14" font-weight="bold" text-anchor="middle" fill="#000">2</text>
<text x="199.70" y="828.90" font-family="Liberation Sans" font-size="14" font-weight="bold" text-anchor="middle" fill="#000">3</text>
<text x="216.10" y="828.90" font-family="Liberation Sans" font-size="14" font-weight="bold" text-anchor="middle" fill="#000">4</text>
<text x="233.50" y="828.90" font-family="Liberation Sans" font-size="14" font-weight="bold" text-anchor="middle" fill="#000">5</text>
<text x="250.40" y="828.90" font-family="Liberation Sans" font-size="14" font-weight="bold" text-anchor="middle" fill="#000">6</text>
<text x="266.60" y="828.90" font-family="Liberation Sans" font-size="14" font-weight="bold" text-anchor="middle" fill="#000">7</text>
<text x="283.20" y="828.90" font-family="Liberation Sans" font-size="14" font-weight="bold" text-anchor="middle" fill="#000">8</text>
<text x="300.00" y="828.90" font-family="Liberation Sans" font-size="14" font-weight="bold" text-anchor="middle" fill="#000">9</text>
</svg></body></html>
